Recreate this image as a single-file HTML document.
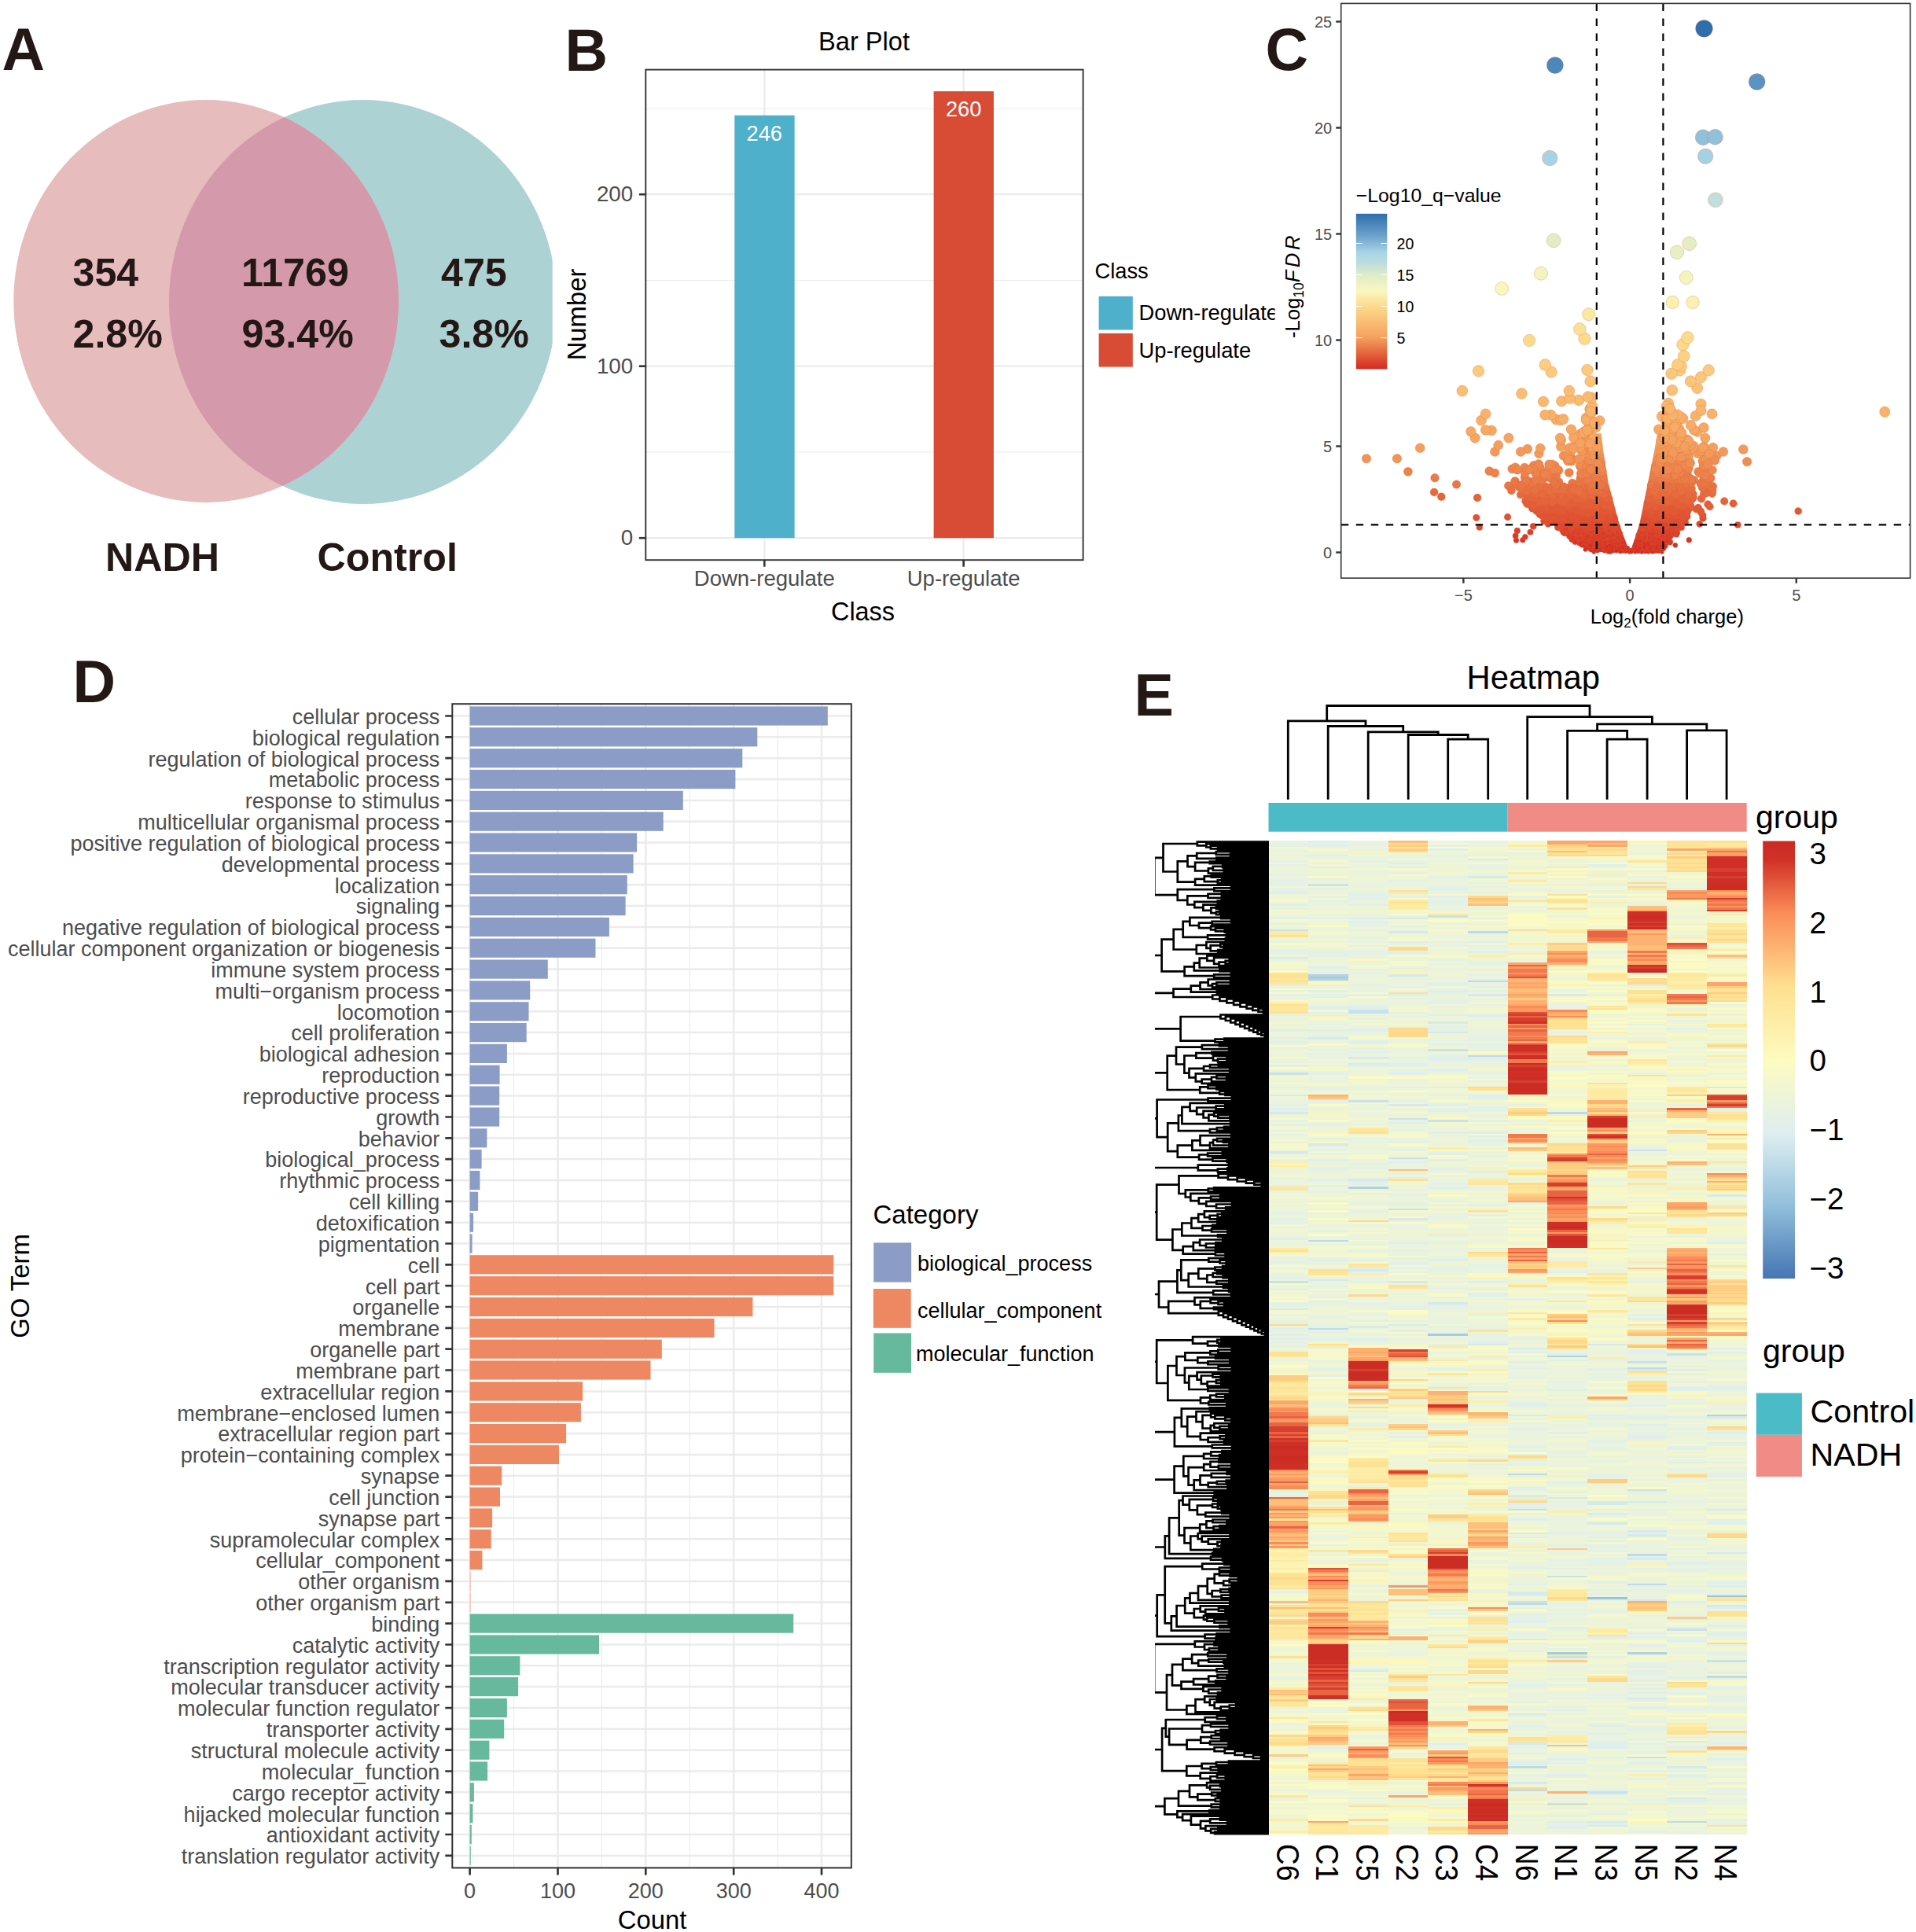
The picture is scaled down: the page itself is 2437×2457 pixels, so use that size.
<!DOCTYPE html>
<html><head><meta charset="utf-8"><title>Figure</title>
<style>html,body{margin:0;padding:0;background:#fff}svg{display:block}text{font-family:"Liberation Sans",sans-serif}</style>
</head><body>
<svg width="2437" height="2457" viewBox="0 0 2437 2457">
<rect width="2437" height="2457" fill="#fff"/>
<defs><clipPath id="vc"><rect x="0" y="100" width="702.7" height="600"/></clipPath><clipPath id="vl"><ellipse cx="262.2" cy="383" rx="244.9" ry="256"/></clipPath></defs>
<g clip-path="url(#vc)">
<ellipse cx="461.6" cy="384" rx="246.6" ry="257" fill="#add2d3"/>
<ellipse cx="262.2" cy="383" rx="244.9" ry="256" fill="#e7bcbd"/>
<g clip-path="url(#vl)"><ellipse cx="461.6" cy="384" rx="246.6" ry="257" fill="#d49aab"/></g>
</g>
<g font-weight="bold" font-size="50.2" fill="#231815">
<text x="92.5" y="363.7">354</text>
<text x="92.5" y="441.9">2.8%</text>
<text x="307" y="363.7">11769</text>
<text x="307.5" y="441.9">93.4%</text>
<text x="561" y="363.7">475</text>
<text x="558.5" y="441.9">3.8%</text>
<text x="134" y="726.1">NADH</text>
<text x="403.5" y="726.1">Control</text>
</g>
<rect x="821.3" y="88.6" width="556.3" height="623.6" fill="#fff"/>
<path d="M821.3 575H1377.6" stroke="#ebebeb" stroke-width="1.1"/>
<path d="M821.3 356.5H1377.6" stroke="#ebebeb" stroke-width="1.1"/>
<path d="M821.3 138H1377.6" stroke="#ebebeb" stroke-width="1.1"/>
<path d="M821.3 684.2H1377.6" stroke="#ebebeb" stroke-width="2.2"/>
<path d="M821.3 465.7H1377.6" stroke="#ebebeb" stroke-width="2.2"/>
<path d="M821.3 247.2H1377.6" stroke="#ebebeb" stroke-width="2.2"/>
<path d="M972.3 88.6V712.2" stroke="#ebebeb" stroke-width="2.2"/>
<path d="M1225.6 88.6V712.2" stroke="#ebebeb" stroke-width="2.2"/>
<rect x="934.3" y="146.7" width="76.3" height="537.5" fill="#4eb0cb"/>
<rect x="1187.6" y="116.1" width="76.3" height="568.1" fill="#d84c36"/>
<rect x="821.3" y="88.6" width="556.3" height="623.6" fill="none" stroke="#333" stroke-width="1.9"/>
<path d="M812.8 684.2H821.3" stroke="#333" stroke-width="2.6"/>
<path d="M812.8 465.7H821.3" stroke="#333" stroke-width="2.6"/>
<path d="M812.8 247.2H821.3" stroke="#333" stroke-width="2.6"/>
<path d="M972.3 712.2V720.7" stroke="#333" stroke-width="2.6"/>
<path d="M1225.6 712.2V720.7" stroke="#333" stroke-width="2.6"/>
<g font-size="27.8" fill="#4d4d4d">
<text x="805.3" y="693.1" text-anchor="end">0</text>
<text x="805.3" y="474.6" text-anchor="end">100</text>
<text x="805.3" y="256.1" text-anchor="end">200</text>
<text x="972.3" y="745.3" text-anchor="middle" font-size="27.5">Down-regulate</text>
<text x="1225.6" y="745.3" text-anchor="middle" font-size="27.5">Up-regulate</text>
</g>
<g font-size="27.2" fill="#fff" text-anchor="middle">
<text x="972.3" y="178.9">246</text><text x="1225.6" y="148.2">260</text></g>
<g fill="#000">
<text x="1099" y="63.8" font-size="32.6" text-anchor="middle">Bar Plot</text>
<text x="1097.5" y="789" font-size="32.4" text-anchor="middle">Class</text>
<text transform="translate(744.5 400) rotate(-90)" font-size="32.8" text-anchor="middle">Number</text>
<text x="1392.5" y="354.2" font-size="27.3">Class</text>
<defs><clipPath id="bl"><rect x="1380" y="300" width="241.6" height="200"/></clipPath></defs>
<g clip-path="url(#bl)" font-size="27.3"><text x="1448.5" y="407.4">Down-regulate</text><text x="1448.5" y="455">Up-regulate</text></g>
</g>
<rect x="1397.6" y="376.8" width="43.2" height="42.7" fill="#4eb0cb"/><rect x="1397.6" y="423.9" width="43.2" height="42.7" fill="#d84c36"/>
<rect x="1705.7" y="4.4" width="723.9" height="730.8" fill="#fff"/>
<defs><linearGradient id="vg" gradientUnits="userSpaceOnUse" x1="0" y1="702.5" x2="0" y2="540.5">
<stop offset="0%" stop-color="#d22a22"/>
<stop offset="21.7%" stop-color="#dd482e"/>
<stop offset="41.7%" stop-color="#e4643c"/>
<stop offset="83.3%" stop-color="#f3a05e"/>
<stop offset="100%" stop-color="#f5ac66"/>
</linearGradient></defs>
<polygon points="2072.7,702 2070.7,696.6 2068.7,691.2 2066.7,685.8 2064.7,680.4 2062.7,675 2060.7,669.6 2059,664.2 2057.6,658.8 2056.1,653.4 2054.7,648 2053.2,642.6 2051.8,637.2 2050.3,631.8 2048.9,626.4 2047.5,621 2046,615.6 1939.8,615.6 1941.9,621 1941.9,626.4 1941.9,631.8 1941.9,637.2 1944.7,642.6 1951.8,648 1958.8,653.4 1965.9,658.8 1972.9,664.2 1980,669.6 1987,675 1994.1,680.4 2001.1,685.8 2008.2,691.2 2015.2,696.6 2022.3,702" fill="url(#vg)"/>
<polygon points="2073.5,702 2075.3,696.6 2077.1,691.2 2079,685.8 2080.8,680.4 2082.6,675 2084.4,669.6 2085.8,664.2 2086.9,658.8 2088,653.4 2089.1,648 2090.2,642.6 2091.3,637.2 2092.4,631.8 2093.5,626.4 2094.5,621 2095.6,615.6 2096.7,610.2 2097.8,604.8 2098.8,599.4 2099.9,594 2101,588.6 2151.4,588.6 2151.4,594 2151.4,599.4 2151.4,604.8 2151.4,610.2 2151.4,615.6 2151.4,621 2151.4,626.4 2151.4,631.8 2151.4,637.2 2151.4,642.6 2151.4,648 2150.4,653.4 2146.4,658.8 2142.4,664.2 2138.3,669.6 2134.3,675 2130.3,680.4 2126.3,685.8 2122.2,691.2 2118.2,696.6 2114.2,702" fill="url(#vg)"/>
<polygon points="2047.5,621.5 2045.9,615.6 2044.9,609.8 2044,604 2043.1,598.1 2042.2,592.2 2041.3,586.4 2040.4,580.5 2039.5,574.7 2038.6,568.9 2038,563 2037.4,557.1 2036.8,551.3 2030.9,551.3 2029.2,557.1 2027.4,563 2025.8,568.9 2024.4,574.7 2023,580.5 2021.6,586.4 2020.2,592.2 2018.8,598.1 2017.4,604 2016,609.8 2014.8,615.6 2014,621.5" fill="url(#vg)"/>
<polygon points="2099.9,594.5 2101.1,588.4 2102.3,582.4 2103.5,576.3 2104.7,570.2 2105.8,564.1 2106.9,558 2107.9,552 2108.9,545.9 2114.8,545.9 2117.3,552 2119.7,558 2122.1,564.1 2124.4,570.2 2126.7,576.3 2128.9,582.4 2131.1,588.4 2133.4,594.5" fill="url(#vg)"/>
<g stroke="#e2622c" stroke-opacity=".3" stroke-width=".9">
<g fill="#d22a22">
<circle cx="2096.7" cy="702.2" r="2.3"/>
<circle cx="2063.4" cy="701.1" r="2.5"/>
<circle cx="2088.5" cy="699.6" r="2.7"/>
<circle cx="2094.4" cy="701.6" r="2.4"/>
<circle cx="2047.9" cy="700.7" r="2.6"/>
<circle cx="2051.6" cy="700.8" r="2.5"/>
<circle cx="2049.4" cy="700.3" r="2.6"/>
<circle cx="2101.8" cy="700.6" r="2.6"/>
<circle cx="2071.3" cy="699.5" r="2.7"/>
<circle cx="2071.9" cy="702" r="2.3"/>
<circle cx="2104.3" cy="701.2" r="2.5"/>
<circle cx="2110.7" cy="699.2" r="2.7"/>
<circle cx="2110.5" cy="701.3" r="2.5"/>
<circle cx="2047.5" cy="699.3" r="2.7"/>
<circle cx="2111.1" cy="700" r="2.6"/>
<circle cx="2053.5" cy="700.2" r="2.6"/>
<circle cx="2099.6" cy="700.8" r="2.5"/>
<circle cx="2056.9" cy="699.1" r="2.7"/>
<circle cx="2088.1" cy="702.4" r="2.2"/>
<circle cx="2040.5" cy="700.5" r="2.6"/>
<circle cx="2065.9" cy="700.6" r="2.6"/>
<circle cx="2074.6" cy="699.7" r="2.7"/>
<circle cx="2056.9" cy="699.8" r="2.7"/>
<circle cx="2025.2" cy="700" r="2.6"/>
<circle cx="2104.6" cy="700.9" r="2.5"/>
<circle cx="2075.6" cy="700.5" r="2.6"/>
<circle cx="2046" cy="700.3" r="2.6"/>
<circle cx="2066.9" cy="700.5" r="2.6"/>
<circle cx="2045.5" cy="702.3" r="2.3"/>
<circle cx="2056.9" cy="700.2" r="2.6"/>
<circle cx="2065.7" cy="700.8" r="2.5"/>
<circle cx="2081.1" cy="699.4" r="2.7"/>
<circle cx="2114" cy="702.4" r="2.2"/>
</g>
<g fill="#d43024">
<circle cx="2036.9" cy="696.5" r="2.9"/>
<circle cx="2067.4" cy="697.6" r="2.9"/>
<circle cx="2062.1" cy="698.6" r="2.8"/>
<circle cx="2015.7" cy="694.2" r="3.1"/>
<circle cx="2054.5" cy="696.5" r="2.9"/>
<circle cx="2056.7" cy="695.6" r="3"/>
<circle cx="2099.6" cy="694.9" r="3"/>
<circle cx="2091.2" cy="694.9" r="3"/>
<circle cx="2016.5" cy="698.7" r="2.8"/>
<circle cx="2070.7" cy="699" r="2.7"/>
<circle cx="2060.3" cy="695.4" r="3"/>
<circle cx="2098.6" cy="694.9" r="3"/>
<circle cx="2098.4" cy="698.3" r="2.8"/>
<circle cx="2034.8" cy="694.4" r="3.1"/>
<circle cx="2038.4" cy="696.3" r="3"/>
<circle cx="2041.1" cy="698.8" r="2.8"/>
<circle cx="2116.2" cy="697.3" r="2.9"/>
<circle cx="2107.5" cy="692.4" r="3.2"/>
<circle cx="2041" cy="695.6" r="3"/>
<circle cx="2029.2" cy="698" r="2.8"/>
<circle cx="2062" cy="695.9" r="3"/>
<circle cx="2059.2" cy="698" r="2.8"/>
<circle cx="2063.6" cy="696.6" r="2.9"/>
<circle cx="2097" cy="695.3" r="3"/>
<circle cx="2102" cy="694.9" r="3"/>
<circle cx="2130.8" cy="693.3" r="3.1"/>
<circle cx="2040" cy="694.9" r="3"/>
<circle cx="2053" cy="695.9" r="3"/>
<circle cx="2098.5" cy="698" r="2.8"/>
<circle cx="2046.2" cy="694.9" r="3"/>
<circle cx="2089.6" cy="699" r="2.7"/>
<circle cx="2071.1" cy="699" r="2.7"/>
<circle cx="2105.6" cy="697.4" r="2.9"/>
<circle cx="2049.9" cy="694.7" r="3.1"/>
<circle cx="2024.2" cy="696.9" r="2.9"/>
<circle cx="2047" cy="694.3" r="3.1"/>
<circle cx="2055.8" cy="696.5" r="2.9"/>
<circle cx="2051" cy="697.3" r="2.9"/>
<circle cx="2099.3" cy="696.5" r="2.9"/>
<circle cx="2089.9" cy="695.9" r="3"/>
<circle cx="2106.9" cy="698" r="2.8"/>
<circle cx="2039.6" cy="694.4" r="3.1"/>
<circle cx="2079" cy="697.6" r="2.9"/>
<circle cx="2040.7" cy="696.7" r="2.9"/>
<circle cx="2070" cy="697" r="2.9"/>
<circle cx="2113.6" cy="693.2" r="3.1"/>
<circle cx="2109.7" cy="695.7" r="3"/>
<circle cx="2085.4" cy="697" r="2.9"/>
<circle cx="2104.5" cy="696.1" r="3"/>
<circle cx="2064" cy="695" r="3"/>
<circle cx="2065.6" cy="698.5" r="2.8"/>
<circle cx="2095.8" cy="696.1" r="3"/>
<circle cx="2023.6" cy="694.8" r="3.1"/>
<circle cx="2085.7" cy="696.6" r="2.9"/>
</g>
<g fill="#d63627">
<circle cx="2098.9" cy="687.1" r="3.4"/>
<circle cx="2061.9" cy="686" r="3.5"/>
<circle cx="2041.8" cy="686.1" r="3.5"/>
<circle cx="2015.8" cy="690.6" r="3.3"/>
<circle cx="2008.4" cy="688.6" r="3.4"/>
<circle cx="2124.5" cy="689.1" r="3.4"/>
<circle cx="2057.2" cy="690.6" r="3.3"/>
<circle cx="2048.3" cy="688.4" r="3.4"/>
<circle cx="2019.7" cy="690" r="3.3"/>
<circle cx="2031.4" cy="691.6" r="3.2"/>
<circle cx="2097.4" cy="692.2" r="3.2"/>
<circle cx="2028" cy="689.9" r="3.3"/>
<circle cx="2053.9" cy="691.6" r="3.2"/>
<circle cx="2119.2" cy="690.5" r="3.3"/>
<circle cx="2021.3" cy="686.6" r="3.5"/>
<circle cx="2105.3" cy="691.7" r="3.2"/>
<circle cx="2002.4" cy="688" r="3.4"/>
<circle cx="2020.9" cy="687" r="3.4"/>
<circle cx="2038" cy="691.3" r="3.2"/>
<circle cx="2008.7" cy="690.8" r="3.3"/>
<circle cx="2099.1" cy="689.9" r="3.3"/>
<circle cx="2017.3" cy="690" r="3.3"/>
<circle cx="2027.4" cy="687.3" r="3.4"/>
<circle cx="2109.7" cy="686.5" r="3.5"/>
<circle cx="2036.4" cy="688.1" r="3.4"/>
<circle cx="2096.9" cy="689.4" r="3.3"/>
<circle cx="2148.3" cy="686.7" r="3.5"/>
<circle cx="2090.1" cy="689" r="3.4"/>
</g>
<g fill="#d83b29">
<circle cx="2059.7" cy="685.4" r="3.5"/>
<circle cx="2042.3" cy="679.8" r="3.7"/>
<circle cx="2020.8" cy="680.3" r="3.7"/>
<circle cx="2097.2" cy="682.9" r="3.6"/>
<circle cx="2094.5" cy="681.8" r="3.7"/>
<circle cx="2014.2" cy="680.4" r="3.7"/>
<circle cx="2020.3" cy="680.4" r="3.7"/>
<circle cx="2023.6" cy="681.2" r="3.7"/>
<circle cx="2047.9" cy="680.5" r="3.7"/>
<circle cx="2045.1" cy="683" r="3.6"/>
<circle cx="2084.2" cy="680.7" r="3.7"/>
<circle cx="2025.8" cy="682" r="3.7"/>
<circle cx="2032.7" cy="681.2" r="3.7"/>
<circle cx="2044.2" cy="679" r="3.8"/>
<circle cx="2005.2" cy="685.3" r="3.5"/>
<circle cx="2030.2" cy="682.8" r="3.6"/>
<circle cx="2051.5" cy="679.6" r="3.7"/>
<circle cx="2008.8" cy="683.3" r="3.6"/>
<circle cx="2032.9" cy="679" r="3.8"/>
<circle cx="2052.8" cy="680.6" r="3.7"/>
<circle cx="2132.3" cy="679.7" r="3.7"/>
<circle cx="2091.9" cy="684.8" r="3.5"/>
<circle cx="2104.4" cy="684.9" r="3.5"/>
<circle cx="2119.4" cy="682.7" r="3.6"/>
<circle cx="2049.5" cy="685.5" r="3.5"/>
<circle cx="2029.7" cy="682.3" r="3.6"/>
</g>
<g fill="#da412b">
<circle cx="2035.6" cy="678.8" r="3.8"/>
<circle cx="2041.7" cy="675.9" r="3.9"/>
<circle cx="2106.9" cy="673.2" r="4"/>
<circle cx="1990.2" cy="674.2" r="3.9"/>
<circle cx="2011" cy="675.1" r="3.9"/>
<circle cx="2055.8" cy="674" r="3.9"/>
<circle cx="2007.4" cy="678.6" r="3.8"/>
<circle cx="1987.5" cy="673.4" r="3.9"/>
<circle cx="2021.6" cy="674.5" r="3.9"/>
<circle cx="2133.2" cy="677.3" r="3.8"/>
<circle cx="2108.6" cy="673.8" r="3.9"/>
<circle cx="2002.4" cy="675.8" r="3.9"/>
<circle cx="2027.7" cy="674.4" r="3.9"/>
<circle cx="2093.9" cy="675" r="3.9"/>
<circle cx="2051.6" cy="678.5" r="3.8"/>
<circle cx="2035.3" cy="672.3" r="4"/>
<circle cx="2040.3" cy="672.6" r="4"/>
<circle cx="2007.8" cy="675.6" r="3.9"/>
<circle cx="2045.9" cy="678.3" r="3.8"/>
<circle cx="2042.9" cy="678.1" r="3.8"/>
<circle cx="2029.8" cy="672.3" r="4"/>
<circle cx="2092.9" cy="677" r="3.8"/>
<circle cx="1993.5" cy="676.7" r="3.8"/>
</g>
<g fill="#dd472e">
<circle cx="2047.8" cy="670.4" r="4"/>
<circle cx="2054.2" cy="670" r="4.1"/>
<circle cx="2210.3" cy="667.5" r="4.1"/>
<circle cx="1997.4" cy="668.2" r="4.1"/>
<circle cx="1950.2" cy="669.3" r="4.1"/>
<circle cx="1969.1" cy="666.3" r="4.2"/>
<circle cx="2039.7" cy="668.7" r="4.1"/>
<circle cx="2011.4" cy="671.1" r="4"/>
<circle cx="2097.2" cy="667.2" r="4.1"/>
<circle cx="2088.8" cy="668.5" r="4.1"/>
<circle cx="2033.6" cy="667.1" r="4.1"/>
<circle cx="2030.9" cy="668.5" r="4.1"/>
<circle cx="1993" cy="667.2" r="4.1"/>
<circle cx="2001.3" cy="666.3" r="4.2"/>
<circle cx="2116.9" cy="670.1" r="4"/>
<circle cx="2031" cy="665.7" r="4.2"/>
<circle cx="1992.8" cy="670.6" r="4"/>
<circle cx="1985.6" cy="668.2" r="4.1"/>
<circle cx="2138.7" cy="670.7" r="4"/>
<circle cx="2114.2" cy="666.7" r="4.1"/>
<circle cx="2030.3" cy="667.5" r="4.1"/>
<circle cx="2022.2" cy="668.5" r="4.1"/>
<circle cx="2030.4" cy="666.2" r="4.2"/>
<circle cx="2012.7" cy="671.7" r="4"/>
<circle cx="1982.8" cy="670.7" r="4"/>
<circle cx="2115.9" cy="667.5" r="4.1"/>
<circle cx="1981.1" cy="665.5" r="4.2"/>
<circle cx="2015.8" cy="671.6" r="4"/>
</g>
<g fill="#de4d30">
<circle cx="2096.5" cy="663.5" r="4.2"/>
<circle cx="1972.8" cy="663.7" r="4.2"/>
<circle cx="2030.2" cy="662.9" r="4.3"/>
<circle cx="1991.6" cy="658.7" r="4.4"/>
<circle cx="2094.2" cy="662.7" r="4.3"/>
<circle cx="2022.1" cy="660.7" r="4.3"/>
<circle cx="2114.7" cy="660" r="4.3"/>
<circle cx="2030.4" cy="658.6" r="4.4"/>
<circle cx="1973.6" cy="662.7" r="4.3"/>
<circle cx="2119.1" cy="661.1" r="4.3"/>
<circle cx="2053.8" cy="664.6" r="4.2"/>
<circle cx="2051.2" cy="660.1" r="4.3"/>
<circle cx="2013.1" cy="662.7" r="4.3"/>
<circle cx="2019.6" cy="658.9" r="4.4"/>
<circle cx="2049.2" cy="663.8" r="4.2"/>
<circle cx="2126.2" cy="660.6" r="4.3"/>
<circle cx="2029.6" cy="659" r="4.4"/>
<circle cx="1973" cy="663.2" r="4.2"/>
<circle cx="2046.2" cy="665.3" r="4.2"/>
<circle cx="1998.8" cy="662.2" r="4.3"/>
<circle cx="2014.9" cy="664.3" r="4.2"/>
<circle cx="1969.5" cy="662.2" r="4.3"/>
<circle cx="2005.9" cy="659.7" r="4.3"/>
<circle cx="2038.1" cy="661.2" r="4.3"/>
</g>
<g fill="#e05233">
<circle cx="2020.1" cy="658.5" r="4.4"/>
<circle cx="2032.9" cy="655.6" r="4.4"/>
<circle cx="2021.9" cy="656" r="4.4"/>
<circle cx="1992.9" cy="653.9" r="4.5"/>
<circle cx="1994.8" cy="655" r="4.5"/>
<circle cx="2029.1" cy="655" r="4.5"/>
<circle cx="2004.3" cy="652.8" r="4.5"/>
<circle cx="2103" cy="653.7" r="4.5"/>
<circle cx="1975.2" cy="656.1" r="4.4"/>
<circle cx="2052.4" cy="657" r="4.4"/>
<circle cx="2047.6" cy="658" r="4.4"/>
<circle cx="1986.5" cy="653.1" r="4.5"/>
<circle cx="2016.8" cy="656.3" r="4.4"/>
<circle cx="2113.3" cy="658.1" r="4.4"/>
<circle cx="1877.8" cy="658.3" r="4.4"/>
<circle cx="1992.8" cy="657.2" r="4.4"/>
<circle cx="2145.9" cy="656.9" r="4.4"/>
<circle cx="2013.9" cy="653.2" r="4.5"/>
<circle cx="2038.4" cy="657" r="4.4"/>
<circle cx="1958.8" cy="654.3" r="4.5"/>
<circle cx="2122.5" cy="653.1" r="4.5"/>
<circle cx="1962.1" cy="652" r="4.5"/>
<circle cx="2142.2" cy="656.1" r="4.4"/>
<circle cx="2099.8" cy="652.9" r="4.5"/>
<circle cx="2132.4" cy="655" r="4.5"/>
<circle cx="2100.8" cy="657.8" r="4.4"/>
<circle cx="2005.1" cy="654.3" r="4.5"/>
</g>
<g fill="#e15836">
<circle cx="1948.8" cy="646.6" r="4.7"/>
<circle cx="1961.4" cy="647" r="4.7"/>
<circle cx="1953.1" cy="646.6" r="4.7"/>
<circle cx="1958.3" cy="647.4" r="4.6"/>
<circle cx="2287.2" cy="650" r="4.6"/>
<circle cx="2107.6" cy="647.5" r="4.6"/>
<circle cx="1985.4" cy="650.4" r="4.6"/>
<circle cx="2148.7" cy="646.7" r="4.7"/>
<circle cx="2102.5" cy="647.3" r="4.6"/>
<circle cx="1993.3" cy="645.4" r="4.7"/>
<circle cx="2029.4" cy="648.5" r="4.6"/>
<circle cx="2117.8" cy="647.6" r="4.6"/>
<circle cx="2163.1" cy="650.1" r="4.6"/>
<circle cx="2042.8" cy="646.8" r="4.7"/>
<circle cx="1984" cy="648.6" r="4.6"/>
<circle cx="1956.2" cy="649.4" r="4.6"/>
<circle cx="1966.8" cy="646.3" r="4.7"/>
<circle cx="2116.7" cy="650.5" r="4.6"/>
<circle cx="1987.6" cy="651.6" r="4.5"/>
<circle cx="2115.8" cy="647.9" r="4.6"/>
<circle cx="1964.3" cy="645.6" r="4.7"/>
<circle cx="2049.6" cy="648.1" r="4.6"/>
<circle cx="1975.9" cy="651" r="4.6"/>
<circle cx="1983.2" cy="649.7" r="4.6"/>
<circle cx="2013.6" cy="648.6" r="4.6"/>
<circle cx="2021.6" cy="651.4" r="4.5"/>
<circle cx="1951.9" cy="645.3" r="4.7"/>
<circle cx="1979.9" cy="649.8" r="4.6"/>
<circle cx="1971.6" cy="648.3" r="4.6"/>
<circle cx="1992.6" cy="648.1" r="4.6"/>
</g>
<g fill="#e35e39">
<circle cx="1996.2" cy="643.2" r="4.7"/>
<circle cx="2018.8" cy="641.4" r="4.8"/>
<circle cx="1953.6" cy="643.4" r="4.7"/>
<circle cx="2010.6" cy="640.5" r="4.8"/>
<circle cx="2002.3" cy="639.3" r="4.8"/>
<circle cx="2038.6" cy="640.1" r="4.8"/>
<circle cx="2037.2" cy="641.8" r="4.8"/>
<circle cx="1976.1" cy="642.2" r="4.8"/>
<circle cx="2033.6" cy="640.4" r="4.8"/>
<circle cx="2046.4" cy="641.7" r="4.8"/>
<circle cx="1975.1" cy="640.6" r="4.8"/>
<circle cx="2019.2" cy="644.6" r="4.7"/>
<circle cx="2150.2" cy="642.8" r="4.7"/>
<circle cx="2001.4" cy="644.9" r="4.7"/>
<circle cx="1989.7" cy="644.5" r="4.7"/>
<circle cx="1964.6" cy="640.6" r="4.8"/>
<circle cx="1949.3" cy="639.2" r="4.8"/>
<circle cx="1997.7" cy="638.7" r="4.8"/>
<circle cx="1966.3" cy="640.9" r="4.8"/>
<circle cx="2134.2" cy="640.2" r="4.8"/>
<circle cx="1942.9" cy="641" r="4.8"/>
<circle cx="2038.5" cy="641.8" r="4.8"/>
<circle cx="1970.2" cy="645" r="4.7"/>
<circle cx="2018.8" cy="644.4" r="4.7"/>
<circle cx="1962.2" cy="643.9" r="4.7"/>
<circle cx="1994.7" cy="642.2" r="4.8"/>
<circle cx="2096.6" cy="639.1" r="4.8"/>
<circle cx="2121.3" cy="643.5" r="4.7"/>
<circle cx="1978" cy="644.3" r="4.7"/>
<circle cx="2100.9" cy="638.4" r="4.8"/>
<circle cx="1954.2" cy="642.9" r="4.7"/>
<circle cx="1981.6" cy="641.6" r="4.8"/>
<circle cx="2095.5" cy="639.4" r="4.8"/>
<circle cx="1966.3" cy="644.5" r="4.7"/>
<circle cx="2029.8" cy="644.4" r="4.7"/>
</g>
<g fill="#e4643c">
<circle cx="1944.5" cy="633" r="5"/>
<circle cx="2029.9" cy="632.9" r="5"/>
<circle cx="1990.3" cy="637.6" r="4.9"/>
<circle cx="2105.1" cy="635.7" r="4.9"/>
<circle cx="2045.8" cy="635.7" r="4.9"/>
<circle cx="2113" cy="631.9" r="5"/>
<circle cx="2111.1" cy="638.2" r="4.8"/>
<circle cx="1879.1" cy="633" r="5"/>
<circle cx="2108" cy="636.7" r="4.9"/>
<circle cx="2026.3" cy="636.5" r="4.9"/>
<circle cx="2002.8" cy="634.5" r="4.9"/>
<circle cx="2120.4" cy="633" r="5"/>
<circle cx="2014.5" cy="634.3" r="4.9"/>
<circle cx="1940.8" cy="637.5" r="4.9"/>
<circle cx="1981" cy="635.4" r="4.9"/>
<circle cx="1989.4" cy="638.2" r="4.8"/>
<circle cx="2028.4" cy="637.1" r="4.9"/>
<circle cx="2004.8" cy="637.4" r="4.9"/>
<circle cx="1989.5" cy="634.8" r="4.9"/>
<circle cx="2021.7" cy="631.9" r="5"/>
<circle cx="2002.5" cy="638" r="4.9"/>
<circle cx="1967.4" cy="636.7" r="4.9"/>
<circle cx="2016.1" cy="637.1" r="4.9"/>
<circle cx="2152.1" cy="635" r="4.9"/>
<circle cx="2164" cy="634.3" r="4.9"/>
<circle cx="1972.8" cy="633.5" r="4.9"/>
<circle cx="2106.7" cy="634.3" r="4.9"/>
<circle cx="1954.7" cy="634.8" r="4.9"/>
<circle cx="2016" cy="631.7" r="5"/>
<circle cx="2140.8" cy="633.1" r="5"/>
<circle cx="2014.5" cy="634.2" r="4.9"/>
<circle cx="2009.8" cy="632.4" r="5"/>
<circle cx="2133.9" cy="635.5" r="4.9"/>
<circle cx="2021.6" cy="636.3" r="4.9"/>
<circle cx="2006.7" cy="631.7" r="5"/>
<circle cx="1949.1" cy="635.9" r="4.9"/>
</g>
<g fill="#e66a3f">
<circle cx="1969" cy="630.2" r="5"/>
<circle cx="2033.3" cy="629.5" r="5"/>
<circle cx="2127.6" cy="629.1" r="5"/>
<circle cx="1943.9" cy="626.1" r="5.1"/>
<circle cx="2035.1" cy="630.5" r="5"/>
<circle cx="2145.9" cy="627.8" r="5.1"/>
<circle cx="1944.9" cy="627.8" r="5.1"/>
<circle cx="2136" cy="626.6" r="5.1"/>
<circle cx="1824.1" cy="626" r="5.1"/>
<circle cx="2038.9" cy="626.6" r="5.1"/>
<circle cx="2043.9" cy="628.3" r="5"/>
<circle cx="2005.8" cy="626.9" r="5.1"/>
<circle cx="1960" cy="628.9" r="5"/>
<circle cx="2041.5" cy="627" r="5.1"/>
<circle cx="1974.1" cy="628.2" r="5.1"/>
<circle cx="2033" cy="630" r="5"/>
<circle cx="2020.9" cy="628.6" r="5"/>
<circle cx="2109.5" cy="630.6" r="5"/>
<circle cx="1957.7" cy="628" r="5.1"/>
<circle cx="1988.1" cy="626.9" r="5.1"/>
<circle cx="1968.1" cy="630.5" r="5"/>
<circle cx="2017.8" cy="630.4" r="5"/>
<circle cx="1965.7" cy="631.1" r="5"/>
<circle cx="2017.2" cy="629" r="5"/>
<circle cx="1948.8" cy="626.4" r="5.1"/>
<circle cx="2113.1" cy="628.3" r="5.1"/>
<circle cx="2153.3" cy="628.2" r="5.1"/>
<circle cx="1974.2" cy="629.3" r="5"/>
<circle cx="2137.7" cy="626.7" r="5.1"/>
<circle cx="2118.1" cy="625.1" r="5.1"/>
<circle cx="2137.3" cy="625.5" r="5.1"/>
<circle cx="2042" cy="625.9" r="5.1"/>
<circle cx="2110.8" cy="630.2" r="5"/>
<circle cx="2123.1" cy="627.9" r="5.1"/>
<circle cx="2123.3" cy="628.8" r="5"/>
<circle cx="1998.7" cy="630.4" r="5"/>
<circle cx="2142.3" cy="631.6" r="5"/>
<circle cx="2177.7" cy="627.4" r="5.1"/>
<circle cx="2036.6" cy="628.1" r="5.1"/>
<circle cx="2121" cy="631.2" r="5"/>
</g>
<g fill="#e77043">
<circle cx="1978.4" cy="619.8" r="5.2"/>
<circle cx="2011.1" cy="624" r="5.1"/>
<circle cx="1966.1" cy="624.2" r="5.1"/>
<circle cx="2143" cy="622.1" r="5.2"/>
<circle cx="2178.6" cy="618.5" r="5.2"/>
<circle cx="2029.4" cy="620.4" r="5.2"/>
<circle cx="1932" cy="619.3" r="5.2"/>
<circle cx="2167.9" cy="620.3" r="5.2"/>
<circle cx="1960" cy="619.8" r="5.2"/>
<circle cx="1969.6" cy="623.6" r="5.1"/>
<circle cx="1978.1" cy="622.6" r="5.2"/>
<circle cx="1941.7" cy="621.2" r="5.2"/>
<circle cx="2178.1" cy="623.8" r="5.1"/>
<circle cx="2165.3" cy="620.1" r="5.2"/>
<circle cx="1996.5" cy="624" r="5.1"/>
<circle cx="2024.9" cy="621.4" r="5.2"/>
<circle cx="1982" cy="624.6" r="5.1"/>
<circle cx="2016.4" cy="624" r="5.1"/>
<circle cx="2029.5" cy="621" r="5.2"/>
<circle cx="1970.8" cy="621.9" r="5.2"/>
<circle cx="2017.1" cy="620.2" r="5.2"/>
<circle cx="2015.8" cy="620.4" r="5.2"/>
<circle cx="1980.6" cy="622.6" r="5.2"/>
<circle cx="2150" cy="624.8" r="5.1"/>
<circle cx="2149.9" cy="623" r="5.2"/>
<circle cx="2018.6" cy="622.7" r="5.2"/>
<circle cx="1961.7" cy="621.6" r="5.2"/>
<circle cx="2001.4" cy="621.3" r="5.2"/>
<circle cx="2007.6" cy="623.9" r="5.1"/>
<circle cx="2108.8" cy="621" r="5.2"/>
<circle cx="2003.2" cy="620.1" r="5.2"/>
<circle cx="2016" cy="623.7" r="5.1"/>
<circle cx="2021.6" cy="624.2" r="5.1"/>
<circle cx="2151.4" cy="621.5" r="5.2"/>
<circle cx="1969.1" cy="621" r="5.2"/>
</g>
<g fill="#e87646">
<circle cx="2132.6" cy="617.2" r="5.3"/>
<circle cx="1982.7" cy="612.7" r="5.3"/>
<circle cx="2148.7" cy="616.7" r="5.3"/>
<circle cx="2016.3" cy="615.3" r="5.3"/>
<circle cx="2017.2" cy="612.5" r="5.4"/>
<circle cx="2020.3" cy="611.5" r="5.4"/>
<circle cx="1960.4" cy="614.4" r="5.3"/>
<circle cx="2144.4" cy="614.2" r="5.3"/>
<circle cx="1943.4" cy="615.5" r="5.3"/>
<circle cx="2124.6" cy="617.9" r="5.3"/>
<circle cx="2030.4" cy="617.5" r="5.3"/>
<circle cx="2028.8" cy="614.1" r="5.3"/>
<circle cx="1944.9" cy="612.9" r="5.3"/>
<circle cx="1925.5" cy="616" r="5.3"/>
<circle cx="2026.6" cy="612.3" r="5.4"/>
<circle cx="2172.1" cy="616.7" r="5.3"/>
<circle cx="1934.4" cy="616.9" r="5.3"/>
<circle cx="2019" cy="614.3" r="5.3"/>
<circle cx="1977.2" cy="611.7" r="5.4"/>
<circle cx="2024.6" cy="616.8" r="5.3"/>
<circle cx="2130.9" cy="616.4" r="5.3"/>
<circle cx="1952.4" cy="616.4" r="5.3"/>
<circle cx="1974.6" cy="618" r="5.2"/>
<circle cx="2016.6" cy="611.8" r="5.4"/>
<circle cx="1958.9" cy="612.1" r="5.4"/>
</g>
<g fill="#ea7c4a">
<circle cx="2111.8" cy="607.4" r="5.4"/>
<circle cx="1939.4" cy="607" r="5.4"/>
<circle cx="2113.8" cy="606.6" r="5.5"/>
<circle cx="2033.1" cy="609.8" r="5.4"/>
<circle cx="2128.4" cy="608" r="5.4"/>
<circle cx="2019.7" cy="610.2" r="5.4"/>
<circle cx="2126.5" cy="608.6" r="5.4"/>
<circle cx="2015.1" cy="610" r="5.4"/>
<circle cx="2175.8" cy="608.1" r="5.4"/>
<circle cx="2029.8" cy="610.7" r="5.4"/>
<circle cx="2114.3" cy="610.4" r="5.4"/>
<circle cx="2118.8" cy="611" r="5.4"/>
<circle cx="2038.8" cy="608.9" r="5.4"/>
<circle cx="2110.8" cy="608.2" r="5.4"/>
<circle cx="2030.4" cy="607.8" r="5.4"/>
<circle cx="2017.8" cy="608" r="5.4"/>
<circle cx="2034.5" cy="607" r="5.4"/>
<circle cx="2147.5" cy="607.3" r="5.4"/>
<circle cx="2111.7" cy="606.8" r="5.5"/>
<circle cx="2010.3" cy="608.1" r="5.4"/>
<circle cx="2131.3" cy="610.3" r="5.4"/>
<circle cx="1979.2" cy="605.1" r="5.5"/>
<circle cx="2167.9" cy="609.4" r="5.4"/>
</g>
<g fill="#ec824d">
<circle cx="2021.6" cy="604.2" r="5.5"/>
<circle cx="2104" cy="604" r="5.5"/>
<circle cx="2014.3" cy="604" r="5.5"/>
<circle cx="2025" cy="601.6" r="5.5"/>
<circle cx="2160.2" cy="599.8" r="5.6"/>
<circle cx="1965" cy="601.1" r="5.5"/>
<circle cx="2144.1" cy="601.1" r="5.6"/>
<circle cx="1982.4" cy="598.2" r="5.6"/>
<circle cx="1894.3" cy="599.1" r="5.6"/>
<circle cx="2122.7" cy="598.4" r="5.6"/>
<circle cx="2132.8" cy="599.4" r="5.6"/>
</g>
<g fill="#ed8850">
<circle cx="2124" cy="593.7" r="5.7"/>
<circle cx="2173.7" cy="596.3" r="5.6"/>
<circle cx="2177.9" cy="597.8" r="5.6"/>
<circle cx="2032.3" cy="596.4" r="5.6"/>
<circle cx="2165.9" cy="597.8" r="5.6"/>
<circle cx="2126.4" cy="593.3" r="5.7"/>
<circle cx="2133.8" cy="596.8" r="5.6"/>
<circle cx="2116.2" cy="593.5" r="5.7"/>
<circle cx="2031.3" cy="592.1" r="5.7"/>
<circle cx="2125.3" cy="593.5" r="5.7"/>
<circle cx="1958.6" cy="594.6" r="5.7"/>
<circle cx="2009.8" cy="592.6" r="5.7"/>
<circle cx="1950.9" cy="592" r="5.7"/>
<circle cx="1972.1" cy="597.7" r="5.6"/>
<circle cx="2019.1" cy="597.5" r="5.6"/>
<circle cx="2034.4" cy="596.2" r="5.6"/>
<circle cx="2166.6" cy="592.5" r="5.7"/>
<circle cx="2019.6" cy="597.1" r="5.6"/>
<circle cx="2121" cy="592.6" r="5.7"/>
<circle cx="1923.3" cy="596.3" r="5.6"/>
<circle cx="2021.2" cy="593.4" r="5.7"/>
</g>
<g fill="#ee8e54">
<circle cx="2148.4" cy="587.6" r="5.8"/>
<circle cx="2177.7" cy="585.2" r="5.8"/>
<circle cx="1999.1" cy="586.3" r="5.8"/>
<circle cx="2017.1" cy="589.6" r="5.7"/>
<circle cx="2129.4" cy="590.2" r="5.7"/>
<circle cx="2134.3" cy="584.9" r="5.8"/>
<circle cx="2109.5" cy="584.7" r="5.8"/>
<circle cx="2142.6" cy="585" r="5.8"/>
<circle cx="2022.8" cy="589.4" r="5.7"/>
<circle cx="2035.6" cy="590.2" r="5.7"/>
<circle cx="1974.5" cy="590.6" r="5.7"/>
<circle cx="2165.6" cy="586.4" r="5.8"/>
<circle cx="1956.9" cy="590.1" r="5.7"/>
<circle cx="2030" cy="587.7" r="5.8"/>
<circle cx="2119.1" cy="587.7" r="5.8"/>
</g>
<g fill="#f09457">
<circle cx="2125.2" cy="584.3" r="5.8"/>
<circle cx="2121.5" cy="583" r="5.8"/>
<circle cx="2114.6" cy="582.8" r="5.8"/>
<circle cx="2136" cy="578" r="5.9"/>
<circle cx="2170.1" cy="578.8" r="5.9"/>
<circle cx="1988.9" cy="579.7" r="5.9"/>
<circle cx="2032" cy="583.6" r="5.8"/>
<circle cx="2020.4" cy="577.8" r="5.9"/>
<circle cx="2169.9" cy="583.7" r="5.8"/>
<circle cx="2031.1" cy="584.3" r="5.8"/>
<circle cx="1993.6" cy="581.1" r="5.9"/>
<circle cx="2026" cy="579.6" r="5.9"/>
<circle cx="2135.9" cy="583.6" r="5.8"/>
<circle cx="2025.2" cy="579.5" r="5.9"/>
<circle cx="1998.8" cy="582.8" r="5.8"/>
<circle cx="2183.4" cy="579.7" r="5.9"/>
<circle cx="2019.9" cy="583.1" r="5.8"/>
<circle cx="2033.3" cy="582.7" r="5.9"/>
</g>
<g fill="#f29a5b">
<circle cx="2161.4" cy="574.9" r="6"/>
<circle cx="2132" cy="572.9" r="6"/>
<circle cx="2159.2" cy="576.6" r="5.9"/>
<circle cx="1942.9" cy="571" r="6"/>
<circle cx="1957.4" cy="576.9" r="5.9"/>
<circle cx="2118.7" cy="574.3" r="6"/>
<circle cx="1901.4" cy="574.5" r="6"/>
<circle cx="2124.5" cy="573.6" r="6"/>
<circle cx="2147.7" cy="576.4" r="5.9"/>
</g>
<g fill="#f3a05e">
<circle cx="2145.9" cy="567.9" r="6.1"/>
<circle cx="2010.6" cy="570.8" r="6"/>
<circle cx="2178.8" cy="569.2" r="6.1"/>
<circle cx="2001.9" cy="568" r="6.1"/>
<circle cx="1806.2" cy="569.7" r="6"/>
<circle cx="2130.3" cy="566.6" r="6.1"/>
<circle cx="2025.1" cy="567.7" r="6.1"/>
<circle cx="2023.2" cy="565.5" r="6.1"/>
<circle cx="2120.8" cy="564.2" r="6.1"/>
<circle cx="2024.5" cy="565.4" r="6.1"/>
<circle cx="2167.4" cy="568" r="6.1"/>
<circle cx="2150.1" cy="566.1" r="6.1"/>
</g>
<g fill="#f4a360">
<circle cx="2139.9" cy="558.8" r="6.2"/>
<circle cx="2023.5" cy="557.9" r="6.2"/>
<circle cx="2118.8" cy="560.2" r="6.2"/>
<circle cx="2024.9" cy="559.8" r="6.2"/>
<circle cx="2123.3" cy="558.1" r="6.2"/>
<circle cx="2131.1" cy="561" r="6.2"/>
<circle cx="2015.8" cy="557.8" r="6.2"/>
<circle cx="2023.6" cy="560" r="6.2"/>
<circle cx="2138" cy="560.5" r="6.2"/>
<circle cx="2145.9" cy="558.9" r="6.2"/>
</g>
<g fill="#f4a662">
<circle cx="2020.1" cy="552.1" r="6.3"/>
<circle cx="2137.2" cy="554.9" r="6.3"/>
<circle cx="1918.9" cy="557" r="6.2"/>
<circle cx="1876.1" cy="557" r="6.2"/>
<circle cx="2009.6" cy="552.3" r="6.3"/>
<circle cx="2006.3" cy="556.9" r="6.2"/>
<circle cx="2168.8" cy="557" r="6.2"/>
<circle cx="2115.1" cy="556.5" r="6.2"/>
</g>
<g fill="#f5a964">
<circle cx="2109.8" cy="546.1" r="6.4"/>
<circle cx="2016.1" cy="548.5" r="6.4"/>
<circle cx="2158.8" cy="549.1" r="6.3"/>
<circle cx="2018" cy="548.9" r="6.3"/>
<circle cx="2021.1" cy="546.9" r="6.4"/>
<circle cx="2167" cy="543.9" r="6.4"/>
<circle cx="2014.1" cy="549.4" r="6.3"/>
<circle cx="2132.8" cy="545" r="6.4"/>
<circle cx="2125.4" cy="545.9" r="6.4"/>
<circle cx="2134.4" cy="548.8" r="6.3"/>
<circle cx="2130.3" cy="546" r="6.4"/>
</g>
<g fill="#f5ac66">
<circle cx="2029.7" cy="543.8" r="6.4"/>
</g>
<g fill="#f6af68">
<circle cx="1979.5" cy="533.5" r="6.6"/>
<circle cx="2138.2" cy="532.1" r="6.6"/>
<circle cx="2017.7" cy="531.4" r="6.6"/>
<circle cx="1884" cy="534.7" r="6.5"/>
<circle cx="2019.4" cy="535.1" r="6.5"/>
<circle cx="2034.7" cy="535.1" r="6.5"/>
</g>
<g fill="#f7b26b">
<circle cx="2113.7" cy="529.5" r="6.6"/>
<circle cx="2119" cy="529.5" r="6.6"/>
<circle cx="1972.6" cy="527.7" r="6.6"/>
</g>
<g fill="#f7b56d">
<circle cx="2022.4" cy="519.9" r="6.7"/>
<circle cx="2123" cy="523.2" r="6.7"/>
<circle cx="2022.8" cy="520.5" r="6.7"/>
</g>
<g fill="#f8b86f">
<circle cx="2025" cy="516.6" r="6.8"/>
<circle cx="1963" cy="510.7" r="6.8"/>
</g>
<g fill="#f8bb71">
<circle cx="2024.4" cy="505.8" r="6.9"/>
<circle cx="2008" cy="508.9" r="6.9"/>
<circle cx="2019.8" cy="504.6" r="6.9"/>
</g>
<g fill="#d22a22">
<circle cx="2029.3" cy="699.5" r="2.7"/>
<circle cx="2092.4" cy="701.8" r="2.4"/>
<circle cx="2040.9" cy="700.8" r="2.5"/>
<circle cx="2070.8" cy="700.9" r="2.5"/>
<circle cx="2073" cy="702.5" r="2.1"/>
<circle cx="2071.7" cy="700" r="2.6"/>
<circle cx="2043.8" cy="699.9" r="2.7"/>
<circle cx="2045.4" cy="702.1" r="2.3"/>
<circle cx="2027.3" cy="702.5" r="2.2"/>
<circle cx="2074.7" cy="700.4" r="2.6"/>
<circle cx="2107.2" cy="700.5" r="2.6"/>
<circle cx="2069.1" cy="700.5" r="2.6"/>
<circle cx="2109.6" cy="700" r="2.6"/>
<circle cx="2048.1" cy="699.2" r="2.7"/>
<circle cx="2055" cy="699.9" r="2.7"/>
<circle cx="2050.8" cy="700" r="2.6"/>
<circle cx="2083.5" cy="699.6" r="2.7"/>
<circle cx="2067.6" cy="701.6" r="2.4"/>
<circle cx="2084.2" cy="701.5" r="2.4"/>
<circle cx="2088.6" cy="702" r="2.3"/>
<circle cx="2066.5" cy="699.3" r="2.7"/>
<circle cx="2108.2" cy="700.9" r="2.5"/>
<circle cx="2083.5" cy="701.4" r="2.5"/>
<circle cx="2046.2" cy="701.2" r="2.5"/>
<circle cx="2099.5" cy="700.9" r="2.5"/>
<circle cx="2060.2" cy="700.1" r="2.6"/>
<circle cx="2060.8" cy="701.8" r="2.4"/>
</g>
<g fill="#d43024">
<circle cx="2115" cy="698.5" r="2.8"/>
<circle cx="2049.2" cy="696.3" r="3"/>
<circle cx="2110" cy="699.1" r="2.7"/>
<circle cx="2055" cy="697.5" r="2.9"/>
<circle cx="2098.9" cy="696.1" r="3"/>
<circle cx="2087.1" cy="697.9" r="2.8"/>
<circle cx="2011.9" cy="693.1" r="3.2"/>
<circle cx="2041.2" cy="694.6" r="3.1"/>
<circle cx="2040.3" cy="697.9" r="2.8"/>
<circle cx="2048" cy="695.5" r="3"/>
<circle cx="2118.2" cy="694.6" r="3.1"/>
<circle cx="2065.2" cy="695.3" r="3"/>
<circle cx="2092.8" cy="694.4" r="3.1"/>
<circle cx="2101.1" cy="695.2" r="3"/>
<circle cx="2104.9" cy="695.5" r="3"/>
<circle cx="2046.1" cy="696.5" r="2.9"/>
<circle cx="2045" cy="697.8" r="2.8"/>
<circle cx="2113.3" cy="697" r="2.9"/>
<circle cx="2023.2" cy="697.9" r="2.8"/>
<circle cx="2053.6" cy="696.7" r="2.9"/>
<circle cx="2042.6" cy="692.5" r="3.2"/>
<circle cx="2033.7" cy="695.9" r="3"/>
<circle cx="2104.7" cy="695" r="3"/>
<circle cx="2080.5" cy="696.8" r="2.9"/>
<circle cx="2045" cy="694.7" r="3.1"/>
<circle cx="2082.4" cy="692.4" r="3.2"/>
<circle cx="2106.5" cy="698.4" r="2.8"/>
<circle cx="2034.1" cy="697.4" r="2.9"/>
<circle cx="2049.5" cy="695.1" r="3"/>
<circle cx="2051" cy="697.3" r="2.9"/>
<circle cx="2044.8" cy="697.8" r="2.8"/>
<circle cx="2036.7" cy="694.9" r="3"/>
<circle cx="2062.8" cy="695.2" r="3"/>
<circle cx="2058.6" cy="698.2" r="2.8"/>
<circle cx="2084.9" cy="695.2" r="3"/>
<circle cx="2040.3" cy="696.6" r="2.9"/>
<circle cx="2041.1" cy="697.9" r="2.8"/>
<circle cx="2090.6" cy="696.1" r="3"/>
<circle cx="2106.7" cy="695.6" r="3"/>
<circle cx="2082.1" cy="695.7" r="3"/>
<circle cx="2033.8" cy="699" r="2.7"/>
<circle cx="2095.9" cy="693.1" r="3.1"/>
<circle cx="2102.2" cy="696.4" r="2.9"/>
<circle cx="2045.8" cy="694.5" r="3.1"/>
</g>
<g fill="#d63627">
<circle cx="2029.9" cy="690.1" r="3.3"/>
<circle cx="2038.7" cy="689.7" r="3.3"/>
<circle cx="1999.3" cy="686.3" r="3.5"/>
<circle cx="2101.8" cy="688.1" r="3.4"/>
<circle cx="2085.6" cy="690.6" r="3.3"/>
<circle cx="2114.6" cy="689" r="3.4"/>
<circle cx="2124.1" cy="690" r="3.3"/>
<circle cx="2048.8" cy="685.7" r="3.5"/>
<circle cx="2026.9" cy="690.3" r="3.3"/>
<circle cx="1936.8" cy="686.7" r="3.5"/>
<circle cx="2041.2" cy="685.9" r="3.5"/>
<circle cx="2100" cy="686.4" r="3.5"/>
<circle cx="2050.5" cy="692" r="3.2"/>
<circle cx="2037.3" cy="691.1" r="3.3"/>
<circle cx="2034" cy="691.7" r="3.2"/>
<circle cx="2012.6" cy="689.2" r="3.3"/>
<circle cx="2030.3" cy="690" r="3.3"/>
<circle cx="2040.5" cy="690.6" r="3.3"/>
<circle cx="2023.8" cy="685.7" r="3.5"/>
<circle cx="2038.2" cy="688" r="3.4"/>
<circle cx="2120.7" cy="688.2" r="3.4"/>
<circle cx="2003.4" cy="689.4" r="3.3"/>
</g>
<g fill="#d83b29">
<circle cx="2047.1" cy="682.8" r="3.6"/>
<circle cx="2016.7" cy="682.1" r="3.6"/>
<circle cx="2086.7" cy="685.3" r="3.5"/>
<circle cx="1996.7" cy="682.7" r="3.6"/>
<circle cx="2029.1" cy="679.4" r="3.7"/>
<circle cx="2098.2" cy="683.1" r="3.6"/>
<circle cx="2028.1" cy="682" r="3.7"/>
<circle cx="2055.9" cy="681.2" r="3.7"/>
<circle cx="2112.4" cy="679.4" r="3.7"/>
<circle cx="2000.2" cy="680.7" r="3.7"/>
<circle cx="2023" cy="682.5" r="3.6"/>
<circle cx="2035.9" cy="682.1" r="3.6"/>
<circle cx="2085.6" cy="680.6" r="3.7"/>
<circle cx="2019.1" cy="684.3" r="3.6"/>
<circle cx="2022.4" cy="682.2" r="3.6"/>
<circle cx="1927.6" cy="681.5" r="3.7"/>
<circle cx="2017.1" cy="684.8" r="3.5"/>
<circle cx="2049.1" cy="681.7" r="3.7"/>
<circle cx="2086.3" cy="683.1" r="3.6"/>
<circle cx="2096.1" cy="679.4" r="3.7"/>
<circle cx="2100.8" cy="682.5" r="3.6"/>
<circle cx="2026.9" cy="684.3" r="3.6"/>
<circle cx="2096.9" cy="684.3" r="3.6"/>
<circle cx="2018.4" cy="681.9" r="3.7"/>
<circle cx="2058.5" cy="679" r="3.8"/>
<circle cx="2109.7" cy="679.2" r="3.8"/>
<circle cx="2092.4" cy="684.3" r="3.6"/>
</g>
<g fill="#da412b">
<circle cx="1999" cy="673.1" r="4"/>
<circle cx="2049.6" cy="672.4" r="4"/>
<circle cx="2051.3" cy="672.1" r="4"/>
<circle cx="2009.2" cy="673.5" r="3.9"/>
<circle cx="2108" cy="675.6" r="3.9"/>
<circle cx="2020.4" cy="673.9" r="3.9"/>
<circle cx="2101.8" cy="674" r="3.9"/>
<circle cx="2043.5" cy="674.6" r="3.9"/>
<circle cx="2128.5" cy="678.5" r="3.8"/>
<circle cx="2002.2" cy="674.2" r="3.9"/>
<circle cx="2048.2" cy="675.8" r="3.9"/>
<circle cx="2110.2" cy="678.4" r="3.8"/>
<circle cx="2107.7" cy="675.8" r="3.9"/>
<circle cx="2092" cy="678.4" r="3.8"/>
<circle cx="2037.4" cy="678.4" r="3.8"/>
<circle cx="2001.7" cy="677.1" r="3.8"/>
<circle cx="1987" cy="673.3" r="4"/>
<circle cx="2054.3" cy="677.7" r="3.8"/>
<circle cx="2048.6" cy="673.2" r="4"/>
<circle cx="1929.8" cy="674.9" r="3.9"/>
<circle cx="2091.2" cy="677.6" r="3.8"/>
<circle cx="2030.1" cy="675.3" r="3.9"/>
<circle cx="1990.1" cy="678.3" r="3.8"/>
<circle cx="2013.5" cy="677.5" r="3.8"/>
<circle cx="2013.5" cy="678.5" r="3.8"/>
<circle cx="2042.6" cy="678.9" r="3.8"/>
<circle cx="2060.1" cy="678.5" r="3.8"/>
<circle cx="2106.3" cy="678.1" r="3.8"/>
<circle cx="1946.4" cy="676.7" r="3.8"/>
</g>
<g fill="#dd472e">
<circle cx="2016.7" cy="666.9" r="4.1"/>
<circle cx="2005.3" cy="667.6" r="4.1"/>
<circle cx="2000.8" cy="666.9" r="4.1"/>
<circle cx="1881.8" cy="670.6" r="4"/>
<circle cx="2031.1" cy="671.7" r="4"/>
<circle cx="2106.4" cy="666.7" r="4.1"/>
<circle cx="1983.3" cy="671.3" r="4"/>
<circle cx="1981.4" cy="667.1" r="4.1"/>
<circle cx="2023.6" cy="671.2" r="4"/>
<circle cx="2032.9" cy="669.2" r="4.1"/>
<circle cx="2112.6" cy="671.1" r="4"/>
<circle cx="2008.3" cy="668.3" r="4.1"/>
<circle cx="1995" cy="665.5" r="4.2"/>
<circle cx="2035.5" cy="667" r="4.1"/>
<circle cx="2019.2" cy="668.5" r="4.1"/>
<circle cx="1981.1" cy="665.8" r="4.2"/>
<circle cx="2021" cy="665.5" r="4.2"/>
<circle cx="2089.1" cy="670.3" r="4"/>
<circle cx="2161.8" cy="666.4" r="4.2"/>
<circle cx="2000.4" cy="665.6" r="4.2"/>
<circle cx="2022.9" cy="671.7" r="4"/>
<circle cx="2008" cy="665.9" r="4.2"/>
<circle cx="2115.7" cy="668.9" r="4.1"/>
<circle cx="2022.4" cy="668.2" r="4.1"/>
<circle cx="1988.7" cy="668.3" r="4.1"/>
<circle cx="2098.1" cy="667.4" r="4.1"/>
<circle cx="2057" cy="670.1" r="4.1"/>
<circle cx="2040.4" cy="671.8" r="4"/>
<circle cx="1981.3" cy="670.7" r="4"/>
<circle cx="2006.3" cy="665.5" r="4.2"/>
<circle cx="2018.8" cy="667.8" r="4.1"/>
<circle cx="2135.6" cy="670.9" r="4"/>
<circle cx="2034.5" cy="669.5" r="4.1"/>
<circle cx="2111.2" cy="665.9" r="4.2"/>
</g>
<g fill="#de4d30">
<circle cx="1992.6" cy="661.2" r="4.3"/>
<circle cx="2048.4" cy="661.4" r="4.3"/>
<circle cx="2030.1" cy="658.9" r="4.4"/>
<circle cx="2140.9" cy="663.3" r="4.2"/>
<circle cx="2021.6" cy="664.1" r="4.2"/>
<circle cx="2043.8" cy="659.1" r="4.4"/>
<circle cx="2166" cy="659.2" r="4.4"/>
<circle cx="2029.8" cy="660.1" r="4.3"/>
<circle cx="2139.8" cy="663" r="4.3"/>
<circle cx="1991.7" cy="660.1" r="4.3"/>
<circle cx="2000.5" cy="662.5" r="4.3"/>
<circle cx="1999" cy="661.9" r="4.3"/>
<circle cx="2137.6" cy="663.2" r="4.2"/>
<circle cx="2005.1" cy="660.1" r="4.3"/>
<circle cx="2035.5" cy="661.1" r="4.3"/>
<circle cx="2025.3" cy="660.6" r="4.3"/>
<circle cx="2123.3" cy="663" r="4.3"/>
<circle cx="1996.2" cy="660.6" r="4.3"/>
<circle cx="2125" cy="659.3" r="4.4"/>
<circle cx="2007.3" cy="664.6" r="4.2"/>
<circle cx="1963.7" cy="662.8" r="4.3"/>
<circle cx="2117.1" cy="665.1" r="4.2"/>
<circle cx="2047.7" cy="659.6" r="4.3"/>
<circle cx="2010.3" cy="661.5" r="4.3"/>
<circle cx="1998.1" cy="659.5" r="4.3"/>
<circle cx="2013.8" cy="661.8" r="4.3"/>
<circle cx="2000" cy="663.5" r="4.2"/>
<circle cx="2100.8" cy="662.3" r="4.3"/>
<circle cx="2142.8" cy="659" r="4.4"/>
<circle cx="2121.8" cy="664.8" r="4.2"/>
<circle cx="2143.6" cy="664.2" r="4.2"/>
<circle cx="1986.6" cy="661.3" r="4.3"/>
<circle cx="2027.2" cy="661.1" r="4.3"/>
</g>
<g fill="#e05233">
<circle cx="1958.1" cy="653.7" r="4.5"/>
<circle cx="2013.7" cy="657.4" r="4.4"/>
<circle cx="1991.7" cy="652.4" r="4.5"/>
<circle cx="2006.6" cy="652.1" r="4.5"/>
<circle cx="2103.8" cy="657.2" r="4.4"/>
<circle cx="1971" cy="656.9" r="4.4"/>
<circle cx="1972.6" cy="658.2" r="4.4"/>
<circle cx="1980.5" cy="654.4" r="4.5"/>
<circle cx="1985.2" cy="658.2" r="4.4"/>
<circle cx="1966.7" cy="656.8" r="4.4"/>
<circle cx="1972.3" cy="653" r="4.5"/>
<circle cx="2107.8" cy="652.5" r="4.5"/>
<circle cx="2135.2" cy="654.1" r="4.5"/>
<circle cx="2132.7" cy="655.2" r="4.5"/>
<circle cx="2052.1" cy="658.5" r="4.4"/>
<circle cx="2033.9" cy="657.2" r="4.4"/>
<circle cx="2030.8" cy="657.1" r="4.4"/>
<circle cx="2126.8" cy="653.6" r="4.5"/>
<circle cx="2049.5" cy="657.7" r="4.4"/>
<circle cx="2005.8" cy="652.2" r="4.5"/>
<circle cx="2122.7" cy="654.7" r="4.5"/>
<circle cx="2165.7" cy="655.3" r="4.5"/>
<circle cx="2033.5" cy="652.3" r="4.5"/>
<circle cx="1963" cy="652.2" r="4.5"/>
<circle cx="1971.3" cy="654.3" r="4.5"/>
<circle cx="1970.8" cy="658" r="4.4"/>
</g>
<g fill="#e15836">
<circle cx="2026.1" cy="646.9" r="4.7"/>
<circle cx="1967.6" cy="646" r="4.7"/>
<circle cx="1969.8" cy="651.1" r="4.6"/>
<circle cx="2038.9" cy="649.4" r="4.6"/>
<circle cx="2117.8" cy="649.8" r="4.6"/>
<circle cx="1999" cy="648.2" r="4.6"/>
<circle cx="1970.8" cy="647.8" r="4.6"/>
<circle cx="2037.2" cy="649.2" r="4.6"/>
<circle cx="1989.3" cy="646.9" r="4.7"/>
<circle cx="2011.8" cy="650.1" r="4.6"/>
<circle cx="1997.2" cy="647.6" r="4.6"/>
<circle cx="2005.2" cy="645.9" r="4.7"/>
<circle cx="2019.2" cy="650.1" r="4.6"/>
<circle cx="2134.3" cy="646.4" r="4.7"/>
<circle cx="1965.7" cy="648" r="4.6"/>
<circle cx="2038.8" cy="647.5" r="4.6"/>
<circle cx="1962.7" cy="645.3" r="4.7"/>
<circle cx="1964.7" cy="647.1" r="4.7"/>
<circle cx="1956" cy="647.8" r="4.6"/>
<circle cx="2010.5" cy="649.6" r="4.6"/>
<circle cx="2157.4" cy="647.4" r="4.6"/>
<circle cx="2160" cy="645.8" r="4.7"/>
<circle cx="2143.8" cy="645.9" r="4.7"/>
<circle cx="2144.9" cy="649.1" r="4.6"/>
<circle cx="2037" cy="651.4" r="4.5"/>
<circle cx="2037" cy="650.8" r="4.6"/>
<circle cx="1988.8" cy="648.5" r="4.6"/>
<circle cx="1980.4" cy="645.3" r="4.7"/>
<circle cx="1980" cy="650" r="4.6"/>
<circle cx="1980" cy="650.7" r="4.6"/>
<circle cx="2020" cy="651.8" r="4.5"/>
<circle cx="2007.2" cy="650.6" r="4.6"/>
<circle cx="1969" cy="647.1" r="4.6"/>
</g>
<g fill="#e35e39">
<circle cx="1946.3" cy="641.4" r="4.8"/>
<circle cx="2003.5" cy="641.7" r="4.8"/>
<circle cx="2013.3" cy="639.8" r="4.8"/>
<circle cx="1962.2" cy="642.5" r="4.8"/>
<circle cx="2046" cy="640.7" r="4.8"/>
<circle cx="2101" cy="639" r="4.8"/>
<circle cx="2037.1" cy="638.5" r="4.8"/>
<circle cx="2020.7" cy="643.8" r="4.7"/>
<circle cx="2020.4" cy="639.4" r="4.8"/>
<circle cx="1958.8" cy="639.1" r="4.8"/>
<circle cx="2041.9" cy="641.9" r="4.8"/>
<circle cx="2039.9" cy="640.3" r="4.8"/>
<circle cx="2097.1" cy="642.7" r="4.7"/>
<circle cx="2172.3" cy="641.3" r="4.8"/>
<circle cx="2003.3" cy="638.8" r="4.8"/>
<circle cx="2097.1" cy="643.9" r="4.7"/>
<circle cx="2103.9" cy="644.7" r="4.7"/>
<circle cx="2128.5" cy="640.7" r="4.8"/>
<circle cx="2204.6" cy="640.4" r="4.8"/>
<circle cx="1964" cy="641.1" r="4.8"/>
<circle cx="2016.6" cy="642.5" r="4.8"/>
<circle cx="2096.4" cy="645.1" r="4.7"/>
<circle cx="2025.3" cy="639.8" r="4.8"/>
<circle cx="2140.7" cy="643.3" r="4.7"/>
<circle cx="1994.7" cy="640.6" r="4.8"/>
<circle cx="2142.1" cy="641.3" r="4.8"/>
<circle cx="1965.2" cy="644.9" r="4.7"/>
<circle cx="1956.6" cy="639.3" r="4.8"/>
<circle cx="1978.4" cy="643" r="4.7"/>
<circle cx="2011.2" cy="638.8" r="4.8"/>
<circle cx="2147.9" cy="641" r="4.8"/>
<circle cx="2122.1" cy="639.4" r="4.8"/>
<circle cx="2174.7" cy="644.2" r="4.7"/>
<circle cx="2029.4" cy="644.6" r="4.7"/>
<circle cx="1953.7" cy="640.5" r="4.8"/>
<circle cx="1956.7" cy="641.5" r="4.8"/>
</g>
<g fill="#e4643c">
<circle cx="2147.2" cy="636.7" r="4.9"/>
<circle cx="1991.3" cy="634" r="4.9"/>
<circle cx="1949.1" cy="638.3" r="4.8"/>
<circle cx="1956.4" cy="638.2" r="4.8"/>
<circle cx="1996.3" cy="636.4" r="4.9"/>
<circle cx="2020.2" cy="637.1" r="4.9"/>
<circle cx="1951.3" cy="635.5" r="4.9"/>
<circle cx="2009.3" cy="635.5" r="4.9"/>
<circle cx="2153.7" cy="632.7" r="5"/>
<circle cx="1976.3" cy="635.5" r="4.9"/>
<circle cx="2136.1" cy="634.4" r="4.9"/>
<circle cx="1958.7" cy="633.1" r="5"/>
<circle cx="1950.2" cy="634.5" r="4.9"/>
<circle cx="1977.1" cy="632.8" r="5"/>
<circle cx="2046.4" cy="634.6" r="4.9"/>
<circle cx="1984.9" cy="635.6" r="4.9"/>
<circle cx="2014.4" cy="633.1" r="5"/>
<circle cx="2145.2" cy="633.2" r="5"/>
<circle cx="2013.2" cy="637.4" r="4.9"/>
<circle cx="1986.4" cy="637.7" r="4.9"/>
<circle cx="2046.1" cy="634.4" r="4.9"/>
<circle cx="1964.9" cy="637.4" r="4.9"/>
<circle cx="2027.6" cy="632.7" r="5"/>
<circle cx="1992.6" cy="631.7" r="5"/>
<circle cx="1965.9" cy="632.2" r="5"/>
<circle cx="1963.6" cy="635.7" r="4.9"/>
<circle cx="2026.9" cy="632.7" r="5"/>
<circle cx="2125.8" cy="635.1" r="4.9"/>
<circle cx="2193.2" cy="637.4" r="4.9"/>
<circle cx="2123.2" cy="636.1" r="4.9"/>
<circle cx="1954.1" cy="636.1" r="4.9"/>
<circle cx="1833.3" cy="631.7" r="5"/>
<circle cx="1990.1" cy="634.4" r="4.9"/>
<circle cx="1984.7" cy="636.6" r="4.9"/>
<circle cx="2042.7" cy="633.6" r="4.9"/>
<circle cx="2100.8" cy="636.8" r="4.9"/>
<circle cx="1940.4" cy="636.9" r="4.9"/>
<circle cx="2000.3" cy="634.8" r="4.9"/>
<circle cx="1976.4" cy="635" r="4.9"/>
<circle cx="1987.3" cy="634" r="4.9"/>
<circle cx="1946.7" cy="632.5" r="5"/>
<circle cx="2127.9" cy="633.9" r="4.9"/>
<circle cx="2101.7" cy="634.1" r="4.9"/>
<circle cx="2029.4" cy="634.5" r="4.9"/>
</g>
<g fill="#e66a3f">
<circle cx="2150.1" cy="630.4" r="5"/>
<circle cx="1972" cy="629.7" r="5"/>
<circle cx="2147.4" cy="631.3" r="5"/>
<circle cx="1968.1" cy="628.3" r="5.1"/>
<circle cx="1979.6" cy="626" r="5.1"/>
<circle cx="1999.1" cy="631.5" r="5"/>
<circle cx="2020.2" cy="629" r="5"/>
<circle cx="2167.3" cy="628.3" r="5.1"/>
<circle cx="2020" cy="628.4" r="5"/>
<circle cx="2102.3" cy="625.4" r="5.1"/>
<circle cx="1986.7" cy="631.2" r="5"/>
<circle cx="1954.6" cy="627.5" r="5.1"/>
<circle cx="2019.6" cy="625.5" r="5.1"/>
<circle cx="2171" cy="626.6" r="5.1"/>
<circle cx="2033.6" cy="628.2" r="5.1"/>
<circle cx="2138.5" cy="625" r="5.1"/>
<circle cx="2032.8" cy="625.5" r="5.1"/>
<circle cx="2107.1" cy="629.8" r="5"/>
<circle cx="2134.9" cy="628.7" r="5"/>
<circle cx="2144.5" cy="629.2" r="5"/>
<circle cx="1934.2" cy="629.1" r="5"/>
<circle cx="1947.5" cy="627.7" r="5.1"/>
<circle cx="1970.5" cy="626.5" r="5.1"/>
<circle cx="2128.4" cy="629" r="5"/>
<circle cx="1941.9" cy="629" r="5"/>
<circle cx="2143.6" cy="625.5" r="5.1"/>
<circle cx="2121.1" cy="627" r="5.1"/>
<circle cx="2026.1" cy="630.3" r="5"/>
<circle cx="1981.2" cy="626.7" r="5.1"/>
</g>
<g fill="#e77043">
<circle cx="2128.1" cy="619.8" r="5.2"/>
<circle cx="2001.2" cy="619.2" r="5.2"/>
<circle cx="1987.7" cy="620.8" r="5.2"/>
<circle cx="1978.9" cy="622.4" r="5.2"/>
<circle cx="2032.8" cy="621.4" r="5.2"/>
<circle cx="1939.6" cy="620.4" r="5.2"/>
<circle cx="2029.4" cy="623.2" r="5.2"/>
<circle cx="1996.8" cy="621.8" r="5.2"/>
<circle cx="1977.1" cy="618.6" r="5.2"/>
<circle cx="1945.2" cy="618.6" r="5.2"/>
<circle cx="2006.4" cy="623.4" r="5.1"/>
<circle cx="2039" cy="623.6" r="5.1"/>
<circle cx="2019.5" cy="621.6" r="5.2"/>
<circle cx="1973.6" cy="621.4" r="5.2"/>
<circle cx="1985.6" cy="621.4" r="5.2"/>
<circle cx="2165.5" cy="618.7" r="5.2"/>
<circle cx="2120.4" cy="621.3" r="5.2"/>
<circle cx="2020.8" cy="618.9" r="5.2"/>
<circle cx="1939.9" cy="620.2" r="5.2"/>
<circle cx="2165.7" cy="619" r="5.2"/>
<circle cx="1999.5" cy="619.2" r="5.2"/>
<circle cx="2122.7" cy="624.5" r="5.1"/>
<circle cx="2148.9" cy="620.3" r="5.2"/>
<circle cx="1953.6" cy="619.6" r="5.2"/>
<circle cx="2101.3" cy="622.2" r="5.2"/>
<circle cx="2040.7" cy="621.6" r="5.2"/>
<circle cx="1971.4" cy="619.9" r="5.2"/>
<circle cx="2138.3" cy="623.7" r="5.1"/>
<circle cx="1997.5" cy="620.4" r="5.2"/>
<circle cx="1999.8" cy="620.4" r="5.2"/>
<circle cx="2035.3" cy="618.6" r="5.2"/>
<circle cx="2139.1" cy="619.5" r="5.2"/>
</g>
<g fill="#e87646">
<circle cx="2020.1" cy="613.4" r="5.3"/>
<circle cx="1999.9" cy="614.2" r="5.3"/>
<circle cx="1944.4" cy="617.8" r="5.3"/>
<circle cx="2125.3" cy="614.8" r="5.3"/>
<circle cx="1945.7" cy="612.3" r="5.4"/>
<circle cx="2117.1" cy="613.6" r="5.3"/>
<circle cx="2036.5" cy="613.2" r="5.3"/>
<circle cx="1852.5" cy="616" r="5.3"/>
<circle cx="2115" cy="617.1" r="5.3"/>
<circle cx="2143.7" cy="614.2" r="5.3"/>
<circle cx="2108.4" cy="616.3" r="5.3"/>
<circle cx="2032.5" cy="617" r="5.3"/>
<circle cx="2172.8" cy="614.2" r="5.3"/>
<circle cx="2022.3" cy="616.8" r="5.3"/>
<circle cx="1927" cy="611.8" r="5.4"/>
<circle cx="2151.2" cy="613.9" r="5.3"/>
<circle cx="2024.2" cy="616.5" r="5.3"/>
<circle cx="2119.7" cy="616.6" r="5.3"/>
<circle cx="2100.3" cy="617.2" r="5.3"/>
<circle cx="1949.9" cy="615.4" r="5.3"/>
<circle cx="1918.6" cy="617.7" r="5.3"/>
<circle cx="2165" cy="613" r="5.3"/>
<circle cx="2119.2" cy="612" r="5.4"/>
<circle cx="2119.2" cy="611.5" r="5.4"/>
<circle cx="1939.4" cy="613.7" r="5.3"/>
</g>
<g fill="#ea7c4a">
<circle cx="1941.1" cy="611.3" r="5.4"/>
<circle cx="2016.2" cy="610.5" r="5.4"/>
<circle cx="2114.8" cy="607.2" r="5.4"/>
<circle cx="2124.7" cy="605.3" r="5.5"/>
<circle cx="1974.1" cy="609" r="5.4"/>
<circle cx="2142.1" cy="610.2" r="5.4"/>
<circle cx="1962.3" cy="610.2" r="5.4"/>
<circle cx="2126.1" cy="608.5" r="5.4"/>
<circle cx="2027.8" cy="606.6" r="5.5"/>
<circle cx="2145.1" cy="610" r="5.4"/>
<circle cx="2014.3" cy="610.6" r="5.4"/>
<circle cx="2035.7" cy="609" r="5.4"/>
<circle cx="2127.6" cy="606" r="5.5"/>
<circle cx="2154.5" cy="610.4" r="5.4"/>
<circle cx="2023.4" cy="606.5" r="5.5"/>
<circle cx="2018.6" cy="606" r="5.5"/>
<circle cx="2038.1" cy="610.6" r="5.4"/>
<circle cx="1825" cy="607.7" r="5.4"/>
<circle cx="1970.7" cy="607.4" r="5.4"/>
<circle cx="2037.5" cy="606.3" r="5.5"/>
</g>
<g fill="#ec824d">
<circle cx="2011.2" cy="601.9" r="5.5"/>
<circle cx="2106" cy="602.2" r="5.5"/>
<circle cx="1939.7" cy="601.6" r="5.5"/>
<circle cx="2119.3" cy="598.6" r="5.6"/>
<circle cx="2134.3" cy="604.3" r="5.5"/>
<circle cx="1995.7" cy="601" r="5.6"/>
<circle cx="2010.9" cy="602.6" r="5.5"/>
<circle cx="2145.3" cy="600.2" r="5.6"/>
<circle cx="2020.2" cy="599.2" r="5.6"/>
<circle cx="2028.8" cy="603.8" r="5.5"/>
<circle cx="1959.8" cy="604" r="5.5"/>
<circle cx="1901.4" cy="601.5" r="5.5"/>
<circle cx="1962.9" cy="603.4" r="5.5"/>
<circle cx="1975.5" cy="598" r="5.6"/>
</g>
<g fill="#ed8850">
<circle cx="2034.6" cy="592.9" r="5.7"/>
<circle cx="1946.3" cy="596.8" r="5.6"/>
<circle cx="2105.9" cy="594.1" r="5.7"/>
<circle cx="2124.4" cy="596.3" r="5.6"/>
<circle cx="2122.7" cy="596.8" r="5.6"/>
<circle cx="1970.3" cy="595.1" r="5.6"/>
<circle cx="1977.4" cy="592.2" r="5.7"/>
<circle cx="2168.3" cy="592.4" r="5.7"/>
<circle cx="2107" cy="592.9" r="5.7"/>
<circle cx="2147.8" cy="595.6" r="5.6"/>
<circle cx="2132.3" cy="595.2" r="5.6"/>
<circle cx="2107.2" cy="596.3" r="5.6"/>
<circle cx="2027.6" cy="597.2" r="5.6"/>
<circle cx="2114.3" cy="597.9" r="5.6"/>
<circle cx="1979.9" cy="596.2" r="5.6"/>
<circle cx="2134.1" cy="593" r="5.7"/>
<circle cx="2027.3" cy="593.9" r="5.7"/>
<circle cx="1927.3" cy="594.4" r="5.7"/>
<circle cx="2012.2" cy="596.5" r="5.6"/>
<circle cx="2145.7" cy="594.1" r="5.7"/>
<circle cx="2121.4" cy="594" r="5.7"/>
<circle cx="2015" cy="596.6" r="5.6"/>
<circle cx="1975.9" cy="596.8" r="5.6"/>
<circle cx="2140.4" cy="593.5" r="5.7"/>
<circle cx="2019.9" cy="593" r="5.7"/>
</g>
<g fill="#ee8e54">
<circle cx="2140.4" cy="585.4" r="5.8"/>
<circle cx="2149.6" cy="588.6" r="5.8"/>
<circle cx="2018.8" cy="591.1" r="5.7"/>
<circle cx="2143.8" cy="589.6" r="5.7"/>
<circle cx="2111.2" cy="589.4" r="5.7"/>
<circle cx="2181" cy="585.4" r="5.8"/>
<circle cx="1994.2" cy="586.2" r="5.8"/>
<circle cx="2030.8" cy="585.2" r="5.8"/>
<circle cx="2026.4" cy="586.9" r="5.8"/>
<circle cx="2036" cy="588.6" r="5.8"/>
<circle cx="2171.9" cy="590.4" r="5.7"/>
<circle cx="2010.6" cy="590.5" r="5.7"/>
<circle cx="2137.7" cy="585.2" r="5.8"/>
</g>
<g fill="#f09457">
<circle cx="2147.4" cy="581.3" r="5.9"/>
<circle cx="2022.4" cy="580.7" r="5.9"/>
<circle cx="2028.3" cy="577.9" r="5.9"/>
<circle cx="2140.9" cy="579.6" r="5.9"/>
<circle cx="1996.6" cy="579.2" r="5.9"/>
<circle cx="2132.5" cy="580.2" r="5.9"/>
<circle cx="2027.2" cy="582.4" r="5.9"/>
<circle cx="2141.5" cy="580" r="5.9"/>
<circle cx="1996.3" cy="581.6" r="5.9"/>
<circle cx="2112.7" cy="579.5" r="5.9"/>
<circle cx="2008.1" cy="583.5" r="5.8"/>
<circle cx="1992.1" cy="579.8" r="5.9"/>
<circle cx="2138.3" cy="581.3" r="5.9"/>
</g>
<g fill="#f29a5b">
<circle cx="2217.3" cy="571.4" r="6"/>
<circle cx="2163.8" cy="573.7" r="6"/>
<circle cx="2014.3" cy="572" r="6"/>
<circle cx="2017.9" cy="571.3" r="6"/>
<circle cx="2028.9" cy="575.6" r="6"/>
<circle cx="2017.3" cy="576.3" r="5.9"/>
<circle cx="2113.8" cy="571.3" r="6"/>
<circle cx="2125.2" cy="574.8" r="6"/>
<circle cx="2122.3" cy="573.1" r="6"/>
<circle cx="1996.8" cy="577" r="5.9"/>
<circle cx="2113.3" cy="575.8" r="6"/>
<circle cx="1934.2" cy="574.5" r="6"/>
<circle cx="2024.8" cy="572" r="6"/>
<circle cx="2191.9" cy="574.5" r="6"/>
<circle cx="2144.4" cy="572.2" r="6"/>
<circle cx="2030.1" cy="575.7" r="6"/>
</g>
<g fill="#f3a05e">
<circle cx="2014.5" cy="566.9" r="6.1"/>
<circle cx="2154.3" cy="567.3" r="6.1"/>
<circle cx="2032.1" cy="566.5" r="6.1"/>
<circle cx="2017.7" cy="568.2" r="6.1"/>
<circle cx="1959.1" cy="570.1" r="6"/>
<circle cx="1995.9" cy="570.7" r="6"/>
<circle cx="1985.3" cy="567.9" r="6.1"/>
<circle cx="2150.4" cy="566.2" r="6.1"/>
<circle cx="2165.6" cy="569.3" r="6.1"/>
<circle cx="2013.4" cy="565.2" r="6.1"/>
<circle cx="2135.3" cy="569.6" r="6"/>
<circle cx="2131.9" cy="566.5" r="6.1"/>
</g>
<g fill="#f4a360">
<circle cx="2142.2" cy="559.5" r="6.2"/>
<circle cx="2113" cy="560" r="6.2"/>
<circle cx="1985.5" cy="559.5" r="6.2"/>
<circle cx="2022.7" cy="560.4" r="6.2"/>
<circle cx="2012.4" cy="564" r="6.1"/>
<circle cx="2026.1" cy="560" r="6.2"/>
<circle cx="2029.3" cy="559.2" r="6.2"/>
<circle cx="2148.1" cy="561.1" r="6.2"/>
</g>
<g fill="#f4a662">
<circle cx="2137.7" cy="555.6" r="6.3"/>
<circle cx="2138.7" cy="551" r="6.3"/>
<circle cx="2125.5" cy="557.3" r="6.2"/>
<circle cx="2137.1" cy="555.5" r="6.3"/>
<circle cx="2026.9" cy="556.5" r="6.2"/>
<circle cx="2001.4" cy="556.7" r="6.2"/>
</g>
<g fill="#f5a964">
<circle cx="1897.1" cy="547.4" r="6.4"/>
<circle cx="2126.1" cy="545" r="6.4"/>
<circle cx="1889.6" cy="546.9" r="6.4"/>
<circle cx="2154.8" cy="546.9" r="6.4"/>
<circle cx="2134.4" cy="545" r="6.4"/>
<circle cx="1998.4" cy="546.1" r="6.4"/>
<circle cx="2135.5" cy="544.8" r="6.4"/>
<circle cx="2014.7" cy="550.3" r="6.3"/>
</g>
<g fill="#f5ac66">
<circle cx="2122.8" cy="540.3" r="6.5"/>
<circle cx="2021.7" cy="542.1" r="6.4"/>
<circle cx="2021.2" cy="538.3" r="6.5"/>
<circle cx="2131.4" cy="540.2" r="6.5"/>
<circle cx="2130.1" cy="543.4" r="6.4"/>
<circle cx="2022.9" cy="543" r="6.4"/>
</g>
<g fill="#f6af68">
<circle cx="2140.4" cy="532.2" r="6.6"/>
<circle cx="1985.3" cy="534.3" r="6.5"/>
<circle cx="2119.2" cy="536.4" r="6.5"/>
<circle cx="2021.7" cy="535.6" r="6.5"/>
<circle cx="2024.2" cy="535.4" r="6.5"/>
<circle cx="2017.5" cy="534.2" r="6.5"/>
</g>
<g fill="#f7b26b">
<circle cx="2397.3" cy="523.8" r="6.7"/>
<circle cx="2023.6" cy="525.6" r="6.7"/>
<circle cx="2125.7" cy="523.9" r="6.7"/>
<circle cx="1889.6" cy="526.4" r="6.6"/>
<circle cx="2156.7" cy="528.9" r="6.6"/>
</g>
<g fill="#f7b56d">
<circle cx="2122.9" cy="517.7" r="6.8"/>
<circle cx="2023.5" cy="523.1" r="6.7"/>
</g>
<g fill="#f8b86f">
<circle cx="2163.5" cy="513.7" r="6.8"/>
<circle cx="2122.1" cy="512.8" r="6.8"/>
<circle cx="1986.2" cy="510.2" r="6.8"/>
<circle cx="2119.6" cy="516.7" r="6.8"/>
</g>
<g fill="#f9be73">
<circle cx="1935.5" cy="500.6" r="7"/>
</g>
<g fill="#d22a22">
<circle cx="2075.3" cy="702" r="2.3"/>
<circle cx="2099.4" cy="699.5" r="2.7"/>
<circle cx="2101.7" cy="702.1" r="2.3"/>
<circle cx="2048.5" cy="702.5" r="2.2"/>
<circle cx="2031.7" cy="700.8" r="2.5"/>
<circle cx="2082.3" cy="699.6" r="2.7"/>
<circle cx="2033.2" cy="699.5" r="2.7"/>
<circle cx="2050.3" cy="700.3" r="2.6"/>
<circle cx="2079.9" cy="702.5" r="2.1"/>
<circle cx="2075" cy="701.7" r="2.4"/>
<circle cx="2067.1" cy="700.2" r="2.6"/>
<circle cx="2044.7" cy="699.2" r="2.7"/>
<circle cx="2093.7" cy="699.4" r="2.7"/>
<circle cx="2055.9" cy="700.3" r="2.6"/>
</g>
<g fill="#d43024">
<circle cx="2049.9" cy="693.8" r="3.1"/>
<circle cx="2023" cy="693.6" r="3.1"/>
<circle cx="2066.4" cy="698.9" r="2.8"/>
<circle cx="2084.9" cy="697.2" r="2.9"/>
<circle cx="2046.9" cy="694.4" r="3.1"/>
<circle cx="2034.9" cy="698.7" r="2.8"/>
<circle cx="2042.7" cy="698.1" r="2.8"/>
<circle cx="2092.8" cy="698.3" r="2.8"/>
<circle cx="2100.9" cy="695.7" r="3"/>
<circle cx="2063.2" cy="695.2" r="3"/>
<circle cx="2115.2" cy="698.4" r="2.8"/>
<circle cx="2091.8" cy="696.8" r="2.9"/>
<circle cx="2064" cy="697" r="2.9"/>
<circle cx="2091.7" cy="692.7" r="3.2"/>
<circle cx="2113" cy="692.9" r="3.2"/>
<circle cx="2043.6" cy="695.3" r="3"/>
<circle cx="2049.5" cy="697.5" r="2.9"/>
<circle cx="2059.5" cy="697.4" r="2.9"/>
<circle cx="2098.7" cy="698" r="2.8"/>
<circle cx="2091.4" cy="695.8" r="3"/>
</g>
<g fill="#d63627">
<circle cx="2010" cy="690.7" r="3.3"/>
<circle cx="1928.5" cy="687.2" r="3.4"/>
<circle cx="2089.6" cy="686.7" r="3.5"/>
<circle cx="2041.3" cy="688.6" r="3.4"/>
<circle cx="2085.5" cy="688.3" r="3.4"/>
<circle cx="2113.3" cy="689.6" r="3.3"/>
</g>
<g fill="#d83b29">
<circle cx="2042.6" cy="681.9" r="3.7"/>
<circle cx="2091.7" cy="683.7" r="3.6"/>
<circle cx="2051.9" cy="679.9" r="3.7"/>
<circle cx="2085" cy="681.6" r="3.7"/>
<circle cx="1939.9" cy="682.8" r="3.6"/>
<circle cx="1995.8" cy="681.1" r="3.7"/>
<circle cx="2000.2" cy="683.8" r="3.6"/>
<circle cx="2029.7" cy="684.3" r="3.6"/>
<circle cx="2101.5" cy="679.2" r="3.8"/>
<circle cx="2033.3" cy="682.5" r="3.6"/>
<circle cx="2114.7" cy="682.5" r="3.6"/>
<circle cx="2040.2" cy="684.5" r="3.6"/>
<circle cx="2038.7" cy="683.4" r="3.6"/>
<circle cx="2057.7" cy="682.2" r="3.6"/>
<circle cx="2038.7" cy="678.9" r="3.8"/>
</g>
<g fill="#da412b">
<circle cx="2057.1" cy="675.3" r="3.9"/>
<circle cx="2056.4" cy="672.5" r="4"/>
<circle cx="2023.1" cy="675.8" r="3.9"/>
<circle cx="2057.3" cy="677.2" r="3.8"/>
<circle cx="2007.6" cy="678.1" r="3.8"/>
<circle cx="1988.4" cy="676.7" r="3.8"/>
<circle cx="2035.9" cy="672.8" r="4"/>
<circle cx="2047.8" cy="674.3" r="3.9"/>
<circle cx="1991.8" cy="673.3" r="4"/>
<circle cx="2024.4" cy="676.4" r="3.8"/>
<circle cx="2087.6" cy="678" r="3.8"/>
</g>
<g fill="#dd472e">
<circle cx="1998.2" cy="670.6" r="4"/>
<circle cx="2022.4" cy="671.3" r="4"/>
<circle cx="1997.9" cy="667.9" r="4.1"/>
<circle cx="1981.6" cy="667.8" r="4.1"/>
<circle cx="2023.4" cy="665.9" r="4.2"/>
<circle cx="2118.4" cy="667.8" r="4.1"/>
<circle cx="2039.8" cy="667.3" r="4.1"/>
<circle cx="2024.1" cy="669.7" r="4.1"/>
<circle cx="2054.1" cy="669.1" r="4.1"/>
<circle cx="2052.5" cy="671.8" r="4"/>
<circle cx="2046.6" cy="668.9" r="4.1"/>
</g>
<g fill="#de4d30">
<circle cx="2051" cy="662.7" r="4.3"/>
<circle cx="2031.4" cy="662.3" r="4.3"/>
<circle cx="2051.9" cy="662.6" r="4.3"/>
<circle cx="1997.2" cy="661.2" r="4.3"/>
<circle cx="2004.3" cy="660.3" r="4.3"/>
<circle cx="2018.8" cy="662.8" r="4.3"/>
<circle cx="2053.4" cy="658.9" r="4.4"/>
<circle cx="2036.5" cy="660.1" r="4.3"/>
<circle cx="2005.5" cy="660.3" r="4.3"/>
<circle cx="2040.9" cy="665.3" r="4.2"/>
<circle cx="2008.9" cy="660.1" r="4.3"/>
<circle cx="1993.2" cy="660" r="4.3"/>
<circle cx="1982.4" cy="660.4" r="4.3"/>
<circle cx="2031.3" cy="663.9" r="4.2"/>
<circle cx="2002.6" cy="662" r="4.3"/>
</g>
<g fill="#e05233">
<circle cx="1970.6" cy="656.2" r="4.4"/>
<circle cx="1961" cy="655.8" r="4.4"/>
<circle cx="1976.3" cy="652.9" r="4.5"/>
<circle cx="2034.5" cy="652.4" r="4.5"/>
<circle cx="2034.5" cy="656.7" r="4.4"/>
<circle cx="2141.9" cy="657.3" r="4.4"/>
<circle cx="2035.8" cy="653.8" r="4.5"/>
<circle cx="2049.1" cy="652.6" r="4.5"/>
<circle cx="2140.6" cy="652.9" r="4.5"/>
<circle cx="2138.2" cy="655.1" r="4.5"/>
<circle cx="1966" cy="655.9" r="4.4"/>
<circle cx="1974.6" cy="652.5" r="4.5"/>
<circle cx="2133.2" cy="654.5" r="4.5"/>
<circle cx="1963.1" cy="653.7" r="4.5"/>
<circle cx="1991.1" cy="652.6" r="4.5"/>
<circle cx="2128.3" cy="652.5" r="4.5"/>
<circle cx="2112.7" cy="657.9" r="4.4"/>
<circle cx="1974.3" cy="654.1" r="4.5"/>
<circle cx="1986.1" cy="657.1" r="4.4"/>
<circle cx="1973.5" cy="652.5" r="4.5"/>
<circle cx="1983.1" cy="658.3" r="4.4"/>
<circle cx="2007" cy="658.2" r="4.4"/>
<circle cx="2037.9" cy="658.1" r="4.4"/>
<circle cx="2035" cy="656.2" r="4.4"/>
<circle cx="1998.7" cy="656" r="4.4"/>
<circle cx="1988" cy="656.9" r="4.4"/>
<circle cx="1962.5" cy="654.5" r="4.5"/>
<circle cx="1917.6" cy="657.5" r="4.4"/>
</g>
<g fill="#e15836">
<circle cx="2012.7" cy="650.4" r="4.6"/>
<circle cx="2099.8" cy="650.6" r="4.6"/>
<circle cx="2163.3" cy="651" r="4.6"/>
<circle cx="2126" cy="646.4" r="4.7"/>
<circle cx="1961.4" cy="649" r="4.6"/>
<circle cx="2112.5" cy="651.3" r="4.6"/>
<circle cx="2005.5" cy="648" r="4.6"/>
<circle cx="2012.4" cy="647.9" r="4.6"/>
<circle cx="2033.4" cy="650" r="4.6"/>
<circle cx="2128.8" cy="650.5" r="4.6"/>
<circle cx="2018.7" cy="651.4" r="4.5"/>
<circle cx="1957.8" cy="648.8" r="4.6"/>
<circle cx="1987.3" cy="649.4" r="4.6"/>
<circle cx="1983.5" cy="650.3" r="4.6"/>
<circle cx="2024.6" cy="651.5" r="4.5"/>
<circle cx="2047.8" cy="650" r="4.6"/>
<circle cx="2009.3" cy="647.6" r="4.6"/>
<circle cx="1954.2" cy="649.9" r="4.6"/>
<circle cx="1974.7" cy="647.5" r="4.6"/>
<circle cx="1979.3" cy="645.7" r="4.7"/>
<circle cx="1973.8" cy="647.4" r="4.6"/>
</g>
<g fill="#e35e39">
<circle cx="2000.2" cy="639.1" r="4.8"/>
<circle cx="2011.6" cy="641.9" r="4.8"/>
<circle cx="2039.9" cy="642.3" r="4.8"/>
<circle cx="2097.6" cy="641.1" r="4.8"/>
<circle cx="2134.2" cy="641.5" r="4.8"/>
<circle cx="1995.4" cy="642.2" r="4.8"/>
<circle cx="1950.2" cy="642" r="4.8"/>
<circle cx="2015.8" cy="642.3" r="4.8"/>
<circle cx="2048" cy="644.4" r="4.7"/>
<circle cx="2022.6" cy="640.1" r="4.8"/>
<circle cx="1996.8" cy="640" r="4.8"/>
<circle cx="1942" cy="640" r="4.8"/>
</g>
<g fill="#e4643c">
<circle cx="2145.9" cy="636.4" r="4.9"/>
<circle cx="2121.1" cy="637.3" r="4.9"/>
<circle cx="1974.7" cy="638.4" r="4.8"/>
<circle cx="1989.3" cy="638.3" r="4.8"/>
<circle cx="1992.6" cy="634.7" r="4.9"/>
<circle cx="2139.6" cy="635.3" r="4.9"/>
<circle cx="2097" cy="634" r="4.9"/>
<circle cx="2127.7" cy="632.1" r="5"/>
<circle cx="1943.4" cy="632.3" r="5"/>
<circle cx="1979.9" cy="633.4" r="4.9"/>
<circle cx="2004.9" cy="633.7" r="4.9"/>
<circle cx="2031.4" cy="634.7" r="4.9"/>
<circle cx="1974.6" cy="633.5" r="4.9"/>
</g>
<g fill="#e66a3f">
<circle cx="2020.5" cy="625.3" r="5.1"/>
<circle cx="1961.7" cy="627.8" r="5.1"/>
<circle cx="2010.8" cy="628.7" r="5"/>
<circle cx="2117.1" cy="629.9" r="5"/>
<circle cx="2009.2" cy="627.1" r="5.1"/>
<circle cx="1971.8" cy="628.2" r="5.1"/>
<circle cx="2147.6" cy="629.1" r="5"/>
<circle cx="2130.5" cy="628" r="5.1"/>
<circle cx="2036.3" cy="625.8" r="5.1"/>
<circle cx="2098.8" cy="626.5" r="5.1"/>
<circle cx="1997" cy="627.3" r="5.1"/>
<circle cx="1971" cy="625.3" r="5.1"/>
<circle cx="2040.2" cy="627.8" r="5.1"/>
<circle cx="1975.2" cy="629.3" r="5"/>
<circle cx="2001" cy="625.2" r="5.1"/>
<circle cx="2014.9" cy="629.5" r="5"/>
<circle cx="2131.5" cy="629.4" r="5"/>
</g>
<g fill="#e77043">
<circle cx="1972.2" cy="624.5" r="5.1"/>
<circle cx="2025.1" cy="622.5" r="5.2"/>
<circle cx="2104.4" cy="624.8" r="5.1"/>
<circle cx="1942.9" cy="624.7" r="5.1"/>
<circle cx="2000" cy="619.9" r="5.2"/>
<circle cx="1981.5" cy="622.6" r="5.2"/>
<circle cx="1922.4" cy="623.8" r="5.1"/>
<circle cx="1988.5" cy="622.2" r="5.2"/>
<circle cx="2033" cy="624.6" r="5.1"/>
<circle cx="1952.1" cy="623.2" r="5.2"/>
<circle cx="2106.9" cy="620.5" r="5.2"/>
<circle cx="2008.9" cy="624.6" r="5.1"/>
<circle cx="2001.1" cy="621.2" r="5.2"/>
<circle cx="2022.1" cy="618.8" r="5.2"/>
<circle cx="2001.9" cy="622.8" r="5.2"/>
<circle cx="1989.2" cy="618.9" r="5.2"/>
<circle cx="2033.3" cy="618.8" r="5.2"/>
<circle cx="2029.5" cy="621.4" r="5.2"/>
<circle cx="2136.3" cy="618.3" r="5.2"/>
<circle cx="1966.8" cy="619.3" r="5.2"/>
<circle cx="1972.3" cy="624.3" r="5.1"/>
<circle cx="1975.7" cy="621.8" r="5.2"/>
<circle cx="1977.7" cy="622.1" r="5.2"/>
<circle cx="2122.4" cy="618.5" r="5.2"/>
</g>
<g fill="#e87646">
<circle cx="2036.6" cy="617" r="5.3"/>
<circle cx="2025.4" cy="615" r="5.3"/>
<circle cx="1935.5" cy="618" r="5.2"/>
<circle cx="2163.2" cy="615.2" r="5.3"/>
<circle cx="2022.1" cy="611.7" r="5.4"/>
<circle cx="2008.9" cy="613" r="5.3"/>
<circle cx="2023.2" cy="614.3" r="5.3"/>
<circle cx="2170.4" cy="615.6" r="5.3"/>
<circle cx="1979.2" cy="615.8" r="5.3"/>
<circle cx="2168.2" cy="614.4" r="5.3"/>
<circle cx="2025.7" cy="616.8" r="5.3"/>
<circle cx="1976.4" cy="613.4" r="5.3"/>
<circle cx="2014.4" cy="611.6" r="5.4"/>
</g>
<g fill="#ea7c4a">
<circle cx="2144" cy="605.7" r="5.5"/>
<circle cx="2173" cy="607.7" r="5.4"/>
<circle cx="2033.8" cy="604.8" r="5.5"/>
<circle cx="1953.1" cy="610.3" r="5.4"/>
<circle cx="2030" cy="609.5" r="5.4"/>
<circle cx="2151.2" cy="611" r="5.4"/>
<circle cx="1964.8" cy="606" r="5.5"/>
<circle cx="2150.9" cy="609.1" r="5.4"/>
<circle cx="2120.2" cy="608.1" r="5.4"/>
<circle cx="2019.8" cy="609.7" r="5.4"/>
<circle cx="2112.3" cy="609.1" r="5.4"/>
<circle cx="2138.2" cy="609.9" r="5.4"/>
<circle cx="2142.7" cy="609.5" r="5.4"/>
</g>
<g fill="#ec824d">
<circle cx="2162.2" cy="602.2" r="5.5"/>
<circle cx="2137.2" cy="601.2" r="5.5"/>
<circle cx="2168.7" cy="604.4" r="5.5"/>
<circle cx="2011.8" cy="603.1" r="5.5"/>
<circle cx="1953.1" cy="602" r="5.5"/>
<circle cx="2131.9" cy="598.1" r="5.6"/>
<circle cx="1968.2" cy="604.1" r="5.5"/>
<circle cx="2108" cy="602.1" r="5.5"/>
<circle cx="2032.2" cy="601.4" r="5.5"/>
<circle cx="1964.8" cy="603.2" r="5.5"/>
<circle cx="2037.8" cy="599.9" r="5.6"/>
<circle cx="2130.7" cy="604" r="5.5"/>
<circle cx="1790.9" cy="599.8" r="5.6"/>
<circle cx="2118.6" cy="603.6" r="5.5"/>
<circle cx="2018" cy="602.4" r="5.5"/>
</g>
<g fill="#ed8850">
<circle cx="2018.2" cy="592.8" r="5.7"/>
<circle cx="2035.6" cy="595.8" r="5.6"/>
<circle cx="1957.5" cy="591.8" r="5.7"/>
<circle cx="1939.1" cy="594.7" r="5.7"/>
<circle cx="2034.6" cy="595.8" r="5.6"/>
<circle cx="1942.2" cy="597.3" r="5.6"/>
<circle cx="2036.4" cy="596.3" r="5.6"/>
<circle cx="2026.2" cy="595.7" r="5.6"/>
<circle cx="1950.1" cy="596" r="5.6"/>
<circle cx="2022.2" cy="597" r="5.6"/>
<circle cx="2126.3" cy="596.3" r="5.6"/>
<circle cx="2127.5" cy="595.7" r="5.6"/>
<circle cx="2024.5" cy="597.8" r="5.6"/>
<circle cx="2139.7" cy="591.9" r="5.7"/>
<circle cx="2105.9" cy="596.8" r="5.6"/>
<circle cx="2120.6" cy="597.3" r="5.6"/>
<circle cx="2026.3" cy="596" r="5.6"/>
<circle cx="1945.7" cy="597" r="5.6"/>
<circle cx="2133.6" cy="596.6" r="5.6"/>
<circle cx="2143.7" cy="591.9" r="5.7"/>
<circle cx="2023.3" cy="597.1" r="5.6"/>
<circle cx="2035" cy="591.3" r="5.7"/>
<circle cx="1929.8" cy="597.6" r="5.6"/>
</g>
<g fill="#ee8e54">
<circle cx="1970.4" cy="590.4" r="5.7"/>
<circle cx="2032.3" cy="589.7" r="5.7"/>
<circle cx="2020.7" cy="585.4" r="5.8"/>
<circle cx="1997.5" cy="584.4" r="5.8"/>
<circle cx="2023.5" cy="585.2" r="5.8"/>
<circle cx="2149.7" cy="589.2" r="5.7"/>
<circle cx="2222.1" cy="587.1" r="5.8"/>
</g>
<g fill="#f09457">
<circle cx="2112.3" cy="583.2" r="5.8"/>
<circle cx="1776.9" cy="583.2" r="5.8"/>
<circle cx="1995.1" cy="584.3" r="5.8"/>
<circle cx="1738" cy="583.2" r="5.8"/>
<circle cx="2023" cy="578.8" r="5.9"/>
<circle cx="2115.1" cy="582.8" r="5.8"/>
<circle cx="2027.2" cy="579.1" r="5.9"/>
</g>
<g fill="#f29a5b">
<circle cx="2128.2" cy="575.4" r="6"/>
<circle cx="2173.8" cy="577.1" r="5.9"/>
<circle cx="2116" cy="575.7" r="6"/>
<circle cx="2027.5" cy="572.1" r="6"/>
<circle cx="2012.8" cy="572.9" r="6"/>
<circle cx="2012.1" cy="573.5" r="6"/>
<circle cx="2025.4" cy="571.9" r="6"/>
</g>
<g fill="#f3a05e">
<circle cx="2025.5" cy="568.7" r="6.1"/>
<circle cx="2011.2" cy="568.7" r="6.1"/>
<circle cx="2014.7" cy="564.5" r="6.1"/>
<circle cx="2142.8" cy="568" r="6.1"/>
<circle cx="2009.7" cy="569.9" r="6"/>
<circle cx="2031.2" cy="568.5" r="6.1"/>
<circle cx="1997.4" cy="569.1" r="6.1"/>
<circle cx="1905.8" cy="566.2" r="6.1"/>
<circle cx="2001.2" cy="570.5" r="6"/>
</g>
<g fill="#f4a360">
<circle cx="2132.4" cy="563.2" r="6.1"/>
<circle cx="2022" cy="563.9" r="6.1"/>
<circle cx="2010.1" cy="563.6" r="6.1"/>
<circle cx="2127" cy="559.9" r="6.2"/>
</g>
<g fill="#f4a662">
<circle cx="2116.8" cy="557" r="6.2"/>
<circle cx="1984.4" cy="557" r="6.2"/>
<circle cx="2117" cy="556.9" r="6.2"/>
<circle cx="2138.7" cy="550.7" r="6.3"/>
</g>
<g fill="#f5a964">
<circle cx="2117.7" cy="547.8" r="6.4"/>
<circle cx="2018.8" cy="547.3" r="6.4"/>
<circle cx="1870.8" cy="548.7" r="6.3"/>
</g>
<g fill="#f5ac66">
<circle cx="2027.8" cy="538" r="6.5"/>
<circle cx="2150.5" cy="540.8" r="6.5"/>
</g>
<g fill="#f6af68">
<circle cx="2120.9" cy="532.9" r="6.6"/>
<circle cx="1988.4" cy="533" r="6.6"/>
</g>
<g fill="#f7b26b">
<circle cx="2137.6" cy="530.1" r="6.6"/>
<circle cx="1965.2" cy="527.7" r="6.6"/>
<circle cx="2133.8" cy="527.3" r="6.6"/>
<circle cx="2177.5" cy="526.4" r="6.6"/>
<circle cx="2127.6" cy="528" r="6.6"/>
</g>
<g fill="#f7b56d">
<circle cx="2124.2" cy="520.1" r="6.7"/>
<circle cx="2163.5" cy="522" r="6.7"/>
</g>
<g fill="#f8bb71">
<circle cx="1996.7" cy="506.7" r="6.9"/>
</g>
<g fill="#f9be73">
<circle cx="1859.9" cy="497.1" r="7"/>
<circle cx="1995.8" cy="497.1" r="7"/>
</g>
<g fill="#f9c176">
<circle cx="2158.7" cy="493.6" r="7.1"/>
<circle cx="2126.8" cy="496.3" r="7"/>
</g>
<g fill="#fac479">
<circle cx="2022.9" cy="484.9" r="7.2"/>
<circle cx="2150.4" cy="484.9" r="7.2"/>
</g>
<g fill="#fac67b">
<circle cx="2163.5" cy="479.7" r="7.2"/>
</g>
<g fill="#fac97d">
<circle cx="1973.1" cy="473.1" r="7.3"/>
</g>
<g fill="#faca7e">
<circle cx="2018.9" cy="470.5" r="7.3"/>
<circle cx="2173.2" cy="470.9" r="7.3"/>
</g>
<g fill="#faca7d">
<circle cx="1880.5" cy="471.8" r="7.3"/>
</g>
<g fill="#faca7e">
<circle cx="2136.5" cy="470.9" r="7.3"/>
</g>
<g fill="#fac87c">
<circle cx="2126" cy="475.3" r="7.3"/>
</g>
<g fill="#fbcd80">
<circle cx="1965.2" cy="463.9" r="7.4"/>
</g>
<g fill="#fbcc80">
<circle cx="2138.2" cy="465.7" r="7.4"/>
</g>
<g fill="#fbcd80">
<circle cx="2133.8" cy="463.9" r="7.4"/>
</g>
<g fill="#fbd184">
<circle cx="2141.7" cy="453" r="7.5"/>
</g>
<g fill="#fcd88a">
<circle cx="2140.4" cy="438.2" r="7.7"/>
</g>
<g fill="#fcdb8e">
<circle cx="2146.5" cy="429.4" r="7.8"/>
</g>
<g fill="#fcdb8d">
<circle cx="2015.4" cy="430.7" r="7.7"/>
</g>
<g fill="#fcda8c">
<circle cx="1945.1" cy="432.9" r="7.7"/>
</g>
<g fill="#fbe097">
<circle cx="2009.3" cy="418.5" r="7.9"/>
</g>
<g fill="#fae9a5">
<circle cx="2020.7" cy="399.7" r="8.1"/>
</g>
<g fill="#faf0b1">
<circle cx="2153.1" cy="384.4" r="8.2"/>
<circle cx="2127.3" cy="384.4" r="8.2"/>
</g>
<g fill="#f9f7be">
<circle cx="1910.2" cy="367" r="8.4"/>
</g>
<g fill="#f3f5c0">
<circle cx="2144.8" cy="353" r="8.5"/>
</g>
<g fill="#f1f4c1">
<circle cx="1960" cy="347.7" r="8.6"/>
</g>
<g fill="#e7f0c5">
<circle cx="2133" cy="320.7" r="8.8"/>
</g>
<g fill="#e3eec6">
<circle cx="2148.7" cy="309.7" r="8.9"/>
</g>
<g fill="#e1edc7">
<circle cx="1976.1" cy="305.8" r="8.9"/>
</g>
<g fill="#c0dfdc">
<circle cx="2181.9" cy="254.2" r="9.4"/>
</g>
<g fill="#a7d3e4">
<circle cx="1971.3" cy="201" r="9.8"/>
</g>
<g fill="#a5d1e3">
<circle cx="2169.2" cy="198.8" r="9.8"/>
</g>
<g fill="#91c0db">
<circle cx="2166.2" cy="174.7" r="10"/>
<circle cx="2181.5" cy="174.3" r="10"/>
</g>
<g fill="#5b94c3">
<circle cx="2234.7" cy="104" r="10.5"/>
</g>
<g fill="#4d88bc">
<circle cx="1977.9" cy="83" r="10.6"/>
</g>
<g fill="#2d6eac">
<circle cx="2167.5" cy="36.3" r="10.9"/>
</g>
</g>
<g stroke="#000" stroke-width="2.2" stroke-dasharray="9.5 9.5" fill="none">
<path d="M2030.8 4.4V735.2"/><path d="M2115.4 4.4V735.2"/><path d="M1705.7 667.4H2429.6"/></g>
<rect x="1705.7" y="4.4" width="723.9" height="730.8" fill="none" stroke="#333" stroke-width="1.6"/>
<path d="M1699.2 702.5H1705.7" stroke="#333" stroke-width="2.4"/>
<path d="M1699.2 567.5H1705.7" stroke="#333" stroke-width="2.4"/>
<path d="M1699.2 432.5H1705.7" stroke="#333" stroke-width="2.4"/>
<path d="M1699.2 297.5H1705.7" stroke="#333" stroke-width="2.4"/>
<path d="M1699.2 162.5H1705.7" stroke="#333" stroke-width="2.4"/>
<path d="M1699.2 27.5H1705.7" stroke="#333" stroke-width="2.4"/>
<path d="M1861.4 735.2V741.7" stroke="#333" stroke-width="2.4"/>
<path d="M2073.1 735.2V741.7" stroke="#333" stroke-width="2.4"/>
<path d="M2284.8 735.2V741.7" stroke="#333" stroke-width="2.4"/>
<g font-size="20" fill="#4d4d4d">
<text x="1694.2" y="709.7" text-anchor="end">0</text>
<text x="1694.2" y="574.7" text-anchor="end">5</text>
<text x="1694.2" y="439.7" text-anchor="end">10</text>
<text x="1694.2" y="304.7" text-anchor="end">15</text>
<text x="1694.2" y="169.7" text-anchor="end">20</text>
<text x="1694.2" y="34.7" text-anchor="end">25</text>
<text x="1861.4" y="763.5" text-anchor="middle">−5</text>
<text x="2073.1" y="763.5" text-anchor="middle">0</text>
<text x="2284.8" y="763.5" text-anchor="middle">5</text>
</g>
<g fill="#000" font-size="25">
<text x="2120.3" y="792.5" text-anchor="middle" font-size="25.5">Log<tspan font-size="17" dy="5">2</tspan><tspan dy="-5">(fold charge)</tspan></text>
<text transform="translate(1652.5 363) rotate(-90)" text-anchor="middle" font-size="25.6">-Log<tspan font-size="17.5" dy="5">10</tspan><tspan dy="-5" font-style="italic" letter-spacing="3.6">FDR</tspan></text>
<text x="1724.8" y="256.6" font-size="24.8">−Log10_q−value</text>
</g>
<defs><linearGradient id="cb" x1="0" y1="1" x2="0" y2="0">
<stop offset="0%" stop-color="#d22a22"/>
<stop offset="5.3%" stop-color="#dd482e"/>
<stop offset="10.1%" stop-color="#e4643c"/>
<stop offset="20.2%" stop-color="#f3a05e"/>
<stop offset="30.4%" stop-color="#f9be73"/>
<stop offset="40.5%" stop-color="#fcda8c"/>
<stop offset="50.2%" stop-color="#f9f7be"/>
<stop offset="60.7%" stop-color="#deecc8"/>
<stop offset="68.8%" stop-color="#b9dce1"/>
<stop offset="74.9%" stop-color="#a9d4e5"/>
<stop offset="85%" stop-color="#70a5cd"/>
<stop offset="100%" stop-color="#2d6eac"/>
</linearGradient></defs>
<rect x="1724.8" y="271.8" width="39.5" height="197.6" fill="url(#cb)"/>
<path d="M1724.8 309.5h8M1764.3 309.5h-8" stroke="#fff" stroke-width="1"/>
<text x="1776.5" y="316.5" font-size="19.6" fill="#000">20</text>
<path d="M1724.8 349.6h8M1764.3 349.6h-8" stroke="#fff" stroke-width="1"/>
<text x="1776.5" y="356.6" font-size="19.6" fill="#000">15</text>
<path d="M1724.8 389.6h8M1764.3 389.6h-8" stroke="#fff" stroke-width="1"/>
<text x="1776.5" y="396.6" font-size="19.6" fill="#000">10</text>
<path d="M1724.8 429.6h8M1764.3 429.6h-8" stroke="#fff" stroke-width="1"/>
<text x="1776.5" y="436.6" font-size="19.6" fill="#000">5</text>
<rect x="575.3" y="895.2" width="507.5" height="1480.2" fill="#fff"/>
<path d="M653.5 895.2V2375.4M765.4 895.2V2375.4M877.2 895.2V2375.4M989.1 895.2V2375.4" stroke="#ebebeb" stroke-width="1.1" fill="none"/>
<path d="M597.6 895.2V2375.4M709.5 895.2V2375.4M821.3 895.2V2375.4M933.2 895.2V2375.4M1045 895.2V2375.4M575.3 910.5H1082.8M575.3 937.3H1082.8M575.3 964.2H1082.8M575.3 991H1082.8M575.3 1017.9H1082.8M575.3 1044.7H1082.8M575.3 1071.5H1082.8M575.3 1098.4H1082.8M575.3 1125.2H1082.8M575.3 1152.1H1082.8M575.3 1178.9H1082.8M575.3 1205.7H1082.8M575.3 1232.6H1082.8M575.3 1259.4H1082.8M575.3 1286.3H1082.8M575.3 1313.1H1082.8M575.3 1339.9H1082.8M575.3 1366.8H1082.8M575.3 1393.6H1082.8M575.3 1420.5H1082.8M575.3 1447.3H1082.8M575.3 1474.1H1082.8M575.3 1501H1082.8M575.3 1527.8H1082.8M575.3 1554.7H1082.8M575.3 1581.5H1082.8M575.3 1608.3H1082.8M575.3 1635.2H1082.8M575.3 1662H1082.8M575.3 1688.9H1082.8M575.3 1715.7H1082.8M575.3 1742.5H1082.8M575.3 1769.4H1082.8M575.3 1796.2H1082.8M575.3 1823.1H1082.8M575.3 1849.9H1082.8M575.3 1876.7H1082.8M575.3 1903.6H1082.8M575.3 1930.4H1082.8M575.3 1957.3H1082.8M575.3 1984.1H1082.8M575.3 2010.9H1082.8M575.3 2037.8H1082.8M575.3 2064.6H1082.8M575.3 2091.5H1082.8M575.3 2118.3H1082.8M575.3 2145.1H1082.8M575.3 2172H1082.8M575.3 2198.8H1082.8M575.3 2225.7H1082.8M575.3 2252.5H1082.8M575.3 2279.3H1082.8M575.3 2306.2H1082.8M575.3 2333H1082.8M575.3 2359.9H1082.8" stroke="#ebebeb" stroke-width="2.5" fill="none"/>
<rect x="597.6" y="898.4" width="455.2" height="24.2" fill="#8b9dc7"/>
<rect x="597.6" y="925.2" width="365.7" height="24.2" fill="#8b9dc7"/>
<rect x="597.6" y="952.1" width="346.7" height="24.2" fill="#8b9dc7"/>
<rect x="597.6" y="978.9" width="337.8" height="24.2" fill="#8b9dc7"/>
<rect x="597.6" y="1005.8" width="271.2" height="24.2" fill="#8b9dc7"/>
<rect x="597.6" y="1032.6" width="246.1" height="24.2" fill="#8b9dc7"/>
<rect x="597.6" y="1059.4" width="212.5" height="24.2" fill="#8b9dc7"/>
<rect x="597.6" y="1086.3" width="208" height="24.2" fill="#8b9dc7"/>
<rect x="597.6" y="1113.1" width="200.2" height="24.2" fill="#8b9dc7"/>
<rect x="597.6" y="1140" width="198" height="24.2" fill="#8b9dc7"/>
<rect x="597.6" y="1166.8" width="177.3" height="24.2" fill="#8b9dc7"/>
<rect x="597.6" y="1193.6" width="159.9" height="24.2" fill="#8b9dc7"/>
<rect x="597.6" y="1220.5" width="99.2" height="24.2" fill="#8b9dc7"/>
<rect x="597.6" y="1247.3" width="76.6" height="24.2" fill="#8b9dc7"/>
<rect x="597.6" y="1274.2" width="74.9" height="24.2" fill="#8b9dc7"/>
<rect x="597.6" y="1301" width="72.1" height="24.2" fill="#8b9dc7"/>
<rect x="597.6" y="1327.8" width="47.3" height="24.2" fill="#8b9dc7"/>
<rect x="597.6" y="1354.7" width="38" height="24.2" fill="#8b9dc7"/>
<rect x="597.6" y="1381.5" width="37.6" height="24.2" fill="#8b9dc7"/>
<rect x="597.6" y="1408.4" width="37.6" height="24.2" fill="#8b9dc7"/>
<rect x="597.6" y="1435.2" width="21.8" height="24.2" fill="#8b9dc7"/>
<rect x="597.6" y="1462" width="15" height="24.2" fill="#8b9dc7"/>
<rect x="597.6" y="1488.9" width="12.8" height="24.2" fill="#8b9dc7"/>
<rect x="597.6" y="1515.7" width="10.5" height="24.2" fill="#8b9dc7"/>
<rect x="597.6" y="1542.6" width="4.5" height="24.2" fill="#8b9dc7"/>
<rect x="597.6" y="1569.4" width="3" height="24.2" fill="#8b9dc7"/>
<rect x="597.6" y="1596.2" width="462.7" height="24.2" fill="#ee8862"/>
<rect x="597.6" y="1623.1" width="462.7" height="24.2" fill="#ee8862"/>
<rect x="597.6" y="1649.9" width="359.8" height="24.2" fill="#ee8862"/>
<rect x="597.6" y="1676.8" width="310.9" height="24.2" fill="#ee8862"/>
<rect x="597.6" y="1703.6" width="244.2" height="24.2" fill="#ee8862"/>
<rect x="597.6" y="1730.4" width="229.9" height="24.2" fill="#ee8862"/>
<rect x="597.6" y="1757.3" width="143.5" height="24.2" fill="#ee8862"/>
<rect x="597.6" y="1784.1" width="141.3" height="24.2" fill="#ee8862"/>
<rect x="597.6" y="1811" width="122.5" height="24.2" fill="#ee8862"/>
<rect x="597.6" y="1837.8" width="113.4" height="24.2" fill="#ee8862"/>
<rect x="597.6" y="1864.6" width="40.6" height="24.2" fill="#ee8862"/>
<rect x="597.6" y="1891.5" width="38.4" height="24.2" fill="#ee8862"/>
<rect x="597.6" y="1918.3" width="28.5" height="24.2" fill="#ee8862"/>
<rect x="597.6" y="1945.2" width="27.1" height="24.2" fill="#ee8862"/>
<rect x="597.6" y="1972" width="15.8" height="24.2" fill="#ee8862"/>
<rect x="597.6" y="1998.8" width="1.2" height="24.2" fill="#f7c4b0"/>
<rect x="597.6" y="2025.7" width="1.2" height="24.2" fill="#f7c4b0"/>
<rect x="597.6" y="2052.5" width="411.6" height="24.2" fill="#67b99e"/>
<rect x="597.6" y="2079.4" width="164.4" height="24.2" fill="#67b99e"/>
<rect x="597.6" y="2106.2" width="63.8" height="24.2" fill="#67b99e"/>
<rect x="597.6" y="2133" width="61.5" height="24.2" fill="#67b99e"/>
<rect x="597.6" y="2159.9" width="47.3" height="24.2" fill="#67b99e"/>
<rect x="597.6" y="2186.7" width="43.6" height="24.2" fill="#67b99e"/>
<rect x="597.6" y="2213.6" width="24.8" height="24.2" fill="#67b99e"/>
<rect x="597.6" y="2240.4" width="22.5" height="24.2" fill="#67b99e"/>
<rect x="597.6" y="2267.2" width="5.3" height="24.2" fill="#67b99e"/>
<rect x="597.6" y="2294.1" width="3.8" height="24.2" fill="#67b99e"/>
<rect x="597.6" y="2320.9" width="2.2" height="24.2" fill="#67b99e"/>
<rect x="597.6" y="2347.8" width="1.1" height="24.2" fill="#67b99e"/>
<rect x="575.3" y="895.2" width="507.5" height="1480.2" fill="none" stroke="#333" stroke-width="2"/>
<path d="M566.3 910.5H575.3M566.3 937.3H575.3M566.3 964.2H575.3M566.3 991H575.3M566.3 1017.9H575.3M566.3 1044.7H575.3M566.3 1071.5H575.3M566.3 1098.4H575.3M566.3 1125.2H575.3M566.3 1152.1H575.3M566.3 1178.9H575.3M566.3 1205.7H575.3M566.3 1232.6H575.3M566.3 1259.4H575.3M566.3 1286.3H575.3M566.3 1313.1H575.3M566.3 1339.9H575.3M566.3 1366.8H575.3M566.3 1393.6H575.3M566.3 1420.5H575.3M566.3 1447.3H575.3M566.3 1474.1H575.3M566.3 1501H575.3M566.3 1527.8H575.3M566.3 1554.7H575.3M566.3 1581.5H575.3M566.3 1608.3H575.3M566.3 1635.2H575.3M566.3 1662H575.3M566.3 1688.9H575.3M566.3 1715.7H575.3M566.3 1742.5H575.3M566.3 1769.4H575.3M566.3 1796.2H575.3M566.3 1823.1H575.3M566.3 1849.9H575.3M566.3 1876.7H575.3M566.3 1903.6H575.3M566.3 1930.4H575.3M566.3 1957.3H575.3M566.3 1984.1H575.3M566.3 2010.9H575.3M566.3 2037.8H575.3M566.3 2064.6H575.3M566.3 2091.5H575.3M566.3 2118.3H575.3M566.3 2145.1H575.3M566.3 2172H575.3M566.3 2198.8H575.3M566.3 2225.7H575.3M566.3 2252.5H575.3M566.3 2279.3H575.3M566.3 2306.2H575.3M566.3 2333H575.3M566.3 2359.9H575.3M597.6 2375.4V2384.4M709.5 2375.4V2384.4M821.3 2375.4V2384.4M933.2 2375.4V2384.4M1045 2375.4V2384.4" stroke="#333" stroke-width="2.7" fill="none"/>
<g font-size="27" fill="#4d4d4d" text-anchor="end">
<text x="559.3" y="920.8">cellular process</text>
<text x="559.3" y="947.6">biological regulation</text>
<text x="559.3" y="974.5">regulation of biological process</text>
<text x="559.3" y="1001.3">metabolic process</text>
<text x="559.3" y="1028.2">response to stimulus</text>
<text x="559.3" y="1055">multicellular organismal process</text>
<text x="559.3" y="1081.8">positive regulation of biological process</text>
<text x="559.3" y="1108.7">developmental process</text>
<text x="559.3" y="1135.5">localization</text>
<text x="559.3" y="1162.4">signaling</text>
<text x="559.3" y="1189.2">negative regulation of biological process</text>
<text x="559.3" y="1216">cellular component organization or biogenesis</text>
<text x="559.3" y="1242.9">immune system process</text>
<text x="559.3" y="1269.7">multi−organism process</text>
<text x="559.3" y="1296.6">locomotion</text>
<text x="559.3" y="1323.4">cell proliferation</text>
<text x="559.3" y="1350.2">biological adhesion</text>
<text x="559.3" y="1377.1">reproduction</text>
<text x="559.3" y="1403.9">reproductive process</text>
<text x="559.3" y="1430.8">growth</text>
<text x="559.3" y="1457.6">behavior</text>
<text x="559.3" y="1484.4">biological_process</text>
<text x="559.3" y="1511.3">rhythmic process</text>
<text x="559.3" y="1538.1">cell killing</text>
<text x="559.3" y="1565">detoxification</text>
<text x="559.3" y="1591.8">pigmentation</text>
<text x="559.3" y="1618.6">cell</text>
<text x="559.3" y="1645.5">cell part</text>
<text x="559.3" y="1672.3">organelle</text>
<text x="559.3" y="1699.2">membrane</text>
<text x="559.3" y="1726">organelle part</text>
<text x="559.3" y="1752.8">membrane part</text>
<text x="559.3" y="1779.7">extracellular region</text>
<text x="559.3" y="1806.5">membrane−enclosed lumen</text>
<text x="559.3" y="1833.4">extracellular region part</text>
<text x="559.3" y="1860.2">protein−containing complex</text>
<text x="559.3" y="1887">synapse</text>
<text x="559.3" y="1913.9">cell junction</text>
<text x="559.3" y="1940.7">synapse part</text>
<text x="559.3" y="1967.6">supramolecular complex</text>
<text x="559.3" y="1994.4">cellular_component</text>
<text x="559.3" y="2021.2">other organism</text>
<text x="559.3" y="2048.1">other organism part</text>
<text x="559.3" y="2074.9">binding</text>
<text x="559.3" y="2101.8">catalytic activity</text>
<text x="559.3" y="2128.6">transcription regulator activity</text>
<text x="559.3" y="2155.4">molecular transducer activity</text>
<text x="559.3" y="2182.3">molecular function regulator</text>
<text x="559.3" y="2209.1">transporter activity</text>
<text x="559.3" y="2236">structural molecule activity</text>
<text x="559.3" y="2262.8">molecular_function</text>
<text x="559.3" y="2289.6">cargo receptor activity</text>
<text x="559.3" y="2316.5">hijacked molecular function</text>
<text x="559.3" y="2343.3">antioxidant activity</text>
<text x="559.3" y="2370.2">translation regulator activity</text>
</g><g font-size="27" fill="#4d4d4d" text-anchor="middle">
<text x="597.6" y="2413.8">0</text>
<text x="709.5" y="2413.8">100</text>
<text x="821.3" y="2413.8">200</text>
<text x="933.2" y="2413.8">300</text>
<text x="1045" y="2413.8">400</text>
</g><g fill="#000">
<text x="829.5" y="2452.5" font-size="32.8" text-anchor="middle">Count</text>
<text transform="translate(37 1635.5) rotate(-90)" font-size="32.8" text-anchor="middle">GO Term</text>
<text x="1110.5" y="1556" font-size="33">Category</text>
<g font-size="27"><text x="1167" y="1616.1">biological_process</text><text x="1167" y="1676.2">cellular_component</text><text x="1165" y="1730.7">molecular_function</text></g>
</g>
<rect x="1111.2" y="1580.4" width="47.9" height="50.2" fill="#8b9dc7"/>
<rect x="1110.8" y="1639" width="47.9" height="49.8" fill="#ee8862"/>
<rect x="1111.2" y="1695.4" width="47.9" height="50.4" fill="#67b99e"/>
<path d="M1841.7 1016.7V940.2H1892.7V1016.7M1791.2 1016.7V934.5H1867.2V940.2M1740.2 1016.7V930.8H1829.2V934.5M1689.2 1016.7V923.5H1784.7V930.8M1638.3 1016.7V916.8H1737V923.5M2044.1 1016.7V940.2H2095.1V1016.7M1993.6 1016.7V929.3H2069.6V940.2M2145.6 1016.7V928.8H2196.1V1016.7M2031.6 929.3V920.9H2170.8V928.8M1942.7 1016.7V911.6H2101.4V920.9M1687.7 916.8V897.5H2022V911.6" fill="none" stroke="#000" stroke-width="2.8" stroke-linejoin="miter"/>
<rect x="1613.5" y="1021" width="304.1" height="36.7" fill="#4abbc7"/>
<rect x="1917.6" y="1021" width="304.1" height="36.7" fill="#f08b86"/>
<g shape-rendering="crispEdges">
<rect x="1613.5" y="1069.4" width="608.2" height="1264" fill="#eef5d7"/>
<path fill="#e9f3df" d="M1613.5 1069.4h50.7v2.5h-50.7zM1613.5 1079.4h50.7v2.5h-50.7zM1613.5 1086.9h50.7v2.5h-50.7zM1613.5 1106.9h50.7v5h-50.7zM1613.5 1164.3h50.7v2.5h-50.7zM1613.5 1231.8h50.7v2.5h-50.7zM1613.5 1254.3h50.7v2.5h-50.7zM1613.5 1259.2h50.7v2.5h-50.7zM1613.5 1266.7h50.7v5h-50.7zM1613.5 1294.2h50.7v5h-50.7zM1613.5 1314.2h50.7v2.5h-50.7zM1613.5 1326.7h50.7v2.5h-50.7zM1613.5 1339.2h50.7v2.5h-50.7zM1613.5 1346.7h50.7v5h-50.7zM1613.5 1399.1h50.7v5h-50.7zM1613.5 1406.6h50.7v2.5h-50.7zM1613.5 1416.6h50.7v2.5h-50.7zM1613.5 1451.6h50.7v2.5h-50.7zM1613.5 1461.6h50.7v2.5h-50.7zM1613.5 1466.6h50.7v2.5h-50.7zM1613.5 1496.6h50.7v7.5h-50.7zM1613.5 1514h50.7v2.5h-50.7zM1613.5 1526.5h50.7v2.5h-50.7zM1613.5 1531.5h50.7v2.5h-50.7zM1613.5 1539h50.7v2.5h-50.7zM1613.5 1544h50.7v2.5h-50.7zM1613.5 1551.5h50.7v2.5h-50.7zM1613.5 1559h50.7v2.5h-50.7zM1613.5 1571.5h50.7v2.5h-50.7zM1613.5 1599h50.7v5h-50.7zM1613.5 1606.5h50.7v2.5h-50.7zM1613.5 1619h50.7v2.5h-50.7zM1613.5 1626.5h50.7v2.5h-50.7zM1613.5 1634h50.7v5h-50.7zM1613.5 1643.9h50.7v2.5h-50.7zM1613.5 1661.4h50.7v2.5h-50.7zM1613.5 1671.4h50.7v2.5h-50.7zM1613.5 1686.4h50.7v2.5h-50.7zM1613.5 1698.9h50.7v2.5h-50.7zM1613.5 1703.9h50.7v2.5h-50.7zM1613.5 1708.9h50.7v2.5h-50.7zM1613.5 1716.4h50.7v2.5h-50.7zM1613.5 1728.9h50.7v2.5h-50.7zM1613.5 2021.1h50.7v2.5h-50.7zM1613.5 2121.1h50.7v2.5h-50.7zM1613.5 2131.1h50.7v2.5h-50.7zM1613.5 2171h50.7v2.5h-50.7zM1613.5 2176h50.7v2.5h-50.7zM1613.5 2191h50.7v2.5h-50.7zM1613.5 2198.5h50.7v2.5h-50.7zM1613.5 2233.5h50.7v2.5h-50.7zM1613.5 2275.9h50.7v2.5h-50.7zM1613.5 2285.9h50.7v2.5h-50.7zM1613.5 2298.4h50.7v2.5h-50.7zM1664.2 1071.9h50.7v2.5h-50.7zM1664.2 1076.9h50.7v2.5h-50.7zM1664.2 1084.4h50.7v2.5h-50.7zM1664.2 1089.4h50.7v2.5h-50.7zM1664.2 1096.9h50.7v2.5h-50.7zM1664.2 1111.9h50.7v2.5h-50.7zM1664.2 1119.4h50.7v2.5h-50.7zM1664.2 1131.9h50.7v5h-50.7zM1664.2 1149.3h50.7v2.5h-50.7zM1664.2 1161.8h50.7v5h-50.7zM1664.2 1179.3h50.7v2.5h-50.7zM1664.2 1189.3h50.7v2.5h-50.7zM1664.2 1196.8h50.7v2.5h-50.7zM1664.2 1206.8h50.7v2.5h-50.7zM1664.2 1221.8h50.7v2.5h-50.7zM1664.2 1226.8h50.7v2.5h-50.7zM1664.2 1231.8h50.7v5h-50.7zM1664.2 1246.8h50.7v2.5h-50.7zM1664.2 1299.2h50.7v2.5h-50.7zM1664.2 1311.7h50.7v5h-50.7zM1664.2 1321.7h50.7v5h-50.7zM1664.2 1331.7h50.7v2.5h-50.7zM1664.2 1341.7h50.7v5h-50.7zM1664.2 1349.2h50.7v2.5h-50.7zM1664.2 1354.2h50.7v2.5h-50.7zM1664.2 1369.2h50.7v7.5h-50.7zM1664.2 1401.6h50.7v2.5h-50.7zM1664.2 1406.6h50.7v5h-50.7zM1664.2 1426.6h50.7v2.5h-50.7zM1664.2 1449.1h50.7v2.5h-50.7zM1664.2 1476.6h50.7v5h-50.7zM1664.2 1489.1h50.7v2.5h-50.7zM1664.2 1496.6h50.7v2.5h-50.7zM1664.2 1501.6h50.7v2.5h-50.7zM1664.2 1509.1h50.7v2.5h-50.7zM1664.2 1531.5h50.7v2.5h-50.7zM1664.2 1536.5h50.7v2.5h-50.7zM1664.2 1541.5h50.7v5h-50.7zM1664.2 1551.5h50.7v2.5h-50.7zM1664.2 1571.5h50.7v5h-50.7zM1664.2 1591.5h50.7v2.5h-50.7zM1664.2 1604h50.7v5h-50.7zM1664.2 1624h50.7v2.5h-50.7zM1664.2 1629h50.7v2.5h-50.7zM1664.2 1636.5h50.7v2.5h-50.7zM1664.2 1646.4h50.7v2.5h-50.7zM1664.2 1658.9h50.7v2.5h-50.7zM1664.2 1671.4h50.7v2.5h-50.7zM1664.2 1676.4h50.7v2.5h-50.7zM1664.2 1683.9h50.7v2.5h-50.7zM1664.2 1698.9h50.7v2.5h-50.7zM1664.2 1713.9h50.7v2.5h-50.7zM1664.2 1728.9h50.7v5h-50.7zM1664.2 1786.3h50.7v2.5h-50.7zM1664.2 1813.8h50.7v2.5h-50.7zM1664.2 1818.8h50.7v5h-50.7zM1664.2 1846.3h50.7v2.5h-50.7zM1664.2 1876.3h50.7v2.5h-50.7zM1664.2 1928.7h50.7v2.5h-50.7zM1664.2 1953.7h50.7v5h-50.7zM1664.2 1976.2h50.7v2.5h-50.7zM1664.2 1986.2h50.7v2.5h-50.7zM1664.2 2176h50.7v2.5h-50.7zM1664.2 2263.5h50.7v2.5h-50.7zM1664.2 2275.9h50.7v7.5h-50.7zM1664.2 2293.4h50.7v2.5h-50.7zM1714.9 1069.4h50.7v2.5h-50.7zM1714.9 1074.4h50.7v2.5h-50.7zM1714.9 1079.4h50.7v2.5h-50.7zM1714.9 1089.4h50.7v5h-50.7zM1714.9 1099.4h50.7v2.5h-50.7zM1714.9 1109.4h50.7v2.5h-50.7zM1714.9 1121.9h50.7v7.5h-50.7zM1714.9 1144.3h50.7v2.5h-50.7zM1714.9 1164.3h50.7v2.5h-50.7zM1714.9 1169.3h50.7v2.5h-50.7zM1714.9 1176.8h50.7v2.5h-50.7zM1714.9 1206.8h50.7v2.5h-50.7zM1714.9 1214.3h50.7v5h-50.7zM1714.9 1221.8h50.7v5h-50.7zM1714.9 1234.3h50.7v10h-50.7zM1714.9 1246.8h50.7v5h-50.7zM1714.9 1254.3h50.7v7.5h-50.7zM1714.9 1271.7h50.7v2.5h-50.7zM1714.9 1276.7h50.7v2.5h-50.7zM1714.9 1289.2h50.7v2.5h-50.7zM1714.9 1304.2h50.7v2.5h-50.7zM1714.9 1311.7h50.7v5h-50.7zM1714.9 1334.2h50.7v2.5h-50.7zM1714.9 1339.2h50.7v5h-50.7zM1714.9 1361.7h50.7v2.5h-50.7zM1714.9 1384.2h50.7v2.5h-50.7zM1714.9 1396.6h50.7v2.5h-50.7zM1714.9 1404.1h50.7v2.5h-50.7zM1714.9 1409.1h50.7v2.5h-50.7zM1714.9 1414.1h50.7v5h-50.7zM1714.9 1426.6h50.7v5h-50.7zM1714.9 1449.1h50.7v5h-50.7zM1714.9 1459.1h50.7v2.5h-50.7zM1714.9 1466.6h50.7v2.5h-50.7zM1714.9 1474.1h50.7v2.5h-50.7zM1714.9 1481.6h50.7v2.5h-50.7zM1714.9 1496.6h50.7v2.5h-50.7zM1714.9 1511.6h50.7v2.5h-50.7zM1714.9 1531.5h50.7v2.5h-50.7zM1714.9 1541.5h50.7v2.5h-50.7zM1714.9 1556.5h50.7v5h-50.7zM1714.9 1569h50.7v7.5h-50.7zM1714.9 1579h50.7v2.5h-50.7zM1714.9 1591.5h50.7v2.5h-50.7zM1714.9 1599h50.7v2.5h-50.7zM1714.9 1624h50.7v5h-50.7zM1714.9 1638.9h50.7v2.5h-50.7zM1714.9 1648.9h50.7v5h-50.7zM1714.9 1658.9h50.7v7.5h-50.7zM1714.9 1671.4h50.7v2.5h-50.7zM1714.9 1676.4h50.7v2.5h-50.7zM1714.9 1688.9h50.7v2.5h-50.7zM1714.9 1706.4h50.7v2.5h-50.7zM1714.9 1888.8h50.7v2.5h-50.7zM1714.9 1948.7h50.7v2.5h-50.7zM1714.9 1993.7h50.7v2.5h-50.7zM1714.9 2016.2h50.7v2.5h-50.7zM1714.9 2021.1h50.7v2.5h-50.7zM1714.9 2033.6h50.7v2.5h-50.7zM1714.9 2133.6h50.7v2.5h-50.7zM1714.9 2141.1h50.7v2.5h-50.7zM1714.9 2161h50.7v2.5h-50.7zM1714.9 2206h50.7v5h-50.7zM1714.9 2216h50.7v2.5h-50.7zM1714.9 2278.4h50.7v2.5h-50.7zM1765.5 1089.4h50.7v2.5h-50.7zM1765.5 1094.4h50.7v2.5h-50.7zM1765.5 1099.4h50.7v2.5h-50.7zM1765.5 1116.9h50.7v2.5h-50.7zM1765.5 1121.9h50.7v5h-50.7zM1765.5 1129.4h50.7v2.5h-50.7zM1765.5 1136.8h50.7v2.5h-50.7zM1765.5 1181.8h50.7v2.5h-50.7zM1765.5 1231.8h50.7v2.5h-50.7zM1765.5 1241.8h50.7v5h-50.7zM1765.5 1249.3h50.7v2.5h-50.7zM1765.5 1259.2h50.7v2.5h-50.7zM1765.5 1269.2h50.7v2.5h-50.7zM1765.5 1274.2h50.7v5h-50.7zM1765.5 1289.2h50.7v2.5h-50.7zM1765.5 1304.2h50.7v2.5h-50.7zM1765.5 1321.7h50.7v5h-50.7zM1765.5 1331.7h50.7v7.5h-50.7zM1765.5 1346.7h50.7v5h-50.7zM1765.5 1371.7h50.7v7.5h-50.7zM1765.5 1396.6h50.7v2.5h-50.7zM1765.5 1409.1h50.7v2.5h-50.7zM1765.5 1416.6h50.7v2.5h-50.7zM1765.5 1424.1h50.7v2.5h-50.7zM1765.5 1429.1h50.7v5h-50.7zM1765.5 1446.6h50.7v2.5h-50.7zM1765.5 1459.1h50.7v2.5h-50.7zM1765.5 1474.1h50.7v2.5h-50.7zM1765.5 1479.1h50.7v7.5h-50.7zM1765.5 1506.6h50.7v2.5h-50.7zM1765.5 1511.6h50.7v2.5h-50.7zM1765.5 1551.5h50.7v2.5h-50.7zM1765.5 1556.5h50.7v7.5h-50.7zM1765.5 1571.5h50.7v2.5h-50.7zM1765.5 1581.5h50.7v5h-50.7zM1765.5 1591.5h50.7v2.5h-50.7zM1765.5 1621.5h50.7v2.5h-50.7zM1765.5 1648.9h50.7v2.5h-50.7zM1765.5 1656.4h50.7v5h-50.7zM1765.5 1696.4h50.7v2.5h-50.7zM1765.5 1701.4h50.7v5h-50.7zM1765.5 1738.9h50.7v2.5h-50.7zM1765.5 1778.8h50.7v5h-50.7zM1765.5 1803.8h50.7v5h-50.7zM1765.5 1851.3h50.7v2.5h-50.7zM1765.5 1858.8h50.7v2.5h-50.7zM1765.5 1961.2h50.7v2.5h-50.7zM1765.5 1981.2h50.7v2.5h-50.7zM1765.5 1998.7h50.7v2.5h-50.7zM1765.5 2041.1h50.7v2.5h-50.7zM1765.5 2048.6h50.7v2.5h-50.7zM1765.5 2076.1h50.7v2.5h-50.7zM1765.5 2101.1h50.7v5h-50.7zM1765.5 2138.6h50.7v2.5h-50.7zM1765.5 2228.5h50.7v5h-50.7zM1765.5 2266h50.7v2.5h-50.7zM1765.5 2278.4h50.7v5h-50.7zM1765.5 2288.4h50.7v2.5h-50.7zM1765.5 2323.4h50.7v2.5h-50.7zM1816.2 1069.4h50.7v2.5h-50.7zM1816.2 1089.4h50.7v2.5h-50.7zM1816.2 1094.4h50.7v2.5h-50.7zM1816.2 1116.9h50.7v5h-50.7zM1816.2 1124.4h50.7v2.5h-50.7zM1816.2 1134.3h50.7v2.5h-50.7zM1816.2 1141.8h50.7v2.5h-50.7zM1816.2 1154.3h50.7v5h-50.7zM1816.2 1174.3h50.7v2.5h-50.7zM1816.2 1179.3h50.7v2.5h-50.7zM1816.2 1189.3h50.7v5h-50.7zM1816.2 1199.3h50.7v2.5h-50.7zM1816.2 1206.8h50.7v2.5h-50.7zM1816.2 1221.8h50.7v2.5h-50.7zM1816.2 1229.3h50.7v5h-50.7zM1816.2 1241.8h50.7v5h-50.7zM1816.2 1264.2h50.7v2.5h-50.7zM1816.2 1269.2h50.7v2.5h-50.7zM1816.2 1279.2h50.7v2.5h-50.7zM1816.2 1301.7h50.7v2.5h-50.7zM1816.2 1306.7h50.7v2.5h-50.7zM1816.2 1324.2h50.7v2.5h-50.7zM1816.2 1339.2h50.7v2.5h-50.7zM1816.2 1349.2h50.7v2.5h-50.7zM1816.2 1354.2h50.7v2.5h-50.7zM1816.2 1434.1h50.7v2.5h-50.7zM1816.2 1444.1h50.7v2.5h-50.7zM1816.2 1451.6h50.7v2.5h-50.7zM1816.2 1489.1h50.7v2.5h-50.7zM1816.2 1494.1h50.7v2.5h-50.7zM1816.2 1499.1h50.7v2.5h-50.7zM1816.2 1506.6h50.7v2.5h-50.7zM1816.2 1511.6h50.7v2.5h-50.7zM1816.2 1524h50.7v5h-50.7zM1816.2 1544h50.7v2.5h-50.7zM1816.2 1549h50.7v2.5h-50.7zM1816.2 1564h50.7v2.5h-50.7zM1816.2 1571.5h50.7v2.5h-50.7zM1816.2 1576.5h50.7v2.5h-50.7zM1816.2 1586.5h50.7v7.5h-50.7zM1816.2 1616.5h50.7v2.5h-50.7zM1816.2 1624h50.7v2.5h-50.7zM1816.2 1629h50.7v2.5h-50.7zM1816.2 1634h50.7v2.5h-50.7zM1816.2 1638.9h50.7v2.5h-50.7zM1816.2 1648.9h50.7v2.5h-50.7zM1816.2 1663.9h50.7v5h-50.7zM1816.2 1676.4h50.7v7.5h-50.7zM1816.2 1691.4h50.7v2.5h-50.7zM1816.2 1701.4h50.7v5h-50.7zM1816.2 1718.9h50.7v2.5h-50.7zM1816.2 1726.4h50.7v2.5h-50.7zM1816.2 1758.9h50.7v5h-50.7zM1816.2 1766.3h50.7v2.5h-50.7zM1816.2 1803.8h50.7v2.5h-50.7zM1816.2 1863.8h50.7v2.5h-50.7zM1816.2 1901.2h50.7v2.5h-50.7zM1816.2 1911.2h50.7v2.5h-50.7zM1816.2 1936.2h50.7v2.5h-50.7zM1816.2 2038.6h50.7v2.5h-50.7zM1816.2 2056.1h50.7v2.5h-50.7zM1816.2 2068.6h50.7v5h-50.7zM1816.2 2133.6h50.7v2.5h-50.7zM1816.2 2146h50.7v2.5h-50.7zM1816.2 2163.5h50.7v2.5h-50.7zM1816.2 2171h50.7v2.5h-50.7zM1816.2 2208.5h50.7v2.5h-50.7zM1816.2 2218.5h50.7v5h-50.7zM1816.2 2288.4h50.7v2.5h-50.7zM1866.9 1069.4h50.7v2.5h-50.7zM1866.9 1074.4h50.7v2.5h-50.7zM1866.9 1084.4h50.7v2.5h-50.7zM1866.9 1094.4h50.7v2.5h-50.7zM1866.9 1099.4h50.7v2.5h-50.7zM1866.9 1104.4h50.7v2.5h-50.7zM1866.9 1151.8h50.7v5h-50.7zM1866.9 1174.3h50.7v2.5h-50.7zM1866.9 1186.8h50.7v5h-50.7zM1866.9 1204.3h50.7v2.5h-50.7zM1866.9 1211.8h50.7v2.5h-50.7zM1866.9 1226.8h50.7v2.5h-50.7zM1866.9 1236.8h50.7v2.5h-50.7zM1866.9 1249.3h50.7v5h-50.7zM1866.9 1269.2h50.7v5h-50.7zM1866.9 1276.7h50.7v5h-50.7zM1866.9 1296.7h50.7v2.5h-50.7zM1866.9 1309.2h50.7v7.5h-50.7zM1866.9 1331.7h50.7v2.5h-50.7zM1866.9 1349.2h50.7v2.5h-50.7zM1866.9 1361.7h50.7v2.5h-50.7zM1866.9 1369.2h50.7v2.5h-50.7zM1866.9 1374.2h50.7v2.5h-50.7zM1866.9 1419.1h50.7v2.5h-50.7zM1866.9 1429.1h50.7v2.5h-50.7zM1866.9 1436.6h50.7v2.5h-50.7zM1866.9 1454.1h50.7v2.5h-50.7zM1866.9 1459.1h50.7v2.5h-50.7zM1866.9 1464.1h50.7v2.5h-50.7zM1866.9 1476.6h50.7v2.5h-50.7zM1866.9 1484.1h50.7v2.5h-50.7zM1866.9 1494.1h50.7v5h-50.7zM1866.9 1509.1h50.7v5h-50.7zM1866.9 1529h50.7v2.5h-50.7zM1866.9 1551.5h50.7v5h-50.7zM1866.9 1559h50.7v5h-50.7zM1866.9 1566.5h50.7v2.5h-50.7zM1866.9 1576.5h50.7v2.5h-50.7zM1866.9 1586.5h50.7v2.5h-50.7zM1866.9 1611.5h50.7v7.5h-50.7zM1866.9 1626.5h50.7v2.5h-50.7zM1866.9 1636.5h50.7v2.5h-50.7zM1866.9 1658.9h50.7v7.5h-50.7zM1866.9 1678.9h50.7v2.5h-50.7zM1866.9 1683.9h50.7v5h-50.7zM1866.9 1698.9h50.7v5h-50.7zM1866.9 1766.3h50.7v2.5h-50.7zM1866.9 1776.3h50.7v2.5h-50.7zM1866.9 1786.3h50.7v2.5h-50.7zM1866.9 1803.8h50.7v2.5h-50.7zM1866.9 1808.8h50.7v5h-50.7zM1866.9 1823.8h50.7v5h-50.7zM1866.9 1853.8h50.7v2.5h-50.7zM1866.9 1866.3h50.7v2.5h-50.7zM1866.9 1873.8h50.7v2.5h-50.7zM1866.9 1916.2h50.7v5h-50.7zM1866.9 1973.7h50.7v5h-50.7zM1866.9 1986.2h50.7v2.5h-50.7zM1866.9 2021.1h50.7v2.5h-50.7zM1866.9 2053.6h50.7v2.5h-50.7zM1866.9 2066.1h50.7v5h-50.7zM1866.9 2076.1h50.7v2.5h-50.7zM1866.9 2131.1h50.7v2.5h-50.7zM1866.9 2148.5h50.7v2.5h-50.7zM1866.9 2158.5h50.7v2.5h-50.7zM1917.6 1084.4h50.7v2.5h-50.7zM1917.6 1101.9h50.7v2.5h-50.7zM1917.6 1116.9h50.7v2.5h-50.7zM1917.6 1129.4h50.7v5h-50.7zM1917.6 1156.8h50.7v2.5h-50.7zM1917.6 1209.3h50.7v2.5h-50.7zM1917.6 1219.3h50.7v5h-50.7zM1917.6 1424.1h50.7v2.5h-50.7zM1917.6 1434.1h50.7v2.5h-50.7zM1917.6 1481.6h50.7v2.5h-50.7zM1917.6 1499.1h50.7v2.5h-50.7zM1917.6 1541.5h50.7v2.5h-50.7zM1917.6 1554h50.7v2.5h-50.7zM1917.6 1569h50.7v2.5h-50.7zM1917.6 1579h50.7v2.5h-50.7zM1917.6 1626.5h50.7v2.5h-50.7zM1917.6 1698.9h50.7v2.5h-50.7zM1917.6 1706.4h50.7v2.5h-50.7zM1917.6 1716.4h50.7v2.5h-50.7zM1917.6 1736.4h50.7v2.5h-50.7zM1917.6 1743.9h50.7v7.5h-50.7zM1917.6 1766.3h50.7v2.5h-50.7zM1917.6 1776.3h50.7v2.5h-50.7zM1917.6 1781.3h50.7v2.5h-50.7zM1917.6 1788.8h50.7v2.5h-50.7zM1917.6 1811.3h50.7v5h-50.7zM1917.6 1818.8h50.7v12.5h-50.7zM1917.6 1836.3h50.7v2.5h-50.7zM1917.6 1858.8h50.7v2.5h-50.7zM1917.6 1903.7h50.7v2.5h-50.7zM1917.6 1913.7h50.7v2.5h-50.7zM1917.6 1928.7h50.7v2.5h-50.7zM1917.6 1951.2h50.7v2.5h-50.7zM1917.6 1961.2h50.7v5h-50.7zM1917.6 1971.2h50.7v2.5h-50.7zM1917.6 1986.2h50.7v2.5h-50.7zM1917.6 2006.2h50.7v2.5h-50.7zM1917.6 2011.2h50.7v2.5h-50.7zM1917.6 2028.6h50.7v2.5h-50.7zM1917.6 2063.6h50.7v7.5h-50.7zM1917.6 2073.6h50.7v2.5h-50.7zM1917.6 2078.6h50.7v5h-50.7zM1917.6 2093.6h50.7v5h-50.7zM1917.6 2136.1h50.7v5h-50.7zM1917.6 2146h50.7v2.5h-50.7zM1917.6 2151h50.7v7.5h-50.7zM1917.6 2161h50.7v2.5h-50.7zM1917.6 2171h50.7v5h-50.7zM1917.6 2188.5h50.7v5h-50.7zM1917.6 2198.5h50.7v2.5h-50.7zM1917.6 2218.5h50.7v2.5h-50.7zM1917.6 2226h50.7v2.5h-50.7zM1917.6 2258.5h50.7v5h-50.7zM1917.6 2268.5h50.7v2.5h-50.7zM1917.6 2280.9h50.7v5h-50.7zM1917.6 2293.4h50.7v2.5h-50.7zM1917.6 2298.4h50.7v2.5h-50.7zM1917.6 2318.4h50.7v2.5h-50.7zM1917.6 2325.9h50.7v2.5h-50.7zM1917.6 2330.9h50.7v2.5h-50.7zM1968.3 1094.4h50.7v2.5h-50.7zM1968.3 1099.4h50.7v2.5h-50.7zM1968.3 1106.9h50.7v2.5h-50.7zM1968.3 1116.9h50.7v2.5h-50.7zM1968.3 1124.4h50.7v2.5h-50.7zM1968.3 1131.9h50.7v5h-50.7zM1968.3 1164.3h50.7v2.5h-50.7zM1968.3 1259.2h50.7v2.5h-50.7zM1968.3 1276.7h50.7v7.5h-50.7zM1968.3 1311.7h50.7v5h-50.7zM1968.3 1354.2h50.7v2.5h-50.7zM1968.3 1359.2h50.7v2.5h-50.7zM1968.3 1416.6h50.7v2.5h-50.7zM1968.3 1451.6h50.7v2.5h-50.7zM1968.3 1589h50.7v5h-50.7zM1968.3 1599h50.7v5h-50.7zM1968.3 1614h50.7v2.5h-50.7zM1968.3 1636.5h50.7v2.5h-50.7zM1968.3 1646.4h50.7v2.5h-50.7zM1968.3 1661.4h50.7v2.5h-50.7zM1968.3 1716.4h50.7v5h-50.7zM1968.3 1736.4h50.7v7.5h-50.7zM1968.3 1746.4h50.7v2.5h-50.7zM1968.3 1753.9h50.7v2.5h-50.7zM1968.3 1758.9h50.7v5h-50.7zM1968.3 1796.3h50.7v2.5h-50.7zM1968.3 1811.3h50.7v7.5h-50.7zM1968.3 1826.3h50.7v2.5h-50.7zM1968.3 1836.3h50.7v2.5h-50.7zM1968.3 1843.8h50.7v2.5h-50.7zM1968.3 1856.3h50.7v2.5h-50.7zM1968.3 1861.3h50.7v5h-50.7zM1968.3 1868.8h50.7v5h-50.7zM1968.3 1911.2h50.7v2.5h-50.7zM1968.3 1916.2h50.7v5h-50.7zM1968.3 1923.7h50.7v2.5h-50.7zM1968.3 1931.2h50.7v12.5h-50.7zM1968.3 1946.2h50.7v2.5h-50.7zM1968.3 1951.2h50.7v2.5h-50.7zM1968.3 1956.2h50.7v2.5h-50.7zM1968.3 1966.2h50.7v2.5h-50.7zM1968.3 1971.2h50.7v5h-50.7zM1968.3 1981.2h50.7v2.5h-50.7zM1968.3 1986.2h50.7v2.5h-50.7zM1968.3 1998.7h50.7v2.5h-50.7zM1968.3 2008.7h50.7v2.5h-50.7zM1968.3 2036.1h50.7v2.5h-50.7zM1968.3 2041.1h50.7v2.5h-50.7zM1968.3 2048.6h50.7v2.5h-50.7zM1968.3 2053.6h50.7v2.5h-50.7zM1968.3 2061.1h50.7v5h-50.7zM1968.3 2091.1h50.7v2.5h-50.7zM1968.3 2113.6h50.7v2.5h-50.7zM1968.3 2118.6h50.7v5h-50.7zM1968.3 2136.1h50.7v2.5h-50.7zM1968.3 2143.6h50.7v2.5h-50.7zM1968.3 2151h50.7v7.5h-50.7zM1968.3 2163.5h50.7v2.5h-50.7zM1968.3 2171h50.7v2.5h-50.7zM1968.3 2178.5h50.7v2.5h-50.7zM1968.3 2183.5h50.7v5h-50.7zM1968.3 2196h50.7v2.5h-50.7zM1968.3 2203.5h50.7v2.5h-50.7zM1968.3 2228.5h50.7v7.5h-50.7zM1968.3 2238.5h50.7v2.5h-50.7zM1968.3 2253.5h50.7v2.5h-50.7zM1968.3 2266h50.7v2.5h-50.7zM1968.3 2275.9h50.7v2.5h-50.7zM1968.3 2280.9h50.7v2.5h-50.7zM1968.3 2285.9h50.7v2.5h-50.7zM1968.3 2290.9h50.7v2.5h-50.7zM1968.3 2305.9h50.7v2.5h-50.7zM1968.3 2328.4h50.7v2.5h-50.7zM2019 1101.9h50.7v2.5h-50.7zM2019 1109.4h50.7v2.5h-50.7zM2019 1131.9h50.7v2.5h-50.7zM2019 1216.8h50.7v2.5h-50.7zM2019 1251.8h50.7v2.5h-50.7zM2019 1319.2h50.7v2.5h-50.7zM2019 1331.7h50.7v5h-50.7zM2019 1354.2h50.7v2.5h-50.7zM2019 1499.1h50.7v2.5h-50.7zM2019 1526.5h50.7v2.5h-50.7zM2019 1614h50.7v5h-50.7zM2019 1638.9h50.7v2.5h-50.7zM2019 1713.9h50.7v2.5h-50.7zM2019 1718.9h50.7v2.5h-50.7zM2019 1723.9h50.7v2.5h-50.7zM2019 1731.4h50.7v2.5h-50.7zM2019 1748.9h50.7v2.5h-50.7zM2019 1753.9h50.7v2.5h-50.7zM2019 1761.4h50.7v2.5h-50.7zM2019 1766.3h50.7v5h-50.7zM2019 1796.3h50.7v2.5h-50.7zM2019 1818.8h50.7v2.5h-50.7zM2019 1828.8h50.7v2.5h-50.7zM2019 1836.3h50.7v5h-50.7zM2019 1843.8h50.7v2.5h-50.7zM2019 1851.3h50.7v2.5h-50.7zM2019 1858.8h50.7v2.5h-50.7zM2019 1863.8h50.7v2.5h-50.7zM2019 1878.8h50.7v2.5h-50.7zM2019 1898.7h50.7v2.5h-50.7zM2019 1946.2h50.7v2.5h-50.7zM2019 1951.2h50.7v2.5h-50.7zM2019 1968.7h50.7v2.5h-50.7zM2019 1976.2h50.7v2.5h-50.7zM2019 1993.7h50.7v2.5h-50.7zM2019 1998.7h50.7v5h-50.7zM2019 2018.6h50.7v2.5h-50.7zM2019 2028.6h50.7v2.5h-50.7zM2019 2038.6h50.7v2.5h-50.7zM2019 2046.1h50.7v2.5h-50.7zM2019 2058.6h50.7v2.5h-50.7zM2019 2083.6h50.7v2.5h-50.7zM2019 2093.6h50.7v2.5h-50.7zM2019 2116.1h50.7v2.5h-50.7zM2019 2123.6h50.7v5h-50.7zM2019 2146h50.7v2.5h-50.7zM2019 2151h50.7v2.5h-50.7zM2019 2156h50.7v2.5h-50.7zM2019 2163.5h50.7v2.5h-50.7zM2019 2168.5h50.7v2.5h-50.7zM2019 2173.5h50.7v2.5h-50.7zM2019 2178.5h50.7v2.5h-50.7zM2019 2196h50.7v7.5h-50.7zM2019 2206h50.7v7.5h-50.7zM2019 2228.5h50.7v2.5h-50.7zM2019 2236h50.7v2.5h-50.7zM2019 2246h50.7v2.5h-50.7zM2019 2251h50.7v2.5h-50.7zM2019 2258.5h50.7v2.5h-50.7zM2019 2268.5h50.7v2.5h-50.7zM2019 2273.4h50.7v2.5h-50.7zM2019 2285.9h50.7v2.5h-50.7zM2019 2303.4h50.7v2.5h-50.7zM2069.6 1074.4h50.7v2.5h-50.7zM2069.6 1084.4h50.7v2.5h-50.7zM2069.6 1114.4h50.7v2.5h-50.7zM2069.6 1131.9h50.7v2.5h-50.7zM2069.6 1146.8h50.7v5h-50.7zM2069.6 1314.2h50.7v2.5h-50.7zM2069.6 1319.2h50.7v2.5h-50.7zM2069.6 1334.2h50.7v2.5h-50.7zM2069.6 1364.2h50.7v2.5h-50.7zM2069.6 1401.6h50.7v2.5h-50.7zM2069.6 1409.1h50.7v2.5h-50.7zM2069.6 1424.1h50.7v2.5h-50.7zM2069.6 1444.1h50.7v2.5h-50.7zM2069.6 1456.6h50.7v5h-50.7zM2069.6 1499.1h50.7v2.5h-50.7zM2069.6 1521.5h50.7v2.5h-50.7zM2069.6 1531.5h50.7v2.5h-50.7zM2069.6 1551.5h50.7v2.5h-50.7zM2069.6 1571.5h50.7v2.5h-50.7zM2069.6 1589h50.7v2.5h-50.7zM2069.6 1606.5h50.7v2.5h-50.7zM2069.6 1614h50.7v2.5h-50.7zM2069.6 1626.5h50.7v5h-50.7zM2069.6 1686.4h50.7v2.5h-50.7zM2069.6 1706.4h50.7v2.5h-50.7zM2069.6 1723.9h50.7v5h-50.7zM2069.6 1753.9h50.7v2.5h-50.7zM2069.6 1776.3h50.7v7.5h-50.7zM2069.6 1791.3h50.7v2.5h-50.7zM2069.6 1808.8h50.7v2.5h-50.7zM2069.6 1813.8h50.7v7.5h-50.7zM2069.6 1831.3h50.7v2.5h-50.7zM2069.6 1843.8h50.7v2.5h-50.7zM2069.6 1851.3h50.7v5h-50.7zM2069.6 1863.8h50.7v5h-50.7zM2069.6 1876.3h50.7v2.5h-50.7zM2069.6 1881.3h50.7v2.5h-50.7zM2069.6 1898.7h50.7v2.5h-50.7zM2069.6 1906.2h50.7v2.5h-50.7zM2069.6 1911.2h50.7v2.5h-50.7zM2069.6 1921.2h50.7v2.5h-50.7zM2069.6 1931.2h50.7v2.5h-50.7zM2069.6 1948.7h50.7v2.5h-50.7zM2069.6 1953.7h50.7v2.5h-50.7zM2069.6 1958.7h50.7v17.5h-50.7zM2069.6 1983.7h50.7v5h-50.7zM2069.6 1996.2h50.7v2.5h-50.7zM2069.6 2006.2h50.7v2.5h-50.7zM2069.6 2011.2h50.7v2.5h-50.7zM2069.6 2023.6h50.7v2.5h-50.7zM2069.6 2031.1h50.7v2.5h-50.7zM2069.6 2053.6h50.7v2.5h-50.7zM2069.6 2063.6h50.7v2.5h-50.7zM2069.6 2083.6h50.7v2.5h-50.7zM2069.6 2093.6h50.7v2.5h-50.7zM2069.6 2103.6h50.7v2.5h-50.7zM2069.6 2131.1h50.7v5h-50.7zM2069.6 2153.5h50.7v5h-50.7zM2069.6 2186h50.7v2.5h-50.7zM2069.6 2193.5h50.7v2.5h-50.7zM2069.6 2201h50.7v2.5h-50.7zM2069.6 2208.5h50.7v2.5h-50.7zM2069.6 2218.5h50.7v5h-50.7zM2069.6 2236h50.7v2.5h-50.7zM2069.6 2243.5h50.7v2.5h-50.7zM2069.6 2275.9h50.7v2.5h-50.7zM2069.6 2285.9h50.7v2.5h-50.7zM2069.6 2300.9h50.7v2.5h-50.7zM2069.6 2325.9h50.7v2.5h-50.7zM2120.3 1164.3h50.7v2.5h-50.7zM2120.3 1174.3h50.7v2.5h-50.7zM2120.3 1189.3h50.7v2.5h-50.7zM2120.3 1231.8h50.7v2.5h-50.7zM2120.3 1309.2h50.7v2.5h-50.7zM2120.3 1331.7h50.7v2.5h-50.7zM2120.3 1366.7h50.7v2.5h-50.7zM2120.3 1396.6h50.7v2.5h-50.7zM2120.3 1444.1h50.7v2.5h-50.7zM2120.3 1449.1h50.7v2.5h-50.7zM2120.3 1466.6h50.7v2.5h-50.7zM2120.3 1486.6h50.7v2.5h-50.7zM2120.3 1491.6h50.7v2.5h-50.7zM2120.3 1516.5h50.7v2.5h-50.7zM2120.3 1526.5h50.7v2.5h-50.7zM2120.3 1718.9h50.7v2.5h-50.7zM2120.3 1723.9h50.7v10h-50.7zM2120.3 1761.4h50.7v2.5h-50.7zM2120.3 1773.8h50.7v2.5h-50.7zM2120.3 1778.8h50.7v5h-50.7zM2120.3 1791.3h50.7v5h-50.7zM2120.3 1803.8h50.7v5h-50.7zM2120.3 1811.3h50.7v2.5h-50.7zM2120.3 1821.3h50.7v7.5h-50.7zM2120.3 1833.8h50.7v2.5h-50.7zM2120.3 1856.3h50.7v2.5h-50.7zM2120.3 1866.3h50.7v2.5h-50.7zM2120.3 1883.8h50.7v2.5h-50.7zM2120.3 1901.2h50.7v2.5h-50.7zM2120.3 1906.2h50.7v2.5h-50.7zM2120.3 1911.2h50.7v2.5h-50.7zM2120.3 1923.7h50.7v2.5h-50.7zM2120.3 1931.2h50.7v2.5h-50.7zM2120.3 1946.2h50.7v5h-50.7zM2120.3 1963.7h50.7v2.5h-50.7zM2120.3 1973.7h50.7v2.5h-50.7zM2120.3 1978.7h50.7v5h-50.7zM2120.3 2003.7h50.7v2.5h-50.7zM2120.3 2011.2h50.7v2.5h-50.7zM2120.3 2038.6h50.7v2.5h-50.7zM2120.3 2051.1h50.7v5h-50.7zM2120.3 2096.1h50.7v2.5h-50.7zM2120.3 2101.1h50.7v2.5h-50.7zM2120.3 2113.6h50.7v7.5h-50.7zM2120.3 2126.1h50.7v2.5h-50.7zM2120.3 2146h50.7v2.5h-50.7zM2120.3 2161h50.7v2.5h-50.7zM2120.3 2168.5h50.7v2.5h-50.7zM2120.3 2218.5h50.7v2.5h-50.7zM2120.3 2268.5h50.7v2.5h-50.7zM2120.3 2280.9h50.7v2.5h-50.7zM2120.3 2293.4h50.7v2.5h-50.7zM2120.3 2298.4h50.7v2.5h-50.7zM2120.3 2303.4h50.7v5h-50.7zM2120.3 2323.4h50.7v2.5h-50.7zM2120.3 2328.4h50.7v5h-50.7zM2171 1289.2h50.7v2.5h-50.7zM2171 1409.1h50.7v2.5h-50.7zM2171 1479.1h50.7v2.5h-50.7zM2171 1484.1h50.7v5h-50.7zM2171 1554h50.7v2.5h-50.7zM2171 1574h50.7v5h-50.7zM2171 1708.9h50.7v2.5h-50.7zM2171 1721.4h50.7v2.5h-50.7zM2171 1731.4h50.7v2.5h-50.7zM2171 1741.4h50.7v2.5h-50.7zM2171 1748.9h50.7v2.5h-50.7zM2171 1756.4h50.7v5h-50.7zM2171 1773.8h50.7v2.5h-50.7zM2171 1786.3h50.7v2.5h-50.7zM2171 1791.3h50.7v5h-50.7zM2171 1803.8h50.7v2.5h-50.7zM2171 1818.8h50.7v2.5h-50.7zM2171 1823.8h50.7v7.5h-50.7zM2171 1848.8h50.7v2.5h-50.7zM2171 1853.8h50.7v2.5h-50.7zM2171 1871.3h50.7v2.5h-50.7zM2171 1891.2h50.7v2.5h-50.7zM2171 1901.2h50.7v2.5h-50.7zM2171 1913.7h50.7v5h-50.7zM2171 1946.2h50.7v2.5h-50.7zM2171 1966.2h50.7v5h-50.7zM2171 1976.2h50.7v2.5h-50.7zM2171 1983.7h50.7v2.5h-50.7zM2171 1991.2h50.7v2.5h-50.7zM2171 1996.2h50.7v2.5h-50.7zM2171 2008.7h50.7v2.5h-50.7zM2171 2021.1h50.7v5h-50.7zM2171 2046.1h50.7v2.5h-50.7zM2171 2068.6h50.7v2.5h-50.7zM2171 2073.6h50.7v2.5h-50.7zM2171 2081.1h50.7v2.5h-50.7zM2171 2098.6h50.7v2.5h-50.7zM2171 2108.6h50.7v2.5h-50.7zM2171 2123.6h50.7v2.5h-50.7zM2171 2153.5h50.7v2.5h-50.7zM2171 2163.5h50.7v2.5h-50.7zM2171 2168.5h50.7v2.5h-50.7zM2171 2173.5h50.7v5h-50.7zM2171 2193.5h50.7v2.5h-50.7zM2171 2203.5h50.7v12.5h-50.7zM2171 2228.5h50.7v5h-50.7zM2171 2238.5h50.7v7.5h-50.7zM2171 2251h50.7v2.5h-50.7zM2171 2273.4h50.7v2.5h-50.7zM2171 2278.4h50.7v2.5h-50.7zM2171 2285.9h50.7v2.5h-50.7zM2171 2290.9h50.7v5h-50.7zM2171 2305.9h50.7v2.5h-50.7zM2171 2315.9h50.7v2.5h-50.7zM2171 2325.9h50.7v2.5h-50.7zM2171 2330.9h50.7v2.5h-50.7z"/>
<path fill="#e4f1e6" d="M1613.5 1071.9h50.7v5h-50.7zM1613.5 1081.9h50.7v2.5h-50.7zM1613.5 1094.4h50.7v2.5h-50.7zM1613.5 1099.4h50.7v2.5h-50.7zM1613.5 1111.9h50.7v2.5h-50.7zM1613.5 1116.9h50.7v10h-50.7zM1613.5 1129.4h50.7v5h-50.7zM1613.5 1154.3h50.7v2.5h-50.7zM1613.5 1174.3h50.7v2.5h-50.7zM1613.5 1196.8h50.7v2.5h-50.7zM1613.5 1206.8h50.7v7.5h-50.7zM1613.5 1219.3h50.7v2.5h-50.7zM1613.5 1264.2h50.7v2.5h-50.7zM1613.5 1289.2h50.7v2.5h-50.7zM1613.5 1331.7h50.7v2.5h-50.7zM1613.5 1361.7h50.7v2.5h-50.7zM1613.5 1404.1h50.7v2.5h-50.7zM1613.5 1411.6h50.7v2.5h-50.7zM1613.5 1424.1h50.7v2.5h-50.7zM1613.5 1429.1h50.7v2.5h-50.7zM1613.5 1436.6h50.7v2.5h-50.7zM1613.5 1441.6h50.7v2.5h-50.7zM1613.5 1474.1h50.7v2.5h-50.7zM1613.5 1506.6h50.7v2.5h-50.7zM1613.5 1541.5h50.7v2.5h-50.7zM1613.5 1549h50.7v2.5h-50.7zM1613.5 1554h50.7v2.5h-50.7zM1613.5 1581.5h50.7v2.5h-50.7zM1613.5 1604h50.7v2.5h-50.7zM1613.5 1611.5h50.7v2.5h-50.7zM1613.5 1621.5h50.7v5h-50.7zM1613.5 1656.4h50.7v5h-50.7zM1613.5 1678.9h50.7v5h-50.7zM1613.5 1691.4h50.7v2.5h-50.7zM1613.5 1706.4h50.7v2.5h-50.7zM1613.5 1711.4h50.7v2.5h-50.7zM1613.5 1901.2h50.7v2.5h-50.7zM1613.5 2023.6h50.7v2.5h-50.7zM1613.5 2133.6h50.7v2.5h-50.7zM1664.2 1116.9h50.7v2.5h-50.7zM1664.2 1129.4h50.7v2.5h-50.7zM1664.2 1139.3h50.7v2.5h-50.7zM1664.2 1144.3h50.7v5h-50.7zM1664.2 1166.8h50.7v2.5h-50.7zM1664.2 1209.3h50.7v7.5h-50.7zM1664.2 1236.8h50.7v2.5h-50.7zM1664.2 1251.8h50.7v2.5h-50.7zM1664.2 1264.2h50.7v5h-50.7zM1664.2 1286.7h50.7v5h-50.7zM1664.2 1301.7h50.7v2.5h-50.7zM1664.2 1316.7h50.7v2.5h-50.7zM1664.2 1334.2h50.7v2.5h-50.7zM1664.2 1339.2h50.7v2.5h-50.7zM1664.2 1361.7h50.7v5h-50.7zM1664.2 1381.7h50.7v5h-50.7zM1664.2 1399.1h50.7v2.5h-50.7zM1664.2 1429.1h50.7v2.5h-50.7zM1664.2 1446.6h50.7v2.5h-50.7zM1664.2 1456.6h50.7v2.5h-50.7zM1664.2 1461.6h50.7v2.5h-50.7zM1664.2 1466.6h50.7v2.5h-50.7zM1664.2 1484.1h50.7v5h-50.7zM1664.2 1514h50.7v2.5h-50.7zM1664.2 1526.5h50.7v2.5h-50.7zM1664.2 1556.5h50.7v2.5h-50.7zM1664.2 1564h50.7v2.5h-50.7zM1664.2 1581.5h50.7v2.5h-50.7zM1664.2 1599h50.7v2.5h-50.7zM1664.2 1634h50.7v2.5h-50.7zM1664.2 1648.9h50.7v2.5h-50.7zM1664.2 1656.4h50.7v2.5h-50.7zM1664.2 1673.9h50.7v2.5h-50.7zM1664.2 1686.4h50.7v2.5h-50.7zM1664.2 1691.4h50.7v5h-50.7zM1664.2 1701.4h50.7v5h-50.7zM1664.2 1738.9h50.7v5h-50.7zM1664.2 1911.2h50.7v2.5h-50.7zM1664.2 1963.7h50.7v2.5h-50.7zM1664.2 2173.5h50.7v2.5h-50.7zM1714.9 1071.9h50.7v2.5h-50.7zM1714.9 1094.4h50.7v2.5h-50.7zM1714.9 1106.9h50.7v2.5h-50.7zM1714.9 1134.3h50.7v7.5h-50.7zM1714.9 1174.3h50.7v2.5h-50.7zM1714.9 1181.8h50.7v2.5h-50.7zM1714.9 1191.8h50.7v2.5h-50.7zM1714.9 1196.8h50.7v2.5h-50.7zM1714.9 1201.8h50.7v2.5h-50.7zM1714.9 1209.3h50.7v5h-50.7zM1714.9 1231.8h50.7v2.5h-50.7zM1714.9 1251.8h50.7v2.5h-50.7zM1714.9 1294.2h50.7v2.5h-50.7zM1714.9 1306.7h50.7v2.5h-50.7zM1714.9 1321.7h50.7v2.5h-50.7zM1714.9 1331.7h50.7v2.5h-50.7zM1714.9 1336.7h50.7v2.5h-50.7zM1714.9 1381.7h50.7v2.5h-50.7zM1714.9 1446.6h50.7v2.5h-50.7zM1714.9 1479.1h50.7v2.5h-50.7zM1714.9 1484.1h50.7v2.5h-50.7zM1714.9 1504.1h50.7v2.5h-50.7zM1714.9 1516.5h50.7v2.5h-50.7zM1714.9 1529h50.7v2.5h-50.7zM1714.9 1539h50.7v2.5h-50.7zM1714.9 1581.5h50.7v2.5h-50.7zM1714.9 1589h50.7v2.5h-50.7zM1714.9 1601.5h50.7v2.5h-50.7zM1714.9 1616.5h50.7v2.5h-50.7zM1714.9 1629h50.7v2.5h-50.7zM1714.9 1656.4h50.7v2.5h-50.7zM1714.9 1668.9h50.7v2.5h-50.7zM1714.9 1696.4h50.7v2.5h-50.7zM1714.9 1766.3h50.7v2.5h-50.7zM1714.9 1801.3h50.7v2.5h-50.7zM1714.9 1808.8h50.7v5h-50.7zM1714.9 1983.7h50.7v2.5h-50.7zM1714.9 2121.1h50.7v2.5h-50.7zM1714.9 2285.9h50.7v2.5h-50.7zM1714.9 2293.4h50.7v2.5h-50.7zM1765.5 1086.9h50.7v2.5h-50.7zM1765.5 1109.4h50.7v2.5h-50.7zM1765.5 1119.4h50.7v2.5h-50.7zM1765.5 1139.3h50.7v2.5h-50.7zM1765.5 1164.3h50.7v2.5h-50.7zM1765.5 1199.3h50.7v2.5h-50.7zM1765.5 1229.3h50.7v2.5h-50.7zM1765.5 1254.3h50.7v2.5h-50.7zM1765.5 1286.7h50.7v2.5h-50.7zM1765.5 1291.7h50.7v2.5h-50.7zM1765.5 1344.2h50.7v2.5h-50.7zM1765.5 1359.2h50.7v5h-50.7zM1765.5 1399.1h50.7v2.5h-50.7zM1765.5 1436.6h50.7v2.5h-50.7zM1765.5 1449.1h50.7v5h-50.7zM1765.5 1461.6h50.7v2.5h-50.7zM1765.5 1491.6h50.7v2.5h-50.7zM1765.5 1516.5h50.7v5h-50.7zM1765.5 1529h50.7v5h-50.7zM1765.5 1589h50.7v2.5h-50.7zM1765.5 1594h50.7v2.5h-50.7zM1765.5 1599h50.7v2.5h-50.7zM1765.5 1604h50.7v2.5h-50.7zM1765.5 1616.5h50.7v2.5h-50.7zM1765.5 1661.4h50.7v5h-50.7zM1765.5 1678.9h50.7v2.5h-50.7zM1765.5 1821.3h50.7v2.5h-50.7zM1765.5 1923.7h50.7v2.5h-50.7zM1765.5 2013.7h50.7v2.5h-50.7zM1765.5 2071.1h50.7v2.5h-50.7zM1765.5 2223.5h50.7v2.5h-50.7zM1816.2 1074.4h50.7v2.5h-50.7zM1816.2 1086.9h50.7v2.5h-50.7zM1816.2 1114.4h50.7v2.5h-50.7zM1816.2 1126.9h50.7v2.5h-50.7zM1816.2 1131.9h50.7v2.5h-50.7zM1816.2 1144.3h50.7v7.5h-50.7zM1816.2 1196.8h50.7v2.5h-50.7zM1816.2 1201.8h50.7v2.5h-50.7zM1816.2 1219.3h50.7v2.5h-50.7zM1816.2 1256.8h50.7v2.5h-50.7zM1816.2 1261.7h50.7v2.5h-50.7zM1816.2 1271.7h50.7v5h-50.7zM1816.2 1304.2h50.7v2.5h-50.7zM1816.2 1309.2h50.7v2.5h-50.7zM1816.2 1321.7h50.7v2.5h-50.7zM1816.2 1326.7h50.7v2.5h-50.7zM1816.2 1341.7h50.7v2.5h-50.7zM1816.2 1361.7h50.7v2.5h-50.7zM1816.2 1391.6h50.7v2.5h-50.7zM1816.2 1401.6h50.7v2.5h-50.7zM1816.2 1409.1h50.7v2.5h-50.7zM1816.2 1464.1h50.7v2.5h-50.7zM1816.2 1484.1h50.7v5h-50.7zM1816.2 1504.1h50.7v2.5h-50.7zM1816.2 1531.5h50.7v2.5h-50.7zM1816.2 1536.5h50.7v2.5h-50.7zM1816.2 1546.5h50.7v2.5h-50.7zM1816.2 1579h50.7v2.5h-50.7zM1816.2 1599h50.7v2.5h-50.7zM1816.2 1611.5h50.7v5h-50.7zM1816.2 1636.5h50.7v2.5h-50.7zM1816.2 1658.9h50.7v5h-50.7zM1816.2 1686.4h50.7v2.5h-50.7zM1816.2 1693.9h50.7v2.5h-50.7zM1816.2 1708.9h50.7v2.5h-50.7zM1816.2 1738.9h50.7v5h-50.7zM1816.2 1811.3h50.7v2.5h-50.7zM1816.2 1963.7h50.7v2.5h-50.7zM1816.2 2046.1h50.7v2.5h-50.7zM1816.2 2051.1h50.7v2.5h-50.7zM1816.2 2293.4h50.7v2.5h-50.7zM1866.9 1086.9h50.7v2.5h-50.7zM1866.9 1101.9h50.7v2.5h-50.7zM1866.9 1121.9h50.7v2.5h-50.7zM1866.9 1126.9h50.7v2.5h-50.7zM1866.9 1134.3h50.7v2.5h-50.7zM1866.9 1166.8h50.7v2.5h-50.7zM1866.9 1201.8h50.7v2.5h-50.7zM1866.9 1221.8h50.7v5h-50.7zM1866.9 1231.8h50.7v2.5h-50.7zM1866.9 1239.3h50.7v2.5h-50.7zM1866.9 1244.3h50.7v2.5h-50.7zM1866.9 1254.3h50.7v2.5h-50.7zM1866.9 1259.2h50.7v2.5h-50.7zM1866.9 1316.7h50.7v7.5h-50.7zM1866.9 1326.7h50.7v5h-50.7zM1866.9 1334.2h50.7v2.5h-50.7zM1866.9 1351.7h50.7v2.5h-50.7zM1866.9 1364.2h50.7v2.5h-50.7zM1866.9 1396.6h50.7v2.5h-50.7zM1866.9 1409.1h50.7v5h-50.7zM1866.9 1416.6h50.7v2.5h-50.7zM1866.9 1451.6h50.7v2.5h-50.7zM1866.9 1469.1h50.7v2.5h-50.7zM1866.9 1506.6h50.7v2.5h-50.7zM1866.9 1536.5h50.7v2.5h-50.7zM1866.9 1606.5h50.7v5h-50.7zM1866.9 1671.4h50.7v2.5h-50.7zM1866.9 1688.9h50.7v2.5h-50.7zM1866.9 1696.4h50.7v2.5h-50.7zM1866.9 1703.9h50.7v2.5h-50.7zM1866.9 1726.4h50.7v2.5h-50.7zM1866.9 1758.9h50.7v2.5h-50.7zM1866.9 1763.9h50.7v2.5h-50.7zM1866.9 1861.3h50.7v2.5h-50.7zM1866.9 1983.7h50.7v2.5h-50.7zM1866.9 2023.6h50.7v2.5h-50.7zM1917.6 1139.3h50.7v2.5h-50.7zM1917.6 1404.1h50.7v2.5h-50.7zM1917.6 1529h50.7v2.5h-50.7zM1917.6 1651.4h50.7v2.5h-50.7zM1917.6 1701.4h50.7v2.5h-50.7zM1917.6 1723.9h50.7v2.5h-50.7zM1917.6 1751.4h50.7v2.5h-50.7zM1917.6 1803.8h50.7v2.5h-50.7zM1917.6 1808.8h50.7v2.5h-50.7zM1917.6 1816.3h50.7v2.5h-50.7zM1917.6 1843.8h50.7v2.5h-50.7zM1917.6 1848.8h50.7v2.5h-50.7zM1917.6 1856.3h50.7v2.5h-50.7zM1917.6 1861.3h50.7v2.5h-50.7zM1917.6 1876.3h50.7v2.5h-50.7zM1917.6 1893.7h50.7v2.5h-50.7zM1917.6 1923.7h50.7v2.5h-50.7zM1917.6 1991.2h50.7v2.5h-50.7zM1917.6 2043.6h50.7v2.5h-50.7zM1917.6 2051.1h50.7v10h-50.7zM1917.6 2076.1h50.7v2.5h-50.7zM1917.6 2088.6h50.7v2.5h-50.7zM1917.6 2098.6h50.7v2.5h-50.7zM1917.6 2141.1h50.7v5h-50.7zM1917.6 2163.5h50.7v2.5h-50.7zM1917.6 2181h50.7v2.5h-50.7zM1917.6 2193.5h50.7v5h-50.7zM1917.6 2221h50.7v2.5h-50.7zM1917.6 2238.5h50.7v2.5h-50.7zM1917.6 2243.5h50.7v2.5h-50.7zM1917.6 2256h50.7v2.5h-50.7zM1917.6 2288.4h50.7v2.5h-50.7zM1917.6 2308.4h50.7v2.5h-50.7zM1968.3 1436.6h50.7v2.5h-50.7zM1968.3 1756.4h50.7v2.5h-50.7zM1968.3 1773.8h50.7v2.5h-50.7zM1968.3 1778.8h50.7v2.5h-50.7zM1968.3 1786.3h50.7v2.5h-50.7zM1968.3 1798.8h50.7v2.5h-50.7zM1968.3 1846.3h50.7v2.5h-50.7zM1968.3 1851.3h50.7v2.5h-50.7zM1968.3 1876.3h50.7v2.5h-50.7zM1968.3 1886.3h50.7v2.5h-50.7zM1968.3 1896.2h50.7v2.5h-50.7zM1968.3 1908.7h50.7v2.5h-50.7zM1968.3 1913.7h50.7v2.5h-50.7zM1968.3 1983.7h50.7v2.5h-50.7zM1968.3 1988.7h50.7v2.5h-50.7zM1968.3 2038.6h50.7v2.5h-50.7zM1968.3 2046.1h50.7v2.5h-50.7zM1968.3 2051.1h50.7v2.5h-50.7zM1968.3 2058.6h50.7v2.5h-50.7zM1968.3 2071.1h50.7v2.5h-50.7zM1968.3 2083.6h50.7v2.5h-50.7zM1968.3 2096.1h50.7v2.5h-50.7zM1968.3 2133.6h50.7v2.5h-50.7zM1968.3 2141.1h50.7v2.5h-50.7zM1968.3 2158.5h50.7v2.5h-50.7zM1968.3 2168.5h50.7v2.5h-50.7zM1968.3 2201h50.7v2.5h-50.7zM1968.3 2241h50.7v2.5h-50.7zM1968.3 2258.5h50.7v2.5h-50.7zM1968.3 2298.4h50.7v2.5h-50.7zM1968.3 2308.4h50.7v2.5h-50.7zM1968.3 2318.4h50.7v5h-50.7zM2019 1124.4h50.7v2.5h-50.7zM2019 1139.3h50.7v2.5h-50.7zM2019 1209.3h50.7v2.5h-50.7zM2019 1264.2h50.7v2.5h-50.7zM2019 1506.6h50.7v2.5h-50.7zM2019 1728.9h50.7v2.5h-50.7zM2019 1738.9h50.7v2.5h-50.7zM2019 1746.4h50.7v2.5h-50.7zM2019 1751.4h50.7v2.5h-50.7zM2019 1786.3h50.7v2.5h-50.7zM2019 1801.3h50.7v5h-50.7zM2019 1808.8h50.7v5h-50.7zM2019 1831.3h50.7v5h-50.7zM2019 1841.3h50.7v2.5h-50.7zM2019 1856.3h50.7v2.5h-50.7zM2019 1873.8h50.7v5h-50.7zM2019 1926.2h50.7v2.5h-50.7zM2019 1933.7h50.7v2.5h-50.7zM2019 1963.7h50.7v5h-50.7zM2019 1971.2h50.7v2.5h-50.7zM2019 1981.2h50.7v10h-50.7zM2019 2021.1h50.7v2.5h-50.7zM2019 2026.1h50.7v2.5h-50.7zM2019 2033.6h50.7v2.5h-50.7zM2019 2048.6h50.7v2.5h-50.7zM2019 2106.1h50.7v2.5h-50.7zM2019 2138.6h50.7v2.5h-50.7zM2019 2153.5h50.7v2.5h-50.7zM2019 2158.5h50.7v2.5h-50.7zM2019 2183.5h50.7v2.5h-50.7zM2019 2191h50.7v2.5h-50.7zM2019 2213.5h50.7v2.5h-50.7zM2019 2233.5h50.7v2.5h-50.7zM2019 2243.5h50.7v2.5h-50.7zM2019 2275.9h50.7v2.5h-50.7zM2019 2293.4h50.7v2.5h-50.7zM2019 2305.9h50.7v2.5h-50.7zM2069.6 1106.9h50.7v2.5h-50.7zM2069.6 1124.4h50.7v2.5h-50.7zM2069.6 1301.7h50.7v2.5h-50.7zM2069.6 1416.6h50.7v2.5h-50.7zM2069.6 1466.6h50.7v2.5h-50.7zM2069.6 1506.6h50.7v2.5h-50.7zM2069.6 1526.5h50.7v2.5h-50.7zM2069.6 1546.5h50.7v2.5h-50.7zM2069.6 1671.4h50.7v2.5h-50.7zM2069.6 1716.4h50.7v2.5h-50.7zM2069.6 1721.4h50.7v2.5h-50.7zM2069.6 1728.9h50.7v2.5h-50.7zM2069.6 1751.4h50.7v2.5h-50.7zM2069.6 1773.8h50.7v2.5h-50.7zM2069.6 1798.8h50.7v2.5h-50.7zM2069.6 1803.8h50.7v2.5h-50.7zM2069.6 1821.3h50.7v5h-50.7zM2069.6 1828.8h50.7v2.5h-50.7zM2069.6 1896.2h50.7v2.5h-50.7zM2069.6 1918.7h50.7v2.5h-50.7zM2069.6 1923.7h50.7v2.5h-50.7zM2069.6 1978.7h50.7v2.5h-50.7zM2069.6 1993.7h50.7v2.5h-50.7zM2069.6 2016.2h50.7v2.5h-50.7zM2069.6 2021.1h50.7v2.5h-50.7zM2069.6 2028.6h50.7v2.5h-50.7zM2069.6 2068.6h50.7v2.5h-50.7zM2069.6 2081.1h50.7v2.5h-50.7zM2069.6 2113.6h50.7v5h-50.7zM2069.6 2123.6h50.7v7.5h-50.7zM2069.6 2141.1h50.7v2.5h-50.7zM2069.6 2168.5h50.7v2.5h-50.7zM2069.6 2188.5h50.7v2.5h-50.7zM2069.6 2196h50.7v5h-50.7zM2069.6 2211h50.7v2.5h-50.7zM2069.6 2216h50.7v2.5h-50.7zM2069.6 2226h50.7v5h-50.7zM2069.6 2251h50.7v2.5h-50.7zM2069.6 2261h50.7v2.5h-50.7zM2069.6 2288.4h50.7v2.5h-50.7zM2069.6 2293.4h50.7v2.5h-50.7zM2069.6 2328.4h50.7v2.5h-50.7zM2120.3 1129.4h50.7v2.5h-50.7zM2120.3 1281.7h50.7v2.5h-50.7zM2120.3 1296.7h50.7v2.5h-50.7zM2120.3 1306.7h50.7v2.5h-50.7zM2120.3 1404.1h50.7v2.5h-50.7zM2120.3 1511.6h50.7v2.5h-50.7zM2120.3 1571.5h50.7v2.5h-50.7zM2120.3 1736.4h50.7v2.5h-50.7zM2120.3 1746.4h50.7v2.5h-50.7zM2120.3 1756.4h50.7v2.5h-50.7zM2120.3 1783.8h50.7v2.5h-50.7zM2120.3 1816.3h50.7v2.5h-50.7zM2120.3 1838.8h50.7v2.5h-50.7zM2120.3 1851.3h50.7v2.5h-50.7zM2120.3 1868.8h50.7v2.5h-50.7zM2120.3 1878.8h50.7v2.5h-50.7zM2120.3 1908.7h50.7v2.5h-50.7zM2120.3 1918.7h50.7v2.5h-50.7zM2120.3 1953.7h50.7v5h-50.7zM2120.3 1968.7h50.7v2.5h-50.7zM2120.3 1993.7h50.7v5h-50.7zM2120.3 2016.2h50.7v2.5h-50.7zM2120.3 2021.1h50.7v5h-50.7zM2120.3 2081.1h50.7v5h-50.7zM2120.3 2121.1h50.7v2.5h-50.7zM2120.3 2131.1h50.7v2.5h-50.7zM2120.3 2151h50.7v5h-50.7zM2120.3 2171h50.7v5h-50.7zM2120.3 2251h50.7v2.5h-50.7zM2120.3 2278.4h50.7v2.5h-50.7zM2120.3 2290.9h50.7v2.5h-50.7zM2171 1276.7h50.7v2.5h-50.7zM2171 1331.7h50.7v2.5h-50.7zM2171 1411.6h50.7v2.5h-50.7zM2171 1594h50.7v2.5h-50.7zM2171 1728.9h50.7v2.5h-50.7zM2171 1738.9h50.7v2.5h-50.7zM2171 1761.4h50.7v2.5h-50.7zM2171 1766.3h50.7v2.5h-50.7zM2171 1783.8h50.7v2.5h-50.7zM2171 1836.3h50.7v2.5h-50.7zM2171 1858.8h50.7v2.5h-50.7zM2171 1866.3h50.7v2.5h-50.7zM2171 1876.3h50.7v2.5h-50.7zM2171 1881.3h50.7v2.5h-50.7zM2171 1908.7h50.7v2.5h-50.7zM2171 1923.7h50.7v2.5h-50.7zM2171 1931.2h50.7v5h-50.7zM2171 1986.2h50.7v5h-50.7zM2171 1993.7h50.7v2.5h-50.7zM2171 2013.7h50.7v2.5h-50.7zM2171 2026.1h50.7v2.5h-50.7zM2171 2091.1h50.7v2.5h-50.7zM2171 2101.1h50.7v5h-50.7zM2171 2133.6h50.7v2.5h-50.7zM2171 2143.6h50.7v5h-50.7zM2171 2156h50.7v7.5h-50.7zM2171 2171h50.7v2.5h-50.7zM2171 2196h50.7v2.5h-50.7zM2171 2216h50.7v2.5h-50.7zM2171 2248.5h50.7v2.5h-50.7zM2171 2258.5h50.7v2.5h-50.7zM2171 2275.9h50.7v2.5h-50.7zM2171 2288.4h50.7v2.5h-50.7zM2171 2313.4h50.7v2.5h-50.7zM2171 2318.4h50.7v2.5h-50.7z"/>
<path fill="#f8f9c8" d="M1613.5 1076.9h50.7v2.5h-50.7zM1613.5 1144.3h50.7v2.5h-50.7zM1613.5 1169.3h50.7v2.5h-50.7zM1613.5 1199.3h50.7v2.5h-50.7zM1613.5 1224.3h50.7v2.5h-50.7zM1613.5 1261.7h50.7v2.5h-50.7zM1613.5 1271.7h50.7v2.5h-50.7zM1613.5 1329.2h50.7v2.5h-50.7zM1613.5 1421.6h50.7v2.5h-50.7zM1613.5 1454.1h50.7v2.5h-50.7zM1613.5 1459.1h50.7v2.5h-50.7zM1613.5 1471.6h50.7v2.5h-50.7zM1613.5 1556.5h50.7v2.5h-50.7zM1613.5 1609h50.7v2.5h-50.7zM1613.5 1631.5h50.7v2.5h-50.7zM1613.5 1648.9h50.7v2.5h-50.7zM1613.5 1893.7h50.7v2.5h-50.7zM1613.5 2028.6h50.7v5h-50.7zM1613.5 2128.6h50.7v2.5h-50.7zM1613.5 2138.6h50.7v2.5h-50.7zM1613.5 2178.5h50.7v2.5h-50.7zM1613.5 2188.5h50.7v2.5h-50.7zM1613.5 2201h50.7v5h-50.7zM1613.5 2221h50.7v2.5h-50.7zM1613.5 2251h50.7v2.5h-50.7zM1613.5 2263.5h50.7v2.5h-50.7zM1613.5 2280.9h50.7v2.5h-50.7zM1613.5 2295.9h50.7v2.5h-50.7zM1613.5 2300.9h50.7v5h-50.7zM1664.2 1079.4h50.7v2.5h-50.7zM1664.2 1114.4h50.7v2.5h-50.7zM1664.2 1256.8h50.7v2.5h-50.7zM1664.2 1284.2h50.7v2.5h-50.7zM1664.2 1521.5h50.7v2.5h-50.7zM1664.2 1586.5h50.7v2.5h-50.7zM1664.2 1596.5h50.7v2.5h-50.7zM1664.2 1716.4h50.7v2.5h-50.7zM1664.2 1721.4h50.7v2.5h-50.7zM1664.2 1726.4h50.7v2.5h-50.7zM1664.2 1756.4h50.7v2.5h-50.7zM1664.2 1776.3h50.7v2.5h-50.7zM1664.2 1791.3h50.7v2.5h-50.7zM1664.2 1823.8h50.7v7.5h-50.7zM1664.2 1836.3h50.7v2.5h-50.7zM1664.2 1851.3h50.7v2.5h-50.7zM1664.2 1866.3h50.7v2.5h-50.7zM1664.2 1878.8h50.7v2.5h-50.7zM1664.2 1886.3h50.7v2.5h-50.7zM1664.2 1913.7h50.7v2.5h-50.7zM1664.2 1948.7h50.7v2.5h-50.7zM1664.2 1978.7h50.7v2.5h-50.7zM1664.2 1988.7h50.7v2.5h-50.7zM1664.2 2163.5h50.7v5h-50.7zM1664.2 2191h50.7v2.5h-50.7zM1664.2 2233.5h50.7v2.5h-50.7zM1664.2 2266h50.7v5h-50.7zM1664.2 2273.4h50.7v2.5h-50.7zM1664.2 2283.4h50.7v2.5h-50.7zM1664.2 2290.9h50.7v2.5h-50.7zM1664.2 2295.9h50.7v2.5h-50.7zM1664.2 2303.4h50.7v2.5h-50.7zM1664.2 2310.9h50.7v5h-50.7zM1714.9 1226.8h50.7v2.5h-50.7zM1714.9 1261.7h50.7v2.5h-50.7zM1714.9 1319.2h50.7v2.5h-50.7zM1714.9 1469.1h50.7v5h-50.7zM1714.9 1566.5h50.7v2.5h-50.7zM1714.9 1576.5h50.7v2.5h-50.7zM1714.9 1584h50.7v2.5h-50.7zM1714.9 1594h50.7v5h-50.7zM1714.9 1634h50.7v2.5h-50.7zM1714.9 1653.9h50.7v2.5h-50.7zM1714.9 1666.4h50.7v2.5h-50.7zM1714.9 1711.4h50.7v2.5h-50.7zM1714.9 1806.3h50.7v2.5h-50.7zM1714.9 1836.3h50.7v2.5h-50.7zM1714.9 1848.8h50.7v2.5h-50.7zM1714.9 1958.7h50.7v2.5h-50.7zM1714.9 1968.7h50.7v2.5h-50.7zM1714.9 2018.6h50.7v2.5h-50.7zM1714.9 2026.1h50.7v2.5h-50.7zM1714.9 2086.1h50.7v5h-50.7zM1714.9 2108.6h50.7v2.5h-50.7zM1714.9 2131.1h50.7v2.5h-50.7zM1714.9 2136.1h50.7v2.5h-50.7zM1714.9 2148.5h50.7v2.5h-50.7zM1714.9 2156h50.7v2.5h-50.7zM1714.9 2203.5h50.7v2.5h-50.7zM1714.9 2213.5h50.7v2.5h-50.7zM1714.9 2218.5h50.7v2.5h-50.7zM1714.9 2270.9h50.7v2.5h-50.7zM1714.9 2275.9h50.7v2.5h-50.7zM1714.9 2298.4h50.7v2.5h-50.7zM1714.9 2310.9h50.7v2.5h-50.7zM1765.5 1091.9h50.7v2.5h-50.7zM1765.5 1104.4h50.7v2.5h-50.7zM1765.5 1111.9h50.7v2.5h-50.7zM1765.5 1156.8h50.7v2.5h-50.7zM1765.5 1191.8h50.7v2.5h-50.7zM1765.5 1214.3h50.7v2.5h-50.7zM1765.5 1221.8h50.7v2.5h-50.7zM1765.5 1226.8h50.7v2.5h-50.7zM1765.5 1256.8h50.7v2.5h-50.7zM1765.5 1326.7h50.7v5h-50.7zM1765.5 1406.6h50.7v2.5h-50.7zM1765.5 1441.6h50.7v5h-50.7zM1765.5 1554h50.7v2.5h-50.7zM1765.5 1596.5h50.7v2.5h-50.7zM1765.5 1619h50.7v2.5h-50.7zM1765.5 1693.9h50.7v2.5h-50.7zM1765.5 1713.9h50.7v2.5h-50.7zM1765.5 1736.4h50.7v2.5h-50.7zM1765.5 1751.4h50.7v2.5h-50.7zM1765.5 1758.9h50.7v2.5h-50.7zM1765.5 1791.3h50.7v2.5h-50.7zM1765.5 1798.8h50.7v2.5h-50.7zM1765.5 1836.3h50.7v2.5h-50.7zM1765.5 1843.8h50.7v2.5h-50.7zM1765.5 1848.8h50.7v2.5h-50.7zM1765.5 1893.7h50.7v7.5h-50.7zM1765.5 1906.2h50.7v2.5h-50.7zM1765.5 1913.7h50.7v2.5h-50.7zM1765.5 1928.7h50.7v2.5h-50.7zM1765.5 1938.7h50.7v7.5h-50.7zM1765.5 1973.7h50.7v2.5h-50.7zM1765.5 1986.2h50.7v2.5h-50.7zM1765.5 1991.2h50.7v2.5h-50.7zM1765.5 2003.7h50.7v2.5h-50.7zM1765.5 2043.6h50.7v2.5h-50.7zM1765.5 2053.6h50.7v2.5h-50.7zM1765.5 2058.6h50.7v2.5h-50.7zM1765.5 2066.1h50.7v2.5h-50.7zM1765.5 2078.6h50.7v2.5h-50.7zM1765.5 2118.6h50.7v2.5h-50.7zM1765.5 2123.6h50.7v2.5h-50.7zM1765.5 2226h50.7v2.5h-50.7zM1765.5 2270.9h50.7v2.5h-50.7zM1765.5 2303.4h50.7v2.5h-50.7zM1765.5 2313.4h50.7v5h-50.7zM1765.5 2320.9h50.7v2.5h-50.7zM1816.2 1136.8h50.7v2.5h-50.7zM1816.2 1181.8h50.7v2.5h-50.7zM1816.2 1214.3h50.7v2.5h-50.7zM1816.2 1366.7h50.7v5h-50.7zM1816.2 1399.1h50.7v2.5h-50.7zM1816.2 1421.6h50.7v2.5h-50.7zM1816.2 1461.6h50.7v2.5h-50.7zM1816.2 1469.1h50.7v2.5h-50.7zM1816.2 1491.6h50.7v2.5h-50.7zM1816.2 1556.5h50.7v5h-50.7zM1816.2 1621.5h50.7v2.5h-50.7zM1816.2 1646.4h50.7v2.5h-50.7zM1816.2 1716.4h50.7v2.5h-50.7zM1816.2 1723.9h50.7v2.5h-50.7zM1816.2 1828.8h50.7v2.5h-50.7zM1816.2 1846.3h50.7v2.5h-50.7zM1816.2 1858.8h50.7v2.5h-50.7zM1816.2 1881.3h50.7v2.5h-50.7zM1816.2 1891.2h50.7v2.5h-50.7zM1816.2 1903.7h50.7v2.5h-50.7zM1816.2 1918.7h50.7v2.5h-50.7zM1816.2 1958.7h50.7v2.5h-50.7zM1816.2 2053.6h50.7v2.5h-50.7zM1816.2 2058.6h50.7v2.5h-50.7zM1816.2 2073.6h50.7v2.5h-50.7zM1816.2 2083.6h50.7v2.5h-50.7zM1816.2 2088.6h50.7v2.5h-50.7zM1816.2 2103.6h50.7v2.5h-50.7zM1816.2 2116.1h50.7v2.5h-50.7zM1816.2 2138.6h50.7v2.5h-50.7zM1816.2 2183.5h50.7v2.5h-50.7zM1816.2 2203.5h50.7v5h-50.7zM1816.2 2283.4h50.7v5h-50.7zM1816.2 2300.9h50.7v2.5h-50.7zM1816.2 2310.9h50.7v2.5h-50.7zM1866.9 1076.9h50.7v2.5h-50.7zM1866.9 1089.4h50.7v2.5h-50.7zM1866.9 1096.9h50.7v2.5h-50.7zM1866.9 1169.3h50.7v2.5h-50.7zM1866.9 1176.8h50.7v2.5h-50.7zM1866.9 1371.7h50.7v2.5h-50.7zM1866.9 1426.6h50.7v2.5h-50.7zM1866.9 1441.6h50.7v2.5h-50.7zM1866.9 1461.6h50.7v2.5h-50.7zM1866.9 1584h50.7v2.5h-50.7zM1866.9 1619h50.7v5h-50.7zM1866.9 1673.9h50.7v2.5h-50.7zM1866.9 1711.4h50.7v2.5h-50.7zM1866.9 1733.9h50.7v2.5h-50.7zM1866.9 1748.9h50.7v2.5h-50.7zM1866.9 1771.3h50.7v2.5h-50.7zM1866.9 1793.8h50.7v2.5h-50.7zM1866.9 1813.8h50.7v2.5h-50.7zM1866.9 1833.8h50.7v2.5h-50.7zM1866.9 1841.3h50.7v2.5h-50.7zM1866.9 1846.3h50.7v2.5h-50.7zM1866.9 1858.8h50.7v2.5h-50.7zM1866.9 1878.8h50.7v5h-50.7zM1866.9 1903.7h50.7v2.5h-50.7zM1866.9 1921.2h50.7v2.5h-50.7zM1866.9 1971.2h50.7v2.5h-50.7zM1866.9 1981.2h50.7v2.5h-50.7zM1866.9 1996.2h50.7v5h-50.7zM1866.9 2013.7h50.7v7.5h-50.7zM1866.9 2031.1h50.7v2.5h-50.7zM1866.9 2038.6h50.7v2.5h-50.7zM1866.9 2051.1h50.7v2.5h-50.7zM1866.9 2078.6h50.7v2.5h-50.7zM1866.9 2096.1h50.7v2.5h-50.7zM1866.9 2128.6h50.7v2.5h-50.7zM1866.9 2153.5h50.7v5h-50.7zM1866.9 2183.5h50.7v2.5h-50.7zM1866.9 2191h50.7v5h-50.7zM1866.9 2216h50.7v2.5h-50.7zM1917.6 1081.9h50.7v2.5h-50.7zM1917.6 1106.9h50.7v2.5h-50.7zM1917.6 1149.3h50.7v2.5h-50.7zM1917.6 1171.8h50.7v2.5h-50.7zM1917.6 1176.8h50.7v2.5h-50.7zM1917.6 1214.3h50.7v2.5h-50.7zM1917.6 1394.1h50.7v2.5h-50.7zM1917.6 1406.6h50.7v2.5h-50.7zM1917.6 1469.1h50.7v2.5h-50.7zM1917.6 1474.1h50.7v2.5h-50.7zM1917.6 1484.1h50.7v2.5h-50.7zM1917.6 1551.5h50.7v2.5h-50.7zM1917.6 1556.5h50.7v2.5h-50.7zM1917.6 1566.5h50.7v2.5h-50.7zM1917.6 1574h50.7v2.5h-50.7zM1917.6 1584h50.7v2.5h-50.7zM1917.6 1641.4h50.7v2.5h-50.7zM1917.6 1648.9h50.7v2.5h-50.7zM1917.6 1666.4h50.7v2.5h-50.7zM1917.6 1671.4h50.7v5h-50.7zM1917.6 1683.9h50.7v2.5h-50.7zM1917.6 1696.4h50.7v2.5h-50.7zM1917.6 1721.4h50.7v2.5h-50.7zM1917.6 1881.3h50.7v2.5h-50.7zM1917.6 1973.7h50.7v2.5h-50.7zM1917.6 1998.7h50.7v2.5h-50.7zM1917.6 2046.1h50.7v2.5h-50.7zM1917.6 2071.1h50.7v2.5h-50.7zM1917.6 2116.1h50.7v2.5h-50.7zM1917.6 2166h50.7v2.5h-50.7zM1917.6 2253.5h50.7v2.5h-50.7zM1917.6 2303.4h50.7v2.5h-50.7zM1968.3 1151.8h50.7v2.5h-50.7zM1968.3 1161.8h50.7v2.5h-50.7zM1968.3 1166.8h50.7v5h-50.7zM1968.3 1179.3h50.7v2.5h-50.7zM1968.3 1186.8h50.7v2.5h-50.7zM1968.3 1246.8h50.7v2.5h-50.7zM1968.3 1254.3h50.7v2.5h-50.7zM1968.3 1266.7h50.7v5h-50.7zM1968.3 1331.7h50.7v2.5h-50.7zM1968.3 1336.7h50.7v2.5h-50.7zM1968.3 1341.7h50.7v2.5h-50.7zM1968.3 1351.7h50.7v2.5h-50.7zM1968.3 1364.2h50.7v2.5h-50.7zM1968.3 1371.7h50.7v2.5h-50.7zM1968.3 1376.7h50.7v2.5h-50.7zM1968.3 1391.6h50.7v2.5h-50.7zM1968.3 1401.6h50.7v2.5h-50.7zM1968.3 1406.6h50.7v2.5h-50.7zM1968.3 1431.6h50.7v2.5h-50.7zM1968.3 1594h50.7v5h-50.7zM1968.3 1621.5h50.7v2.5h-50.7zM1968.3 1683.9h50.7v2.5h-50.7zM1968.3 1688.9h50.7v2.5h-50.7zM1968.3 1891.2h50.7v2.5h-50.7zM1968.3 2006.2h50.7v2.5h-50.7zM1968.3 2018.6h50.7v2.5h-50.7zM1968.3 2086.1h50.7v2.5h-50.7zM1968.3 2093.6h50.7v2.5h-50.7zM1968.3 2098.6h50.7v2.5h-50.7zM1968.3 2138.6h50.7v2.5h-50.7zM1968.3 2146h50.7v2.5h-50.7zM1968.3 2223.5h50.7v2.5h-50.7zM1968.3 2261h50.7v2.5h-50.7zM2019 1089.4h50.7v2.5h-50.7zM2019 1104.4h50.7v2.5h-50.7zM2019 1116.9h50.7v2.5h-50.7zM2019 1141.8h50.7v2.5h-50.7zM2019 1154.3h50.7v10h-50.7zM2019 1169.3h50.7v5h-50.7zM2019 1199.3h50.7v2.5h-50.7zM2019 1204.3h50.7v5h-50.7zM2019 1221.8h50.7v5h-50.7zM2019 1231.8h50.7v2.5h-50.7zM2019 1274.2h50.7v5h-50.7zM2019 1294.2h50.7v2.5h-50.7zM2019 1309.2h50.7v2.5h-50.7zM2019 1321.7h50.7v5h-50.7zM2019 1344.2h50.7v2.5h-50.7zM2019 1349.2h50.7v2.5h-50.7zM2019 1361.7h50.7v2.5h-50.7zM2019 1369.2h50.7v2.5h-50.7zM2019 1374.2h50.7v2.5h-50.7zM2019 1489.1h50.7v2.5h-50.7zM2019 1494.1h50.7v2.5h-50.7zM2019 1514h50.7v2.5h-50.7zM2019 1519h50.7v5h-50.7zM2019 1536.5h50.7v2.5h-50.7zM2019 1561.5h50.7v7.5h-50.7zM2019 1581.5h50.7v5h-50.7zM2019 1589h50.7v2.5h-50.7zM2019 1594h50.7v2.5h-50.7zM2019 1643.9h50.7v2.5h-50.7zM2019 1648.9h50.7v2.5h-50.7zM2019 1681.4h50.7v2.5h-50.7zM2019 1691.4h50.7v5h-50.7zM2019 1756.4h50.7v2.5h-50.7zM2019 1773.8h50.7v2.5h-50.7zM2019 2006.2h50.7v2.5h-50.7zM2019 2053.6h50.7v2.5h-50.7zM2019 2086.1h50.7v2.5h-50.7zM2019 2128.6h50.7v2.5h-50.7zM2069.6 1071.9h50.7v2.5h-50.7zM2069.6 1086.9h50.7v5h-50.7zM2069.6 1104.4h50.7v2.5h-50.7zM2069.6 1111.9h50.7v2.5h-50.7zM2069.6 1141.8h50.7v2.5h-50.7zM2069.6 1281.7h50.7v2.5h-50.7zM2069.6 1286.7h50.7v2.5h-50.7zM2069.6 1291.7h50.7v2.5h-50.7zM2069.6 1304.2h50.7v2.5h-50.7zM2069.6 1316.7h50.7v2.5h-50.7zM2069.6 1326.7h50.7v2.5h-50.7zM2069.6 1331.7h50.7v2.5h-50.7zM2069.6 1341.7h50.7v5h-50.7zM2069.6 1374.2h50.7v5h-50.7zM2069.6 1381.7h50.7v2.5h-50.7zM2069.6 1386.6h50.7v5h-50.7zM2069.6 1399.1h50.7v2.5h-50.7zM2069.6 1414.1h50.7v2.5h-50.7zM2069.6 1431.6h50.7v2.5h-50.7zM2069.6 1451.6h50.7v2.5h-50.7zM2069.6 1476.6h50.7v2.5h-50.7zM2069.6 1519h50.7v2.5h-50.7zM2069.6 1534h50.7v5h-50.7zM2069.6 1544h50.7v2.5h-50.7zM2069.6 1554h50.7v2.5h-50.7zM2069.6 1561.5h50.7v2.5h-50.7zM2069.6 1566.5h50.7v5h-50.7zM2069.6 1574h50.7v2.5h-50.7zM2069.6 1579h50.7v2.5h-50.7zM2069.6 1594h50.7v5h-50.7zM2069.6 1621.5h50.7v2.5h-50.7zM2069.6 1631.5h50.7v2.5h-50.7zM2069.6 1771.3h50.7v2.5h-50.7zM2069.6 1938.7h50.7v2.5h-50.7zM2069.6 2086.1h50.7v2.5h-50.7zM2069.6 2138.6h50.7v2.5h-50.7zM2069.6 2163.5h50.7v2.5h-50.7zM2069.6 2178.5h50.7v2.5h-50.7zM2069.6 2231h50.7v2.5h-50.7zM2069.6 2270.9h50.7v2.5h-50.7zM2069.6 2303.4h50.7v2.5h-50.7zM2120.3 1081.9h50.7v2.5h-50.7zM2120.3 1111.9h50.7v5h-50.7zM2120.3 1146.8h50.7v2.5h-50.7zM2120.3 1169.3h50.7v2.5h-50.7zM2120.3 1179.3h50.7v2.5h-50.7zM2120.3 1194.3h50.7v2.5h-50.7zM2120.3 1206.8h50.7v2.5h-50.7zM2120.3 1214.3h50.7v5h-50.7zM2120.3 1226.8h50.7v2.5h-50.7zM2120.3 1301.7h50.7v2.5h-50.7zM2120.3 1314.2h50.7v2.5h-50.7zM2120.3 1339.2h50.7v2.5h-50.7zM2120.3 1356.7h50.7v2.5h-50.7zM2120.3 1426.6h50.7v2.5h-50.7zM2120.3 1434.1h50.7v2.5h-50.7zM2120.3 1454.1h50.7v5h-50.7zM2120.3 1469.1h50.7v2.5h-50.7zM2120.3 1474.1h50.7v2.5h-50.7zM2120.3 1574h50.7v5h-50.7zM2120.3 1581.5h50.7v2.5h-50.7zM2120.3 1716.4h50.7v2.5h-50.7zM2120.3 1743.9h50.7v2.5h-50.7zM2120.3 1941.2h50.7v2.5h-50.7zM2120.3 2028.6h50.7v2.5h-50.7zM2120.3 2063.6h50.7v2.5h-50.7zM2120.3 2136.1h50.7v2.5h-50.7zM2120.3 2178.5h50.7v2.5h-50.7zM2120.3 2211h50.7v2.5h-50.7zM2120.3 2253.5h50.7v2.5h-50.7zM2120.3 2283.4h50.7v2.5h-50.7zM2171 1201.8h50.7v2.5h-50.7zM2171 1221.8h50.7v5h-50.7zM2171 1231.8h50.7v5h-50.7zM2171 1241.8h50.7v5h-50.7zM2171 1286.7h50.7v2.5h-50.7zM2171 1291.7h50.7v2.5h-50.7zM2171 1306.7h50.7v2.5h-50.7zM2171 1316.7h50.7v2.5h-50.7zM2171 1359.2h50.7v2.5h-50.7zM2171 1366.7h50.7v2.5h-50.7zM2171 1376.7h50.7v5h-50.7zM2171 1384.2h50.7v2.5h-50.7zM2171 1429.1h50.7v2.5h-50.7zM2171 1444.1h50.7v2.5h-50.7zM2171 1464.1h50.7v2.5h-50.7zM2171 1469.1h50.7v2.5h-50.7zM2171 1539h50.7v2.5h-50.7zM2171 1584h50.7v2.5h-50.7zM2171 1614h50.7v2.5h-50.7zM2171 1621.5h50.7v2.5h-50.7zM2171 1661.4h50.7v5h-50.7zM2171 1671.4h50.7v2.5h-50.7zM2171 1753.9h50.7v2.5h-50.7zM2171 1926.2h50.7v2.5h-50.7zM2171 1938.7h50.7v2.5h-50.7zM2171 1943.7h50.7v2.5h-50.7zM2171 2006.2h50.7v2.5h-50.7zM2171 2086.1h50.7v2.5h-50.7zM2171 2128.6h50.7v2.5h-50.7zM2171 2138.6h50.7v5h-50.7zM2171 2181h50.7v2.5h-50.7zM2171 2226h50.7v2.5h-50.7zM2171 2246h50.7v2.5h-50.7zM2171 2263.5h50.7v2.5h-50.7zM2171 2303.4h50.7v2.5h-50.7zM2171 2310.9h50.7v2.5h-50.7z"/>
<path fill="#f3f7d0" d="M1613.5 1096.9h50.7v2.5h-50.7zM1613.5 1126.9h50.7v2.5h-50.7zM1613.5 1156.8h50.7v2.5h-50.7zM1613.5 1161.8h50.7v2.5h-50.7zM1613.5 1176.8h50.7v2.5h-50.7zM1613.5 1226.8h50.7v5h-50.7zM1613.5 1291.7h50.7v2.5h-50.7zM1613.5 1299.2h50.7v2.5h-50.7zM1613.5 1344.2h50.7v2.5h-50.7zM1613.5 1351.7h50.7v2.5h-50.7zM1613.5 1359.2h50.7v2.5h-50.7zM1613.5 1369.2h50.7v2.5h-50.7zM1613.5 1376.7h50.7v2.5h-50.7zM1613.5 1386.6h50.7v2.5h-50.7zM1613.5 1431.6h50.7v5h-50.7zM1613.5 1439.1h50.7v2.5h-50.7zM1613.5 1449.1h50.7v2.5h-50.7zM1613.5 1456.6h50.7v2.5h-50.7zM1613.5 1494.1h50.7v2.5h-50.7zM1613.5 1516.5h50.7v2.5h-50.7zM1613.5 1521.5h50.7v2.5h-50.7zM1613.5 1529h50.7v2.5h-50.7zM1613.5 1564h50.7v2.5h-50.7zM1613.5 1594h50.7v2.5h-50.7zM1613.5 1614h50.7v5h-50.7zM1613.5 1641.4h50.7v2.5h-50.7zM1613.5 1646.4h50.7v2.5h-50.7zM1613.5 1651.4h50.7v2.5h-50.7zM1613.5 1666.4h50.7v5h-50.7zM1613.5 1673.9h50.7v2.5h-50.7zM1613.5 1713.9h50.7v2.5h-50.7zM1613.5 1731.4h50.7v5h-50.7zM1613.5 1738.9h50.7v2.5h-50.7zM1613.5 1746.4h50.7v2.5h-50.7zM1613.5 2026.1h50.7v2.5h-50.7zM1613.5 2033.6h50.7v2.5h-50.7zM1613.5 2056.1h50.7v2.5h-50.7zM1613.5 2086.1h50.7v5h-50.7zM1613.5 2101.1h50.7v2.5h-50.7zM1613.5 2108.6h50.7v5h-50.7zM1613.5 2136.1h50.7v2.5h-50.7zM1613.5 2141.1h50.7v5h-50.7zM1613.5 2173.5h50.7v2.5h-50.7zM1613.5 2181h50.7v2.5h-50.7zM1613.5 2196h50.7v2.5h-50.7zM1613.5 2223.5h50.7v7.5h-50.7zM1613.5 2238.5h50.7v2.5h-50.7zM1613.5 2256h50.7v5h-50.7zM1613.5 2270.9h50.7v5h-50.7zM1613.5 2278.4h50.7v2.5h-50.7zM1613.5 2305.9h50.7v2.5h-50.7zM1613.5 2315.9h50.7v12.5h-50.7zM1664.2 1091.9h50.7v5h-50.7zM1664.2 1099.4h50.7v2.5h-50.7zM1664.2 1126.9h50.7v2.5h-50.7zM1664.2 1136.8h50.7v2.5h-50.7zM1664.2 1141.8h50.7v2.5h-50.7zM1664.2 1159.3h50.7v2.5h-50.7zM1664.2 1174.3h50.7v2.5h-50.7zM1664.2 1184.3h50.7v5h-50.7zM1664.2 1194.3h50.7v2.5h-50.7zM1664.2 1199.3h50.7v5h-50.7zM1664.2 1261.7h50.7v2.5h-50.7zM1664.2 1269.2h50.7v2.5h-50.7zM1664.2 1294.2h50.7v5h-50.7zM1664.2 1346.7h50.7v2.5h-50.7zM1664.2 1351.7h50.7v2.5h-50.7zM1664.2 1359.2h50.7v2.5h-50.7zM1664.2 1376.7h50.7v5h-50.7zM1664.2 1389.1h50.7v2.5h-50.7zM1664.2 1416.6h50.7v5h-50.7zM1664.2 1439.1h50.7v2.5h-50.7zM1664.2 1444.1h50.7v2.5h-50.7zM1664.2 1464.1h50.7v2.5h-50.7zM1664.2 1469.1h50.7v2.5h-50.7zM1664.2 1504.1h50.7v2.5h-50.7zM1664.2 1511.6h50.7v2.5h-50.7zM1664.2 1524h50.7v2.5h-50.7zM1664.2 1534h50.7v2.5h-50.7zM1664.2 1554h50.7v2.5h-50.7zM1664.2 1584h50.7v2.5h-50.7zM1664.2 1594h50.7v2.5h-50.7zM1664.2 1609h50.7v2.5h-50.7zM1664.2 1621.5h50.7v2.5h-50.7zM1664.2 1638.9h50.7v2.5h-50.7zM1664.2 1643.9h50.7v2.5h-50.7zM1664.2 1651.4h50.7v2.5h-50.7zM1664.2 1668.9h50.7v2.5h-50.7zM1664.2 1706.4h50.7v2.5h-50.7zM1664.2 1718.9h50.7v2.5h-50.7zM1664.2 1723.9h50.7v2.5h-50.7zM1664.2 1733.9h50.7v2.5h-50.7zM1664.2 1743.9h50.7v2.5h-50.7zM1664.2 1758.9h50.7v5h-50.7zM1664.2 1766.3h50.7v5h-50.7zM1664.2 1773.8h50.7v2.5h-50.7zM1664.2 1778.8h50.7v5h-50.7zM1664.2 1793.8h50.7v2.5h-50.7zM1664.2 1816.3h50.7v2.5h-50.7zM1664.2 1833.8h50.7v2.5h-50.7zM1664.2 1838.8h50.7v2.5h-50.7zM1664.2 1843.8h50.7v2.5h-50.7zM1664.2 1863.8h50.7v2.5h-50.7zM1664.2 1873.8h50.7v2.5h-50.7zM1664.2 1891.2h50.7v2.5h-50.7zM1664.2 1931.2h50.7v2.5h-50.7zM1664.2 1941.2h50.7v5h-50.7zM1664.2 1958.7h50.7v2.5h-50.7zM1664.2 1966.2h50.7v2.5h-50.7zM1664.2 1981.2h50.7v2.5h-50.7zM1664.2 2161h50.7v2.5h-50.7zM1664.2 2181h50.7v2.5h-50.7zM1664.2 2186h50.7v2.5h-50.7zM1664.2 2228.5h50.7v2.5h-50.7zM1664.2 2298.4h50.7v5h-50.7zM1664.2 2305.9h50.7v2.5h-50.7zM1714.9 1086.9h50.7v2.5h-50.7zM1714.9 1096.9h50.7v2.5h-50.7zM1714.9 1104.4h50.7v2.5h-50.7zM1714.9 1199.3h50.7v2.5h-50.7zM1714.9 1229.3h50.7v2.5h-50.7zM1714.9 1296.7h50.7v2.5h-50.7zM1714.9 1301.7h50.7v2.5h-50.7zM1714.9 1316.7h50.7v2.5h-50.7zM1714.9 1329.2h50.7v2.5h-50.7zM1714.9 1366.7h50.7v2.5h-50.7zM1714.9 1374.2h50.7v5h-50.7zM1714.9 1386.6h50.7v2.5h-50.7zM1714.9 1391.6h50.7v5h-50.7zM1714.9 1401.6h50.7v2.5h-50.7zM1714.9 1411.6h50.7v2.5h-50.7zM1714.9 1421.6h50.7v2.5h-50.7zM1714.9 1431.6h50.7v2.5h-50.7zM1714.9 1444.1h50.7v2.5h-50.7zM1714.9 1514h50.7v2.5h-50.7zM1714.9 1521.5h50.7v2.5h-50.7zM1714.9 1534h50.7v2.5h-50.7zM1714.9 1554h50.7v2.5h-50.7zM1714.9 1561.5h50.7v2.5h-50.7zM1714.9 1586.5h50.7v2.5h-50.7zM1714.9 1604h50.7v2.5h-50.7zM1714.9 1631.5h50.7v2.5h-50.7zM1714.9 1673.9h50.7v2.5h-50.7zM1714.9 1681.4h50.7v2.5h-50.7zM1714.9 1691.4h50.7v2.5h-50.7zM1714.9 1698.9h50.7v2.5h-50.7zM1714.9 1791.3h50.7v2.5h-50.7zM1714.9 1803.8h50.7v2.5h-50.7zM1714.9 1821.3h50.7v2.5h-50.7zM1714.9 1826.3h50.7v2.5h-50.7zM1714.9 1838.8h50.7v2.5h-50.7zM1714.9 1846.3h50.7v2.5h-50.7zM1714.9 1886.3h50.7v2.5h-50.7zM1714.9 1938.7h50.7v2.5h-50.7zM1714.9 1943.7h50.7v5h-50.7zM1714.9 1951.2h50.7v2.5h-50.7zM1714.9 1956.2h50.7v2.5h-50.7zM1714.9 1961.2h50.7v7.5h-50.7zM1714.9 1991.2h50.7v2.5h-50.7zM1714.9 1998.7h50.7v7.5h-50.7zM1714.9 2011.2h50.7v2.5h-50.7zM1714.9 2093.6h50.7v2.5h-50.7zM1714.9 2116.1h50.7v5h-50.7zM1714.9 2126.1h50.7v5h-50.7zM1714.9 2138.6h50.7v2.5h-50.7zM1714.9 2143.6h50.7v5h-50.7zM1714.9 2151h50.7v2.5h-50.7zM1714.9 2176h50.7v2.5h-50.7zM1714.9 2181h50.7v5h-50.7zM1714.9 2188.5h50.7v5h-50.7zM1714.9 2211h50.7v2.5h-50.7zM1714.9 2263.5h50.7v2.5h-50.7zM1714.9 2273.4h50.7v2.5h-50.7zM1714.9 2280.9h50.7v5h-50.7zM1714.9 2288.4h50.7v5h-50.7zM1714.9 2300.9h50.7v2.5h-50.7zM1714.9 2308.4h50.7v2.5h-50.7zM1714.9 2318.4h50.7v2.5h-50.7zM1765.5 1084.4h50.7v2.5h-50.7zM1765.5 1114.4h50.7v2.5h-50.7zM1765.5 1169.3h50.7v2.5h-50.7zM1765.5 1174.3h50.7v2.5h-50.7zM1765.5 1194.3h50.7v2.5h-50.7zM1765.5 1201.8h50.7v2.5h-50.7zM1765.5 1224.3h50.7v2.5h-50.7zM1765.5 1279.2h50.7v7.5h-50.7zM1765.5 1294.2h50.7v2.5h-50.7zM1765.5 1301.7h50.7v2.5h-50.7zM1765.5 1319.2h50.7v2.5h-50.7zM1765.5 1366.7h50.7v2.5h-50.7zM1765.5 1394.1h50.7v2.5h-50.7zM1765.5 1401.6h50.7v2.5h-50.7zM1765.5 1414.1h50.7v2.5h-50.7zM1765.5 1439.1h50.7v2.5h-50.7zM1765.5 1456.6h50.7v2.5h-50.7zM1765.5 1464.1h50.7v2.5h-50.7zM1765.5 1501.6h50.7v5h-50.7zM1765.5 1539h50.7v2.5h-50.7zM1765.5 1609h50.7v2.5h-50.7zM1765.5 1614h50.7v2.5h-50.7zM1765.5 1626.5h50.7v2.5h-50.7zM1765.5 1671.4h50.7v2.5h-50.7zM1765.5 1676.4h50.7v2.5h-50.7zM1765.5 1698.9h50.7v2.5h-50.7zM1765.5 1708.9h50.7v5h-50.7zM1765.5 1733.9h50.7v2.5h-50.7zM1765.5 1746.4h50.7v2.5h-50.7zM1765.5 1756.4h50.7v2.5h-50.7zM1765.5 1783.8h50.7v2.5h-50.7zM1765.5 1788.8h50.7v2.5h-50.7zM1765.5 1808.8h50.7v2.5h-50.7zM1765.5 1818.8h50.7v2.5h-50.7zM1765.5 1823.8h50.7v2.5h-50.7zM1765.5 1828.8h50.7v2.5h-50.7zM1765.5 1838.8h50.7v2.5h-50.7zM1765.5 1853.8h50.7v5h-50.7zM1765.5 1863.8h50.7v5h-50.7zM1765.5 1891.2h50.7v2.5h-50.7zM1765.5 1911.2h50.7v2.5h-50.7zM1765.5 1916.2h50.7v2.5h-50.7zM1765.5 1921.2h50.7v2.5h-50.7zM1765.5 1926.2h50.7v2.5h-50.7zM1765.5 1946.2h50.7v2.5h-50.7zM1765.5 1988.7h50.7v2.5h-50.7zM1765.5 1993.7h50.7v5h-50.7zM1765.5 2006.2h50.7v7.5h-50.7zM1765.5 2028.6h50.7v2.5h-50.7zM1765.5 2036.1h50.7v5h-50.7zM1765.5 2061.1h50.7v5h-50.7zM1765.5 2073.6h50.7v2.5h-50.7zM1765.5 2086.1h50.7v2.5h-50.7zM1765.5 2093.6h50.7v2.5h-50.7zM1765.5 2106.1h50.7v5h-50.7zM1765.5 2116.1h50.7v2.5h-50.7zM1765.5 2121.1h50.7v2.5h-50.7zM1765.5 2151h50.7v2.5h-50.7zM1765.5 2156h50.7v2.5h-50.7zM1765.5 2233.5h50.7v2.5h-50.7zM1765.5 2263.5h50.7v2.5h-50.7zM1765.5 2273.4h50.7v5h-50.7zM1765.5 2285.9h50.7v2.5h-50.7zM1765.5 2293.4h50.7v2.5h-50.7zM1765.5 2300.9h50.7v2.5h-50.7zM1765.5 2318.4h50.7v2.5h-50.7zM1765.5 2328.4h50.7v5h-50.7zM1816.2 1081.9h50.7v2.5h-50.7zM1816.2 1096.9h50.7v2.5h-50.7zM1816.2 1109.4h50.7v2.5h-50.7zM1816.2 1159.3h50.7v2.5h-50.7zM1816.2 1166.8h50.7v2.5h-50.7zM1816.2 1176.8h50.7v2.5h-50.7zM1816.2 1184.3h50.7v2.5h-50.7zM1816.2 1194.3h50.7v2.5h-50.7zM1816.2 1204.3h50.7v2.5h-50.7zM1816.2 1216.8h50.7v2.5h-50.7zM1816.2 1246.8h50.7v2.5h-50.7zM1816.2 1254.3h50.7v2.5h-50.7zM1816.2 1371.7h50.7v5h-50.7zM1816.2 1384.2h50.7v5h-50.7zM1816.2 1406.6h50.7v2.5h-50.7zM1816.2 1419.1h50.7v2.5h-50.7zM1816.2 1426.6h50.7v5h-50.7zM1816.2 1471.6h50.7v2.5h-50.7zM1816.2 1514h50.7v2.5h-50.7zM1816.2 1529h50.7v2.5h-50.7zM1816.2 1534h50.7v2.5h-50.7zM1816.2 1539h50.7v2.5h-50.7zM1816.2 1574h50.7v2.5h-50.7zM1816.2 1631.5h50.7v2.5h-50.7zM1816.2 1643.9h50.7v2.5h-50.7zM1816.2 1683.9h50.7v2.5h-50.7zM1816.2 1706.4h50.7v2.5h-50.7zM1816.2 1731.4h50.7v2.5h-50.7zM1816.2 1736.4h50.7v2.5h-50.7zM1816.2 1751.4h50.7v2.5h-50.7zM1816.2 1756.4h50.7v2.5h-50.7zM1816.2 1826.3h50.7v2.5h-50.7zM1816.2 1831.3h50.7v2.5h-50.7zM1816.2 1843.8h50.7v2.5h-50.7zM1816.2 1851.3h50.7v2.5h-50.7zM1816.2 1883.8h50.7v2.5h-50.7zM1816.2 1893.7h50.7v7.5h-50.7zM1816.2 1906.2h50.7v5h-50.7zM1816.2 1913.7h50.7v2.5h-50.7zM1816.2 1921.2h50.7v5h-50.7zM1816.2 1938.7h50.7v15h-50.7zM1816.2 1956.2h50.7v2.5h-50.7zM1816.2 2036.1h50.7v2.5h-50.7zM1816.2 2041.1h50.7v2.5h-50.7zM1816.2 2101.1h50.7v2.5h-50.7zM1816.2 2108.6h50.7v7.5h-50.7zM1816.2 2121.1h50.7v2.5h-50.7zM1816.2 2126.1h50.7v2.5h-50.7zM1816.2 2131.1h50.7v2.5h-50.7zM1816.2 2136.1h50.7v2.5h-50.7zM1816.2 2141.1h50.7v2.5h-50.7zM1816.2 2151h50.7v2.5h-50.7zM1816.2 2156h50.7v7.5h-50.7zM1816.2 2168.5h50.7v2.5h-50.7zM1816.2 2176h50.7v7.5h-50.7zM1816.2 2186h50.7v2.5h-50.7zM1816.2 2196h50.7v2.5h-50.7zM1816.2 2201h50.7v2.5h-50.7zM1816.2 2213.5h50.7v2.5h-50.7zM1816.2 2223.5h50.7v2.5h-50.7zM1816.2 2290.9h50.7v2.5h-50.7zM1816.2 2295.9h50.7v2.5h-50.7zM1816.2 2305.9h50.7v2.5h-50.7zM1816.2 2320.9h50.7v2.5h-50.7zM1866.9 1079.4h50.7v5h-50.7zM1866.9 1106.9h50.7v2.5h-50.7zM1866.9 1116.9h50.7v5h-50.7zM1866.9 1136.8h50.7v2.5h-50.7zM1866.9 1156.8h50.7v2.5h-50.7zM1866.9 1164.3h50.7v2.5h-50.7zM1866.9 1171.8h50.7v2.5h-50.7zM1866.9 1199.3h50.7v2.5h-50.7zM1866.9 1229.3h50.7v2.5h-50.7zM1866.9 1241.8h50.7v2.5h-50.7zM1866.9 1256.8h50.7v2.5h-50.7zM1866.9 1274.2h50.7v2.5h-50.7zM1866.9 1281.7h50.7v7.5h-50.7zM1866.9 1339.2h50.7v2.5h-50.7zM1866.9 1359.2h50.7v2.5h-50.7zM1866.9 1366.7h50.7v2.5h-50.7zM1866.9 1376.7h50.7v2.5h-50.7zM1866.9 1386.6h50.7v2.5h-50.7zM1866.9 1399.1h50.7v2.5h-50.7zM1866.9 1414.1h50.7v2.5h-50.7zM1866.9 1421.6h50.7v2.5h-50.7zM1866.9 1431.6h50.7v5h-50.7zM1866.9 1456.6h50.7v2.5h-50.7zM1866.9 1474.1h50.7v2.5h-50.7zM1866.9 1481.6h50.7v2.5h-50.7zM1866.9 1514h50.7v2.5h-50.7zM1866.9 1524h50.7v2.5h-50.7zM1866.9 1534h50.7v2.5h-50.7zM1866.9 1541.5h50.7v2.5h-50.7zM1866.9 1556.5h50.7v2.5h-50.7zM1866.9 1571.5h50.7v2.5h-50.7zM1866.9 1581.5h50.7v2.5h-50.7zM1866.9 1634h50.7v2.5h-50.7zM1866.9 1641.4h50.7v2.5h-50.7zM1866.9 1653.9h50.7v2.5h-50.7zM1866.9 1676.4h50.7v2.5h-50.7zM1866.9 1716.4h50.7v2.5h-50.7zM1866.9 1721.4h50.7v2.5h-50.7zM1866.9 1728.9h50.7v2.5h-50.7zM1866.9 1751.4h50.7v7.5h-50.7zM1866.9 1773.8h50.7v2.5h-50.7zM1866.9 1788.8h50.7v5h-50.7zM1866.9 1818.8h50.7v5h-50.7zM1866.9 1828.8h50.7v2.5h-50.7zM1866.9 1836.3h50.7v5h-50.7zM1866.9 1876.3h50.7v2.5h-50.7zM1866.9 1891.2h50.7v2.5h-50.7zM1866.9 1901.2h50.7v2.5h-50.7zM1866.9 1908.7h50.7v2.5h-50.7zM1866.9 1978.7h50.7v2.5h-50.7zM1866.9 1988.7h50.7v2.5h-50.7zM1866.9 1993.7h50.7v2.5h-50.7zM1866.9 2003.7h50.7v2.5h-50.7zM1866.9 2028.6h50.7v2.5h-50.7zM1866.9 2041.1h50.7v2.5h-50.7zM1866.9 2048.6h50.7v2.5h-50.7zM1866.9 2073.6h50.7v2.5h-50.7zM1866.9 2093.6h50.7v2.5h-50.7zM1866.9 2098.6h50.7v2.5h-50.7zM1866.9 2106.1h50.7v2.5h-50.7zM1866.9 2121.1h50.7v2.5h-50.7zM1866.9 2133.6h50.7v5h-50.7zM1866.9 2151h50.7v2.5h-50.7zM1866.9 2166h50.7v2.5h-50.7zM1866.9 2176h50.7v7.5h-50.7zM1866.9 2188.5h50.7v2.5h-50.7zM1866.9 2196h50.7v2.5h-50.7zM1866.9 2206h50.7v5h-50.7zM1866.9 2213.5h50.7v2.5h-50.7zM1866.9 2218.5h50.7v2.5h-50.7zM1917.6 1069.4h50.7v5h-50.7zM1917.6 1076.9h50.7v2.5h-50.7zM1917.6 1094.4h50.7v7.5h-50.7zM1917.6 1111.9h50.7v5h-50.7zM1917.6 1121.9h50.7v2.5h-50.7zM1917.6 1126.9h50.7v2.5h-50.7zM1917.6 1134.3h50.7v2.5h-50.7zM1917.6 1159.3h50.7v2.5h-50.7zM1917.6 1184.3h50.7v15h-50.7zM1917.6 1206.8h50.7v2.5h-50.7zM1917.6 1216.8h50.7v2.5h-50.7zM1917.6 1396.6h50.7v2.5h-50.7zM1917.6 1456.6h50.7v2.5h-50.7zM1917.6 1464.1h50.7v2.5h-50.7zM1917.6 1471.6h50.7v2.5h-50.7zM1917.6 1501.6h50.7v2.5h-50.7zM1917.6 1534h50.7v2.5h-50.7zM1917.6 1539h50.7v2.5h-50.7zM1917.6 1544h50.7v5h-50.7zM1917.6 1564h50.7v2.5h-50.7zM1917.6 1571.5h50.7v2.5h-50.7zM1917.6 1619h50.7v2.5h-50.7zM1917.6 1624h50.7v2.5h-50.7zM1917.6 1643.9h50.7v2.5h-50.7zM1917.6 1653.9h50.7v7.5h-50.7zM1917.6 1663.9h50.7v2.5h-50.7zM1917.6 1678.9h50.7v2.5h-50.7zM1917.6 1691.4h50.7v5h-50.7zM1917.6 1708.9h50.7v2.5h-50.7zM1917.6 1726.4h50.7v2.5h-50.7zM1917.6 1753.9h50.7v2.5h-50.7zM1917.6 1758.9h50.7v2.5h-50.7zM1917.6 1768.8h50.7v7.5h-50.7zM1917.6 1793.8h50.7v2.5h-50.7zM1917.6 1806.3h50.7v2.5h-50.7zM1917.6 1863.8h50.7v5h-50.7zM1917.6 1886.3h50.7v2.5h-50.7zM1917.6 1898.7h50.7v2.5h-50.7zM1917.6 1938.7h50.7v2.5h-50.7zM1917.6 1956.2h50.7v5h-50.7zM1917.6 1983.7h50.7v2.5h-50.7zM1917.6 1996.2h50.7v2.5h-50.7zM1917.6 2031.1h50.7v2.5h-50.7zM1917.6 2048.6h50.7v2.5h-50.7zM1917.6 2101.1h50.7v7.5h-50.7zM1917.6 2113.6h50.7v2.5h-50.7zM1917.6 2123.6h50.7v2.5h-50.7zM1917.6 2128.6h50.7v5h-50.7zM1917.6 2148.5h50.7v2.5h-50.7zM1917.6 2176h50.7v2.5h-50.7zM1917.6 2183.5h50.7v2.5h-50.7zM1917.6 2201h50.7v2.5h-50.7zM1917.6 2233.5h50.7v2.5h-50.7zM1917.6 2248.5h50.7v2.5h-50.7zM1917.6 2295.9h50.7v2.5h-50.7zM1917.6 2305.9h50.7v2.5h-50.7zM1968.3 1089.4h50.7v2.5h-50.7zM1968.3 1096.9h50.7v2.5h-50.7zM1968.3 1119.4h50.7v2.5h-50.7zM1968.3 1149.3h50.7v2.5h-50.7zM1968.3 1156.8h50.7v5h-50.7zM1968.3 1174.3h50.7v2.5h-50.7zM1968.3 1194.3h50.7v2.5h-50.7zM1968.3 1229.3h50.7v2.5h-50.7zM1968.3 1236.8h50.7v5h-50.7zM1968.3 1261.7h50.7v2.5h-50.7zM1968.3 1326.7h50.7v2.5h-50.7zM1968.3 1334.2h50.7v2.5h-50.7zM1968.3 1346.7h50.7v2.5h-50.7zM1968.3 1366.7h50.7v2.5h-50.7zM1968.3 1374.2h50.7v2.5h-50.7zM1968.3 1381.7h50.7v5h-50.7zM1968.3 1389.1h50.7v2.5h-50.7zM1968.3 1426.6h50.7v2.5h-50.7zM1968.3 1446.6h50.7v5h-50.7zM1968.3 1619h50.7v2.5h-50.7zM1968.3 1631.5h50.7v5h-50.7zM1968.3 1643.9h50.7v2.5h-50.7zM1968.3 1648.9h50.7v2.5h-50.7zM1968.3 1656.4h50.7v5h-50.7zM1968.3 1686.4h50.7v2.5h-50.7zM1968.3 1693.9h50.7v2.5h-50.7zM1968.3 1733.9h50.7v2.5h-50.7zM1968.3 1776.3h50.7v2.5h-50.7zM1968.3 1803.8h50.7v2.5h-50.7zM1968.3 1823.8h50.7v2.5h-50.7zM1968.3 1831.3h50.7v2.5h-50.7zM1968.3 1841.3h50.7v2.5h-50.7zM1968.3 1853.8h50.7v2.5h-50.7zM1968.3 1878.8h50.7v5h-50.7zM1968.3 1898.7h50.7v2.5h-50.7zM1968.3 1978.7h50.7v2.5h-50.7zM1968.3 2016.2h50.7v2.5h-50.7zM1968.3 2066.1h50.7v2.5h-50.7zM1968.3 2088.6h50.7v2.5h-50.7zM1968.3 2116.1h50.7v2.5h-50.7zM1968.3 2131.1h50.7v2.5h-50.7zM1968.3 2148.5h50.7v2.5h-50.7zM1968.3 2161h50.7v2.5h-50.7zM1968.3 2166h50.7v2.5h-50.7zM1968.3 2181h50.7v2.5h-50.7zM1968.3 2193.5h50.7v2.5h-50.7zM1968.3 2221h50.7v2.5h-50.7zM1968.3 2226h50.7v2.5h-50.7zM1968.3 2243.5h50.7v2.5h-50.7zM1968.3 2268.5h50.7v2.5h-50.7zM1968.3 2300.9h50.7v5h-50.7zM1968.3 2310.9h50.7v2.5h-50.7zM2019 1091.9h50.7v2.5h-50.7zM2019 1126.9h50.7v5h-50.7zM2019 1164.3h50.7v2.5h-50.7zM2019 1176.8h50.7v5h-50.7zM2019 1201.8h50.7v2.5h-50.7zM2019 1214.3h50.7v2.5h-50.7zM2019 1254.3h50.7v5h-50.7zM2019 1261.7h50.7v2.5h-50.7zM2019 1296.7h50.7v2.5h-50.7zM2019 1326.7h50.7v2.5h-50.7zM2019 1341.7h50.7v2.5h-50.7zM2019 1356.7h50.7v2.5h-50.7zM2019 1364.2h50.7v2.5h-50.7zM2019 1371.7h50.7v2.5h-50.7zM2019 1501.6h50.7v5h-50.7zM2019 1511.6h50.7v2.5h-50.7zM2019 1516.5h50.7v2.5h-50.7zM2019 1524h50.7v2.5h-50.7zM2019 1541.5h50.7v5h-50.7zM2019 1559h50.7v2.5h-50.7zM2019 1571.5h50.7v2.5h-50.7zM2019 1599h50.7v7.5h-50.7zM2019 1611.5h50.7v2.5h-50.7zM2019 1661.4h50.7v5h-50.7zM2019 1671.4h50.7v2.5h-50.7zM2019 1678.9h50.7v2.5h-50.7zM2019 1683.9h50.7v2.5h-50.7zM2019 1688.9h50.7v2.5h-50.7zM2019 1696.4h50.7v2.5h-50.7zM2019 1703.9h50.7v2.5h-50.7zM2019 1711.4h50.7v2.5h-50.7zM2019 1733.9h50.7v2.5h-50.7zM2019 1743.9h50.7v2.5h-50.7zM2019 1771.3h50.7v2.5h-50.7zM2019 1781.3h50.7v2.5h-50.7zM2019 1788.8h50.7v5h-50.7zM2019 1816.3h50.7v2.5h-50.7zM2019 1846.3h50.7v5h-50.7zM2019 1853.8h50.7v2.5h-50.7zM2019 1861.3h50.7v2.5h-50.7zM2019 1896.2h50.7v2.5h-50.7zM2019 1906.2h50.7v2.5h-50.7zM2019 1913.7h50.7v5h-50.7zM2019 1943.7h50.7v2.5h-50.7zM2019 1961.2h50.7v2.5h-50.7zM2019 1973.7h50.7v2.5h-50.7zM2019 2003.7h50.7v2.5h-50.7zM2019 2036.1h50.7v2.5h-50.7zM2019 2041.1h50.7v2.5h-50.7zM2019 2098.6h50.7v2.5h-50.7zM2019 2103.6h50.7v2.5h-50.7zM2019 2108.6h50.7v7.5h-50.7zM2019 2121.1h50.7v2.5h-50.7zM2019 2166h50.7v2.5h-50.7zM2019 2171h50.7v2.5h-50.7zM2019 2176h50.7v2.5h-50.7zM2019 2181h50.7v2.5h-50.7zM2019 2188.5h50.7v2.5h-50.7zM2019 2238.5h50.7v5h-50.7zM2019 2253.5h50.7v2.5h-50.7zM2019 2266h50.7v2.5h-50.7zM2019 2288.4h50.7v5h-50.7zM2019 2295.9h50.7v2.5h-50.7zM2019 2308.4h50.7v5h-50.7zM2019 2323.4h50.7v2.5h-50.7zM2069.6 1076.9h50.7v5h-50.7zM2069.6 1091.9h50.7v2.5h-50.7zM2069.6 1096.9h50.7v5h-50.7zM2069.6 1109.4h50.7v2.5h-50.7zM2069.6 1144.3h50.7v2.5h-50.7zM2069.6 1236.8h50.7v5h-50.7zM2069.6 1256.8h50.7v2.5h-50.7zM2069.6 1299.2h50.7v2.5h-50.7zM2069.6 1309.2h50.7v5h-50.7zM2069.6 1339.2h50.7v2.5h-50.7zM2069.6 1354.2h50.7v2.5h-50.7zM2069.6 1359.2h50.7v5h-50.7zM2069.6 1371.7h50.7v2.5h-50.7zM2069.6 1384.2h50.7v2.5h-50.7zM2069.6 1394.1h50.7v2.5h-50.7zM2069.6 1406.6h50.7v2.5h-50.7zM2069.6 1426.6h50.7v5h-50.7zM2069.6 1434.1h50.7v2.5h-50.7zM2069.6 1449.1h50.7v2.5h-50.7zM2069.6 1471.6h50.7v2.5h-50.7zM2069.6 1479.1h50.7v2.5h-50.7zM2069.6 1524h50.7v2.5h-50.7zM2069.6 1564h50.7v2.5h-50.7zM2069.6 1576.5h50.7v2.5h-50.7zM2069.6 1584h50.7v5h-50.7zM2069.6 1609h50.7v2.5h-50.7zM2069.6 1619h50.7v2.5h-50.7zM2069.6 1634h50.7v5h-50.7zM2069.6 1641.4h50.7v2.5h-50.7zM2069.6 1658.9h50.7v5h-50.7zM2069.6 1668.9h50.7v2.5h-50.7zM2069.6 1688.9h50.7v2.5h-50.7zM2069.6 1713.9h50.7v2.5h-50.7zM2069.6 1788.8h50.7v2.5h-50.7zM2069.6 1793.8h50.7v2.5h-50.7zM2069.6 1841.3h50.7v2.5h-50.7zM2069.6 1861.3h50.7v2.5h-50.7zM2069.6 1868.8h50.7v2.5h-50.7zM2069.6 1878.8h50.7v2.5h-50.7zM2069.6 1883.8h50.7v2.5h-50.7zM2069.6 1933.7h50.7v5h-50.7zM2069.6 1991.2h50.7v2.5h-50.7zM2069.6 2001.2h50.7v5h-50.7zM2069.6 2071.1h50.7v2.5h-50.7zM2069.6 2078.6h50.7v2.5h-50.7zM2069.6 2098.6h50.7v2.5h-50.7zM2069.6 2106.1h50.7v7.5h-50.7zM2069.6 2173.5h50.7v5h-50.7zM2069.6 2191h50.7v2.5h-50.7zM2069.6 2248.5h50.7v2.5h-50.7zM2069.6 2266h50.7v5h-50.7zM2069.6 2280.9h50.7v2.5h-50.7zM2069.6 2305.9h50.7v7.5h-50.7zM2069.6 2320.9h50.7v2.5h-50.7zM2069.6 2330.9h50.7v2.5h-50.7zM2120.3 1119.4h50.7v2.5h-50.7zM2120.3 1149.3h50.7v7.5h-50.7zM2120.3 1159.3h50.7v5h-50.7zM2120.3 1171.8h50.7v2.5h-50.7zM2120.3 1181.8h50.7v2.5h-50.7zM2120.3 1186.8h50.7v2.5h-50.7zM2120.3 1196.8h50.7v2.5h-50.7zM2120.3 1259.2h50.7v2.5h-50.7zM2120.3 1279.2h50.7v2.5h-50.7zM2120.3 1286.7h50.7v2.5h-50.7zM2120.3 1294.2h50.7v2.5h-50.7zM2120.3 1324.2h50.7v7.5h-50.7zM2120.3 1334.2h50.7v2.5h-50.7zM2120.3 1349.2h50.7v2.5h-50.7zM2120.3 1364.2h50.7v2.5h-50.7zM2120.3 1369.2h50.7v2.5h-50.7zM2120.3 1374.2h50.7v2.5h-50.7zM2120.3 1379.2h50.7v2.5h-50.7zM2120.3 1401.6h50.7v2.5h-50.7zM2120.3 1421.6h50.7v2.5h-50.7zM2120.3 1429.1h50.7v2.5h-50.7zM2120.3 1441.6h50.7v2.5h-50.7zM2120.3 1446.6h50.7v2.5h-50.7zM2120.3 1461.6h50.7v2.5h-50.7zM2120.3 1481.6h50.7v2.5h-50.7zM2120.3 1489.1h50.7v2.5h-50.7zM2120.3 1494.1h50.7v5h-50.7zM2120.3 1501.6h50.7v2.5h-50.7zM2120.3 1514h50.7v2.5h-50.7zM2120.3 1519h50.7v2.5h-50.7zM2120.3 1551.5h50.7v5h-50.7zM2120.3 1584h50.7v2.5h-50.7zM2120.3 1733.9h50.7v2.5h-50.7zM2120.3 1758.9h50.7v2.5h-50.7zM2120.3 1768.8h50.7v2.5h-50.7zM2120.3 1776.3h50.7v2.5h-50.7zM2120.3 1786.3h50.7v5h-50.7zM2120.3 1808.8h50.7v2.5h-50.7zM2120.3 1836.3h50.7v2.5h-50.7zM2120.3 1848.8h50.7v2.5h-50.7zM2120.3 1853.8h50.7v2.5h-50.7zM2120.3 1863.8h50.7v2.5h-50.7zM2120.3 1886.3h50.7v2.5h-50.7zM2120.3 1891.2h50.7v7.5h-50.7zM2120.3 1921.2h50.7v2.5h-50.7zM2120.3 1933.7h50.7v2.5h-50.7zM2120.3 1938.7h50.7v2.5h-50.7zM2120.3 1951.2h50.7v2.5h-50.7zM2120.3 1966.2h50.7v2.5h-50.7zM2120.3 1976.2h50.7v2.5h-50.7zM2120.3 2001.2h50.7v2.5h-50.7zM2120.3 2006.2h50.7v5h-50.7zM2120.3 2013.7h50.7v2.5h-50.7zM2120.3 2031.1h50.7v5h-50.7zM2120.3 2088.6h50.7v5h-50.7zM2120.3 2103.6h50.7v2.5h-50.7zM2120.3 2108.6h50.7v2.5h-50.7zM2120.3 2163.5h50.7v2.5h-50.7zM2120.3 2228.5h50.7v5h-50.7zM2120.3 2270.9h50.7v2.5h-50.7zM2120.3 2275.9h50.7v2.5h-50.7zM2120.3 2295.9h50.7v2.5h-50.7zM2120.3 2310.9h50.7v2.5h-50.7zM2120.3 2320.9h50.7v2.5h-50.7zM2171 1159.3h50.7v2.5h-50.7zM2171 1164.3h50.7v7.5h-50.7zM2171 1204.3h50.7v2.5h-50.7zM2171 1211.8h50.7v2.5h-50.7zM2171 1229.3h50.7v2.5h-50.7zM2171 1279.2h50.7v2.5h-50.7zM2171 1284.2h50.7v2.5h-50.7zM2171 1294.2h50.7v2.5h-50.7zM2171 1299.2h50.7v2.5h-50.7zM2171 1311.7h50.7v2.5h-50.7zM2171 1319.2h50.7v2.5h-50.7zM2171 1324.2h50.7v2.5h-50.7zM2171 1339.2h50.7v2.5h-50.7zM2171 1344.2h50.7v2.5h-50.7zM2171 1354.2h50.7v5h-50.7zM2171 1361.7h50.7v2.5h-50.7zM2171 1369.2h50.7v2.5h-50.7zM2171 1386.6h50.7v5h-50.7zM2171 1426.6h50.7v2.5h-50.7zM2171 1434.1h50.7v2.5h-50.7zM2171 1451.6h50.7v2.5h-50.7zM2171 1461.6h50.7v2.5h-50.7zM2171 1481.6h50.7v2.5h-50.7zM2171 1489.1h50.7v2.5h-50.7zM2171 1516.5h50.7v2.5h-50.7zM2171 1521.5h50.7v5h-50.7zM2171 1546.5h50.7v5h-50.7zM2171 1559h50.7v2.5h-50.7zM2171 1564h50.7v7.5h-50.7zM2171 1581.5h50.7v2.5h-50.7zM2171 1591.5h50.7v2.5h-50.7zM2171 1596.5h50.7v2.5h-50.7zM2171 1611.5h50.7v2.5h-50.7zM2171 1624h50.7v2.5h-50.7zM2171 1678.9h50.7v2.5h-50.7zM2171 1701.4h50.7v7.5h-50.7zM2171 1711.4h50.7v2.5h-50.7zM2171 1723.9h50.7v5h-50.7zM2171 1743.9h50.7v2.5h-50.7zM2171 1751.4h50.7v2.5h-50.7zM2171 1776.3h50.7v5h-50.7zM2171 1796.3h50.7v2.5h-50.7zM2171 1806.3h50.7v2.5h-50.7zM2171 1831.3h50.7v2.5h-50.7zM2171 1838.8h50.7v2.5h-50.7zM2171 1843.8h50.7v5h-50.7zM2171 1851.3h50.7v2.5h-50.7zM2171 1861.3h50.7v5h-50.7zM2171 1878.8h50.7v2.5h-50.7zM2171 1883.8h50.7v2.5h-50.7zM2171 1893.7h50.7v2.5h-50.7zM2171 1903.7h50.7v2.5h-50.7zM2171 1911.2h50.7v2.5h-50.7zM2171 1941.2h50.7v2.5h-50.7zM2171 1956.2h50.7v2.5h-50.7zM2171 1961.2h50.7v2.5h-50.7zM2171 1981.2h50.7v2.5h-50.7zM2171 2003.7h50.7v2.5h-50.7zM2171 2056.1h50.7v2.5h-50.7zM2171 2071.1h50.7v2.5h-50.7zM2171 2096.1h50.7v2.5h-50.7zM2171 2136.1h50.7v2.5h-50.7zM2171 2166h50.7v2.5h-50.7zM2171 2198.5h50.7v2.5h-50.7zM2171 2253.5h50.7v2.5h-50.7zM2171 2261h50.7v2.5h-50.7zM2171 2268.5h50.7v2.5h-50.7zM2171 2283.4h50.7v2.5h-50.7zM2171 2295.9h50.7v2.5h-50.7zM2171 2300.9h50.7v2.5h-50.7zM2171 2308.4h50.7v2.5h-50.7zM2171 2323.4h50.7v2.5h-50.7zM2171 2328.4h50.7v2.5h-50.7z"/>
<path fill="#dfefee" d="M1613.5 1134.3h50.7v2.5h-50.7zM1613.5 1149.3h50.7v2.5h-50.7zM1613.5 1166.8h50.7v2.5h-50.7zM1613.5 1251.8h50.7v2.5h-50.7zM1613.5 1309.2h50.7v2.5h-50.7zM1613.5 1319.2h50.7v2.5h-50.7zM1613.5 1324.2h50.7v2.5h-50.7zM1613.5 1354.2h50.7v2.5h-50.7zM1613.5 1381.7h50.7v2.5h-50.7zM1613.5 1409.1h50.7v2.5h-50.7zM1613.5 1574h50.7v2.5h-50.7zM1613.5 1638.9h50.7v2.5h-50.7zM1613.5 1688.9h50.7v2.5h-50.7zM1613.5 1696.4h50.7v2.5h-50.7zM1613.5 1701.4h50.7v2.5h-50.7zM1613.5 1896.2h50.7v2.5h-50.7zM1664.2 1069.4h50.7v2.5h-50.7zM1664.2 1074.4h50.7v2.5h-50.7zM1664.2 1086.9h50.7v2.5h-50.7zM1664.2 1101.9h50.7v2.5h-50.7zM1664.2 1229.3h50.7v2.5h-50.7zM1664.2 1259.2h50.7v2.5h-50.7zM1664.2 1279.2h50.7v5h-50.7zM1664.2 1309.2h50.7v2.5h-50.7zM1664.2 1474.1h50.7v2.5h-50.7zM1664.2 1499.1h50.7v2.5h-50.7zM1664.2 1506.6h50.7v2.5h-50.7zM1664.2 1601.5h50.7v2.5h-50.7zM1664.2 1653.9h50.7v2.5h-50.7zM1664.2 1748.9h50.7v2.5h-50.7zM1664.2 1798.8h50.7v2.5h-50.7zM1664.2 2221h50.7v2.5h-50.7zM1714.9 1141.8h50.7v2.5h-50.7zM1714.9 1149.3h50.7v2.5h-50.7zM1714.9 1166.8h50.7v2.5h-50.7zM1714.9 1171.8h50.7v2.5h-50.7zM1714.9 1264.2h50.7v2.5h-50.7zM1714.9 1279.2h50.7v5h-50.7zM1714.9 1309.2h50.7v2.5h-50.7zM1714.9 1324.2h50.7v2.5h-50.7zM1714.9 1354.2h50.7v2.5h-50.7zM1714.9 1501.6h50.7v2.5h-50.7zM1714.9 1611.5h50.7v2.5h-50.7zM1714.9 1678.9h50.7v2.5h-50.7zM1714.9 1701.4h50.7v5h-50.7zM1765.5 1096.9h50.7v2.5h-50.7zM1765.5 1101.9h50.7v2.5h-50.7zM1765.5 1176.8h50.7v2.5h-50.7zM1765.5 1196.8h50.7v2.5h-50.7zM1765.5 1209.3h50.7v5h-50.7zM1765.5 1264.2h50.7v2.5h-50.7zM1765.5 1351.7h50.7v5h-50.7zM1765.5 1364.2h50.7v2.5h-50.7zM1765.5 1381.7h50.7v2.5h-50.7zM1765.5 1426.6h50.7v2.5h-50.7zM1765.5 1476.6h50.7v2.5h-50.7zM1765.5 1496.6h50.7v2.5h-50.7zM1765.5 1579h50.7v2.5h-50.7zM1765.5 1606.5h50.7v2.5h-50.7zM1765.5 1611.5h50.7v2.5h-50.7zM1765.5 1691.4h50.7v2.5h-50.7zM1765.5 1826.3h50.7v2.5h-50.7zM1816.2 1079.4h50.7v2.5h-50.7zM1816.2 1129.4h50.7v2.5h-50.7zM1816.2 1139.3h50.7v2.5h-50.7zM1816.2 1249.3h50.7v5h-50.7zM1816.2 1259.2h50.7v2.5h-50.7zM1816.2 1289.2h50.7v2.5h-50.7zM1816.2 1344.2h50.7v5h-50.7zM1816.2 1359.2h50.7v2.5h-50.7zM1816.2 1381.7h50.7v2.5h-50.7zM1816.2 1404.1h50.7v2.5h-50.7zM1816.2 1411.6h50.7v2.5h-50.7zM1816.2 1439.1h50.7v2.5h-50.7zM1816.2 1466.6h50.7v2.5h-50.7zM1816.2 1474.1h50.7v2.5h-50.7zM1816.2 1509.1h50.7v2.5h-50.7zM1816.2 1569h50.7v2.5h-50.7zM1816.2 1601.5h50.7v2.5h-50.7zM1816.2 2216h50.7v2.5h-50.7zM1866.9 1196.8h50.7v2.5h-50.7zM1866.9 1209.3h50.7v2.5h-50.7zM1866.9 1289.2h50.7v5h-50.7zM1866.9 1344.2h50.7v5h-50.7zM1866.9 1391.6h50.7v5h-50.7zM1866.9 1406.6h50.7v2.5h-50.7zM1866.9 1424.1h50.7v2.5h-50.7zM1866.9 1439.1h50.7v2.5h-50.7zM1866.9 1444.1h50.7v2.5h-50.7zM1866.9 1449.1h50.7v2.5h-50.7zM1866.9 1489.1h50.7v2.5h-50.7zM1866.9 1531.5h50.7v2.5h-50.7zM1866.9 1544h50.7v2.5h-50.7zM1866.9 1629h50.7v2.5h-50.7zM1866.9 1638.9h50.7v2.5h-50.7zM1866.9 1643.9h50.7v5h-50.7zM1866.9 1706.4h50.7v2.5h-50.7zM1917.6 1718.9h50.7v2.5h-50.7zM1917.6 1731.4h50.7v2.5h-50.7zM1917.6 1738.9h50.7v2.5h-50.7zM1917.6 1783.8h50.7v5h-50.7zM1917.6 1838.8h50.7v2.5h-50.7zM1917.6 1891.2h50.7v2.5h-50.7zM1917.6 1911.2h50.7v2.5h-50.7zM1917.6 1916.2h50.7v2.5h-50.7zM1917.6 1931.2h50.7v2.5h-50.7zM1917.6 1953.7h50.7v2.5h-50.7zM1917.6 1993.7h50.7v2.5h-50.7zM1917.6 2013.7h50.7v2.5h-50.7zM1917.6 2061.1h50.7v2.5h-50.7zM1917.6 2228.5h50.7v2.5h-50.7zM1917.6 2241h50.7v2.5h-50.7zM1968.3 1616.5h50.7v2.5h-50.7zM1968.3 1721.4h50.7v2.5h-50.7zM1968.3 1728.9h50.7v2.5h-50.7zM1968.3 1766.3h50.7v2.5h-50.7zM1968.3 1821.3h50.7v2.5h-50.7zM1968.3 1883.8h50.7v2.5h-50.7zM1968.3 1948.7h50.7v2.5h-50.7zM1968.3 1963.7h50.7v2.5h-50.7zM1968.3 1993.7h50.7v2.5h-50.7zM1968.3 2068.6h50.7v2.5h-50.7zM1968.3 2173.5h50.7v2.5h-50.7zM1968.3 2236h50.7v2.5h-50.7zM1968.3 2256h50.7v2.5h-50.7zM1968.3 2315.9h50.7v2.5h-50.7zM1968.3 2323.4h50.7v2.5h-50.7zM2019 1099.4h50.7v2.5h-50.7zM2019 1741.4h50.7v2.5h-50.7zM2019 1798.8h50.7v2.5h-50.7zM2019 1918.7h50.7v2.5h-50.7zM2019 1948.7h50.7v2.5h-50.7zM2019 1953.7h50.7v2.5h-50.7zM2019 1958.7h50.7v2.5h-50.7zM2019 2011.2h50.7v2.5h-50.7zM2019 2081.1h50.7v2.5h-50.7zM2019 2193.5h50.7v2.5h-50.7zM2019 2203.5h50.7v2.5h-50.7zM2019 2216h50.7v7.5h-50.7zM2019 2280.9h50.7v2.5h-50.7zM2019 2318.4h50.7v2.5h-50.7zM2069.6 1251.8h50.7v2.5h-50.7zM2069.6 1676.4h50.7v2.5h-50.7zM2069.6 1718.9h50.7v2.5h-50.7zM2069.6 1786.3h50.7v2.5h-50.7zM2069.6 1801.3h50.7v2.5h-50.7zM2069.6 1811.3h50.7v2.5h-50.7zM2069.6 1826.3h50.7v2.5h-50.7zM2069.6 2076.1h50.7v2.5h-50.7zM2069.6 2091.1h50.7v2.5h-50.7zM2069.6 2118.6h50.7v2.5h-50.7zM2069.6 2136.1h50.7v2.5h-50.7zM2069.6 2146h50.7v2.5h-50.7zM2069.6 2151h50.7v2.5h-50.7zM2069.6 2161h50.7v2.5h-50.7zM2069.6 2171h50.7v2.5h-50.7zM2069.6 2241h50.7v2.5h-50.7zM2120.3 1741.4h50.7v2.5h-50.7zM2120.3 1763.9h50.7v5h-50.7zM2120.3 1801.3h50.7v2.5h-50.7zM2120.3 1841.3h50.7v2.5h-50.7zM2120.3 1858.8h50.7v2.5h-50.7zM2120.3 1986.2h50.7v5h-50.7zM2120.3 2036.1h50.7v2.5h-50.7zM2120.3 2058.6h50.7v2.5h-50.7zM2120.3 2068.6h50.7v2.5h-50.7zM2120.3 2086.1h50.7v2.5h-50.7zM2120.3 2133.6h50.7v2.5h-50.7zM2120.3 2208.5h50.7v2.5h-50.7zM2120.3 2221h50.7v2.5h-50.7zM2120.3 2256h50.7v5h-50.7zM2120.3 2288.4h50.7v2.5h-50.7zM2171 1531.5h50.7v2.5h-50.7zM2171 1579h50.7v2.5h-50.7zM2171 1713.9h50.7v2.5h-50.7zM2171 1718.9h50.7v2.5h-50.7zM2171 1763.9h50.7v2.5h-50.7zM2171 1821.3h50.7v2.5h-50.7zM2171 1833.8h50.7v2.5h-50.7zM2171 1873.8h50.7v2.5h-50.7zM2171 1936.2h50.7v2.5h-50.7zM2171 2011.2h50.7v2.5h-50.7zM2171 2016.2h50.7v2.5h-50.7zM2171 2043.6h50.7v2.5h-50.7zM2171 2066.1h50.7v2.5h-50.7zM2171 2076.1h50.7v5h-50.7zM2171 2126.1h50.7v2.5h-50.7zM2171 2236h50.7v2.5h-50.7zM2171 2266h50.7v2.5h-50.7zM2171 2280.9h50.7v2.5h-50.7z"/>
<path fill="#c9e1ea" d="M1613.5 1181.8h50.7v2.5h-50.7zM1613.5 1364.2h50.7v2.5h-50.7zM1613.5 1629h50.7v2.5h-50.7zM1664.2 1124.4h50.7v2.5h-50.7zM1714.9 1284.2h50.7v5h-50.7zM1714.9 1399.1h50.7v2.5h-50.7zM1765.5 1421.6h50.7v2.5h-50.7zM1765.5 1471.6h50.7v2.5h-50.7zM1765.5 1536.5h50.7v2.5h-50.7zM1816.2 1164.3h50.7v2.5h-50.7zM1816.2 1334.2h50.7v2.5h-50.7zM1816.2 1424.1h50.7v2.5h-50.7zM1917.6 1918.7h50.7v2.5h-50.7zM1917.6 2036.1h50.7v2.5h-50.7zM1968.3 2003.7h50.7v2.5h-50.7zM1968.3 2106.1h50.7v2.5h-50.7zM1968.3 2293.4h50.7v2.5h-50.7zM2019 2278.4h50.7v2.5h-50.7zM2069.6 1461.6h50.7v2.5h-50.7zM2069.6 1731.4h50.7v2.5h-50.7zM2069.6 1893.7h50.7v2.5h-50.7zM2069.6 2233.5h50.7v2.5h-50.7zM2120.3 1721.4h50.7v2.5h-50.7zM2120.3 2071.1h50.7v2.5h-50.7zM2171 2111.1h50.7v2.5h-50.7z"/>
<path fill="#feeba3" d="M1613.5 1184.3h50.7v5h-50.7zM1613.5 1586.5h50.7v2.5h-50.7zM1613.5 1758.9h50.7v2.5h-50.7zM1613.5 1771.3h50.7v2.5h-50.7zM1613.5 1976.2h50.7v2.5h-50.7zM1613.5 1983.7h50.7v2.5h-50.7zM1613.5 2016.2h50.7v2.5h-50.7zM1613.5 2073.6h50.7v2.5h-50.7zM1613.5 2078.6h50.7v2.5h-50.7zM1613.5 2083.6h50.7v2.5h-50.7zM1613.5 2146h50.7v2.5h-50.7zM1613.5 2168.5h50.7v2.5h-50.7zM1613.5 2218.5h50.7v2.5h-50.7zM1613.5 2313.4h50.7v2.5h-50.7zM1664.2 1711.4h50.7v2.5h-50.7zM1664.2 1926.2h50.7v2.5h-50.7zM1664.2 1936.2h50.7v2.5h-50.7zM1664.2 2241h50.7v2.5h-50.7zM1664.2 2253.5h50.7v2.5h-50.7zM1664.2 2323.4h50.7v2.5h-50.7zM1714.9 1773.8h50.7v2.5h-50.7zM1714.9 1793.8h50.7v2.5h-50.7zM1714.9 1816.3h50.7v2.5h-50.7zM1714.9 1853.8h50.7v2.5h-50.7zM1714.9 1871.3h50.7v2.5h-50.7zM1714.9 1876.3h50.7v5h-50.7zM1714.9 1891.2h50.7v2.5h-50.7zM1714.9 2048.6h50.7v2.5h-50.7zM1714.9 2053.6h50.7v2.5h-50.7zM1714.9 2058.6h50.7v2.5h-50.7zM1714.9 2196h50.7v2.5h-50.7zM1714.9 2320.9h50.7v10h-50.7zM1765.5 1134.3h50.7v2.5h-50.7zM1765.5 1144.3h50.7v2.5h-50.7zM1765.5 1149.3h50.7v7.5h-50.7zM1765.5 1786.3h50.7v2.5h-50.7zM1765.5 1953.7h50.7v2.5h-50.7zM1765.5 2241h50.7v2.5h-50.7zM1765.5 2295.9h50.7v2.5h-50.7zM1816.2 1161.8h50.7v2.5h-50.7zM1816.2 1459.1h50.7v2.5h-50.7zM1816.2 1711.4h50.7v2.5h-50.7zM1816.2 1728.9h50.7v2.5h-50.7zM1816.2 1838.8h50.7v2.5h-50.7zM1816.2 1933.7h50.7v2.5h-50.7zM1816.2 2026.1h50.7v2.5h-50.7zM1816.2 2078.6h50.7v2.5h-50.7zM1816.2 2313.4h50.7v2.5h-50.7zM1816.2 2328.4h50.7v2.5h-50.7zM1866.9 1499.1h50.7v2.5h-50.7zM1866.9 1596.5h50.7v2.5h-50.7zM1866.9 2081.1h50.7v2.5h-50.7zM1866.9 2088.6h50.7v2.5h-50.7zM1866.9 2108.6h50.7v2.5h-50.7zM1917.6 1074.4h50.7v2.5h-50.7zM1917.6 1109.4h50.7v2.5h-50.7zM1917.6 1119.4h50.7v2.5h-50.7zM1917.6 1211.8h50.7v2.5h-50.7zM1917.6 1486.6h50.7v2.5h-50.7zM1917.6 1676.4h50.7v2.5h-50.7zM1917.6 2111.1h50.7v2.5h-50.7zM1968.3 1101.9h50.7v2.5h-50.7zM1968.3 1181.8h50.7v5h-50.7zM1968.3 1226.8h50.7v2.5h-50.7zM1968.3 1464.1h50.7v2.5h-50.7zM1968.3 1604h50.7v7.5h-50.7zM1968.3 1626.5h50.7v2.5h-50.7zM1968.3 2021.1h50.7v5h-50.7zM1968.3 2028.6h50.7v2.5h-50.7zM1968.3 2208.5h50.7v5h-50.7zM2019 1236.8h50.7v2.5h-50.7zM2019 1384.2h50.7v15h-50.7zM2019 1551.5h50.7v2.5h-50.7zM2019 2071.1h50.7v2.5h-50.7zM2069.6 1274.2h50.7v2.5h-50.7zM2069.6 1349.2h50.7v5h-50.7zM2069.6 1484.1h50.7v2.5h-50.7zM2069.6 1604h50.7v2.5h-50.7zM2069.6 1768.8h50.7v2.5h-50.7zM2120.3 1236.8h50.7v2.5h-50.7zM2120.3 1241.8h50.7v5h-50.7zM2120.3 1254.3h50.7v2.5h-50.7zM2120.3 1381.7h50.7v2.5h-50.7zM2120.3 1546.5h50.7v2.5h-50.7zM2120.3 2191h50.7v2.5h-50.7zM2171 1071.9h50.7v2.5h-50.7zM2171 1161.8h50.7v2.5h-50.7zM2171 1206.8h50.7v2.5h-50.7zM2171 1239.3h50.7v2.5h-50.7zM2171 1304.2h50.7v2.5h-50.7zM2171 1341.7h50.7v2.5h-50.7zM2171 1446.6h50.7v2.5h-50.7zM2171 1658.9h50.7v2.5h-50.7zM2171 1686.4h50.7v5h-50.7z"/>
<path fill="#fee294" d="M1613.5 1189.3h50.7v2.5h-50.7zM1613.5 1236.8h50.7v7.5h-50.7zM1613.5 1246.8h50.7v2.5h-50.7zM1613.5 1276.7h50.7v2.5h-50.7zM1613.5 1286.7h50.7v2.5h-50.7zM1613.5 1589h50.7v2.5h-50.7zM1613.5 1718.9h50.7v5h-50.7zM1613.5 1756.4h50.7v2.5h-50.7zM1613.5 1763.9h50.7v2.5h-50.7zM1613.5 1773.8h50.7v2.5h-50.7zM1613.5 1931.2h50.7v2.5h-50.7zM1613.5 2001.2h50.7v5h-50.7zM1613.5 2008.7h50.7v7.5h-50.7zM1613.5 2018.6h50.7v2.5h-50.7zM1613.5 2041.1h50.7v2.5h-50.7zM1613.5 2051.1h50.7v2.5h-50.7zM1613.5 2068.6h50.7v2.5h-50.7zM1613.5 2106.1h50.7v2.5h-50.7zM1613.5 2156h50.7v2.5h-50.7zM1613.5 2211h50.7v5h-50.7zM1664.2 1614h50.7v5h-50.7zM1664.2 1708.9h50.7v2.5h-50.7zM1664.2 1811.3h50.7v2.5h-50.7zM1664.2 1896.2h50.7v5h-50.7zM1664.2 1916.2h50.7v2.5h-50.7zM1664.2 1921.2h50.7v2.5h-50.7zM1664.2 2038.6h50.7v5h-50.7zM1664.2 2046.1h50.7v2.5h-50.7zM1664.2 2201h50.7v2.5h-50.7zM1664.2 2256h50.7v2.5h-50.7zM1664.2 2261h50.7v2.5h-50.7zM1714.9 1439.1h50.7v2.5h-50.7zM1714.9 1858.8h50.7v7.5h-50.7zM1714.9 1883.8h50.7v2.5h-50.7zM1714.9 1973.7h50.7v2.5h-50.7zM1714.9 2046.1h50.7v2.5h-50.7zM1714.9 2051.1h50.7v2.5h-50.7zM1714.9 2171h50.7v2.5h-50.7zM1714.9 2236h50.7v10h-50.7zM1714.9 2295.9h50.7v2.5h-50.7zM1765.5 1071.9h50.7v2.5h-50.7zM1765.5 1076.9h50.7v2.5h-50.7zM1765.5 1131.9h50.7v2.5h-50.7zM1765.5 1146.8h50.7v2.5h-50.7zM1765.5 1261.7h50.7v2.5h-50.7zM1765.5 1499.1h50.7v2.5h-50.7zM1765.5 1634h50.7v2.5h-50.7zM1765.5 1771.3h50.7v5h-50.7zM1765.5 1876.3h50.7v2.5h-50.7zM1765.5 1883.8h50.7v7.5h-50.7zM1765.5 1948.7h50.7v2.5h-50.7zM1765.5 1958.7h50.7v2.5h-50.7zM1765.5 1976.2h50.7v2.5h-50.7zM1765.5 2133.6h50.7v2.5h-50.7zM1765.5 2146h50.7v2.5h-50.7zM1765.5 2236h50.7v5h-50.7zM1765.5 2243.5h50.7v2.5h-50.7zM1765.5 2248.5h50.7v7.5h-50.7zM1816.2 1763.9h50.7v2.5h-50.7zM1816.2 1823.8h50.7v2.5h-50.7zM1816.2 1876.3h50.7v2.5h-50.7zM1816.2 2033.6h50.7v2.5h-50.7zM1816.2 2330.9h50.7v2.5h-50.7zM1866.9 1384.2h50.7v2.5h-50.7zM1866.9 1539h50.7v2.5h-50.7zM1866.9 1691.4h50.7v2.5h-50.7zM1866.9 1928.7h50.7v5h-50.7zM1866.9 2056.1h50.7v5h-50.7zM1866.9 2063.6h50.7v2.5h-50.7zM1866.9 2083.6h50.7v2.5h-50.7zM1866.9 2111.1h50.7v2.5h-50.7zM1866.9 2116.1h50.7v2.5h-50.7zM1866.9 2223.5h50.7v2.5h-50.7zM1866.9 2233.5h50.7v2.5h-50.7zM1866.9 2258.5h50.7v5h-50.7zM1917.6 1181.8h50.7v2.5h-50.7zM1917.6 1409.1h50.7v2.5h-50.7zM1917.6 1509.1h50.7v2.5h-50.7zM1917.6 1634h50.7v2.5h-50.7zM1917.6 2208.5h50.7v5h-50.7zM1968.3 1079.4h50.7v2.5h-50.7zM1968.3 1084.4h50.7v2.5h-50.7zM1968.3 1136.8h50.7v2.5h-50.7zM1968.3 1144.3h50.7v2.5h-50.7zM1968.3 1154.3h50.7v2.5h-50.7zM1968.3 1201.8h50.7v2.5h-50.7zM1968.3 1206.8h50.7v2.5h-50.7zM1968.3 1296.7h50.7v12.5h-50.7zM1968.3 1319.2h50.7v2.5h-50.7zM1968.3 1324.2h50.7v2.5h-50.7zM1968.3 1456.6h50.7v7.5h-50.7zM1968.3 1624h50.7v2.5h-50.7zM1968.3 1681.4h50.7v2.5h-50.7zM1968.3 1701.4h50.7v2.5h-50.7zM1968.3 1713.9h50.7v2.5h-50.7zM2019 1239.3h50.7v2.5h-50.7zM2019 1281.7h50.7v2.5h-50.7zM2019 1376.7h50.7v2.5h-50.7zM2019 1481.6h50.7v2.5h-50.7zM2019 2078.6h50.7v2.5h-50.7zM2069.6 1246.8h50.7v2.5h-50.7zM2069.6 1259.2h50.7v5h-50.7zM2069.6 1269.2h50.7v2.5h-50.7zM2069.6 1366.7h50.7v2.5h-50.7zM2069.6 1489.1h50.7v2.5h-50.7zM2069.6 1494.1h50.7v2.5h-50.7zM2069.6 1648.9h50.7v2.5h-50.7zM2069.6 1683.9h50.7v2.5h-50.7zM2069.6 1708.9h50.7v2.5h-50.7zM2069.6 1743.9h50.7v2.5h-50.7zM2069.6 1756.4h50.7v5h-50.7zM2069.6 1763.9h50.7v2.5h-50.7zM2120.3 1069.4h50.7v2.5h-50.7zM2120.3 1074.4h50.7v2.5h-50.7zM2120.3 1094.4h50.7v2.5h-50.7zM2120.3 1099.4h50.7v2.5h-50.7zM2120.3 1104.4h50.7v2.5h-50.7zM2120.3 1289.2h50.7v2.5h-50.7zM2120.3 1539h50.7v5h-50.7zM2120.3 1561.5h50.7v2.5h-50.7zM2120.3 1873.8h50.7v2.5h-50.7zM2120.3 2143.6h50.7v2.5h-50.7zM2120.3 2201h50.7v5h-50.7zM2120.3 2226h50.7v2.5h-50.7zM2171 1069.4h50.7v2.5h-50.7zM2171 1181.8h50.7v5h-50.7zM2171 1191.8h50.7v2.5h-50.7zM2171 1196.8h50.7v2.5h-50.7zM2171 1259.2h50.7v2.5h-50.7zM2171 1264.2h50.7v2.5h-50.7zM2171 1326.7h50.7v2.5h-50.7zM2171 1416.6h50.7v7.5h-50.7zM2171 1454.1h50.7v7.5h-50.7zM2171 1499.1h50.7v2.5h-50.7zM2171 1631.5h50.7v2.5h-50.7zM2171 1653.9h50.7v2.5h-50.7zM2171 1816.3h50.7v2.5h-50.7zM2171 1948.7h50.7v2.5h-50.7zM2171 2033.6h50.7v2.5h-50.7zM2171 2048.6h50.7v7.5h-50.7zM2171 2320.9h50.7v2.5h-50.7z"/>
<path fill="#d5e9ee" d="M1613.5 1216.8h50.7v2.5h-50.7zM1613.5 1391.6h50.7v2.5h-50.7zM1613.5 1414.1h50.7v2.5h-50.7zM1613.5 1464.1h50.7v2.5h-50.7zM1613.5 1663.9h50.7v2.5h-50.7zM1664.2 1319.2h50.7v2.5h-50.7zM1664.2 1454.1h50.7v2.5h-50.7zM1664.2 1626.5h50.7v2.5h-50.7zM1714.9 1344.2h50.7v2.5h-50.7zM1714.9 1351.7h50.7v2.5h-50.7zM1714.9 1499.1h50.7v2.5h-50.7zM1714.9 1614h50.7v2.5h-50.7zM1714.9 1686.4h50.7v2.5h-50.7zM1714.9 2123.6h50.7v2.5h-50.7zM1765.5 1166.8h50.7v2.5h-50.7zM1765.5 1184.3h50.7v2.5h-50.7zM1765.5 1239.3h50.7v2.5h-50.7zM1765.5 1404.1h50.7v2.5h-50.7zM1765.5 1549h50.7v2.5h-50.7zM1765.5 1629h50.7v2.5h-50.7zM1765.5 1683.9h50.7v2.5h-50.7zM1816.2 1299.2h50.7v2.5h-50.7zM1816.2 1311.7h50.7v2.5h-50.7zM1816.2 1656.4h50.7v2.5h-50.7zM1866.9 1091.9h50.7v2.5h-50.7zM1866.9 1114.4h50.7v2.5h-50.7zM1866.9 1264.2h50.7v2.5h-50.7zM1866.9 1708.9h50.7v2.5h-50.7zM1917.6 1713.9h50.7v2.5h-50.7zM1917.6 1798.8h50.7v2.5h-50.7zM1917.6 1901.2h50.7v2.5h-50.7zM1917.6 1948.7h50.7v2.5h-50.7zM1917.6 2023.6h50.7v5h-50.7zM1917.6 2083.6h50.7v2.5h-50.7zM1917.6 2178.5h50.7v2.5h-50.7zM1917.6 2216h50.7v2.5h-50.7zM1917.6 2266h50.7v2.5h-50.7zM1968.3 1264.2h50.7v2.5h-50.7zM1968.3 1903.7h50.7v2.5h-50.7zM2019 1708.9h50.7v2.5h-50.7zM2019 1908.7h50.7v5h-50.7zM2019 1923.7h50.7v2.5h-50.7zM2019 1936.2h50.7v2.5h-50.7zM2019 2315.9h50.7v2.5h-50.7zM2019 2320.9h50.7v2.5h-50.7zM2069.6 1741.4h50.7v2.5h-50.7zM2069.6 1908.7h50.7v2.5h-50.7zM2069.6 1946.2h50.7v2.5h-50.7zM2069.6 1951.2h50.7v2.5h-50.7zM2069.6 1981.2h50.7v2.5h-50.7zM2069.6 2033.6h50.7v2.5h-50.7zM2069.6 2158.5h50.7v2.5h-50.7zM2120.3 2213.5h50.7v2.5h-50.7zM2120.3 2246h50.7v2.5h-50.7zM2120.3 2285.9h50.7v2.5h-50.7zM2171 1381.7h50.7v2.5h-50.7zM2171 1519h50.7v2.5h-50.7zM2171 1801.3h50.7v2.5h-50.7zM2171 1918.7h50.7v2.5h-50.7zM2171 1973.7h50.7v2.5h-50.7zM2171 2041.1h50.7v2.5h-50.7z"/>
<path fill="#fcfbc1" d="M1613.5 1234.3h50.7v2.5h-50.7zM1613.5 1256.8h50.7v2.5h-50.7zM1613.5 1356.7h50.7v2.5h-50.7zM1613.5 1653.9h50.7v2.5h-50.7zM1613.5 1736.4h50.7v2.5h-50.7zM1613.5 2091.1h50.7v2.5h-50.7zM1613.5 2186h50.7v2.5h-50.7zM1613.5 2241h50.7v2.5h-50.7zM1613.5 2248.5h50.7v2.5h-50.7zM1613.5 2268.5h50.7v2.5h-50.7zM1613.5 2290.9h50.7v2.5h-50.7zM1613.5 2330.9h50.7v2.5h-50.7zM1664.2 1176.8h50.7v2.5h-50.7zM1664.2 1326.7h50.7v2.5h-50.7zM1664.2 1404.1h50.7v2.5h-50.7zM1664.2 1424.1h50.7v2.5h-50.7zM1664.2 1441.6h50.7v2.5h-50.7zM1664.2 1529h50.7v2.5h-50.7zM1664.2 1539h50.7v2.5h-50.7zM1664.2 1549h50.7v2.5h-50.7zM1664.2 1569h50.7v2.5h-50.7zM1664.2 1751.4h50.7v2.5h-50.7zM1664.2 1853.8h50.7v7.5h-50.7zM1664.2 1883.8h50.7v2.5h-50.7zM1664.2 1938.7h50.7v2.5h-50.7zM1664.2 1961.2h50.7v2.5h-50.7zM1664.2 1991.2h50.7v2.5h-50.7zM1664.2 2168.5h50.7v2.5h-50.7zM1664.2 2178.5h50.7v2.5h-50.7zM1664.2 2231h50.7v2.5h-50.7zM1664.2 2270.9h50.7v2.5h-50.7zM1664.2 2288.4h50.7v2.5h-50.7zM1664.2 2308.4h50.7v2.5h-50.7zM1714.9 1266.7h50.7v2.5h-50.7zM1714.9 1369.2h50.7v2.5h-50.7zM1714.9 1768.8h50.7v2.5h-50.7zM1714.9 1831.3h50.7v2.5h-50.7zM1714.9 1841.3h50.7v2.5h-50.7zM1714.9 1851.3h50.7v2.5h-50.7zM1714.9 1978.7h50.7v2.5h-50.7zM1714.9 2153.5h50.7v2.5h-50.7zM1714.9 2166h50.7v2.5h-50.7zM1714.9 2178.5h50.7v2.5h-50.7zM1714.9 2186h50.7v2.5h-50.7zM1714.9 2303.4h50.7v2.5h-50.7zM1765.5 1141.8h50.7v2.5h-50.7zM1765.5 1161.8h50.7v2.5h-50.7zM1765.5 1369.2h50.7v2.5h-50.7zM1765.5 1386.6h50.7v2.5h-50.7zM1765.5 1454.1h50.7v2.5h-50.7zM1765.5 1666.4h50.7v5h-50.7zM1765.5 1763.9h50.7v2.5h-50.7zM1765.5 1833.8h50.7v2.5h-50.7zM1765.5 1841.3h50.7v2.5h-50.7zM1765.5 1846.3h50.7v2.5h-50.7zM1765.5 1918.7h50.7v2.5h-50.7zM1765.5 1966.2h50.7v2.5h-50.7zM1765.5 1971.2h50.7v2.5h-50.7zM1765.5 2068.6h50.7v2.5h-50.7zM1765.5 2305.9h50.7v5h-50.7zM1816.2 1076.9h50.7v2.5h-50.7zM1816.2 1169.3h50.7v2.5h-50.7zM1816.2 1519h50.7v2.5h-50.7zM1816.2 1733.9h50.7v2.5h-50.7zM1816.2 1743.9h50.7v2.5h-50.7zM1816.2 1801.3h50.7v2.5h-50.7zM1816.2 1806.3h50.7v2.5h-50.7zM1816.2 1841.3h50.7v2.5h-50.7zM1816.2 1878.8h50.7v2.5h-50.7zM1816.2 1888.8h50.7v2.5h-50.7zM1816.2 1966.2h50.7v2.5h-50.7zM1816.2 2043.6h50.7v2.5h-50.7zM1816.2 2066.1h50.7v2.5h-50.7zM1816.2 2166h50.7v2.5h-50.7zM1816.2 2315.9h50.7v2.5h-50.7zM1866.9 1336.7h50.7v2.5h-50.7zM1866.9 1546.5h50.7v2.5h-50.7zM1866.9 1713.9h50.7v2.5h-50.7zM1866.9 1731.4h50.7v2.5h-50.7zM1866.9 1743.9h50.7v2.5h-50.7zM1866.9 1843.8h50.7v2.5h-50.7zM1866.9 1883.8h50.7v2.5h-50.7zM1866.9 1888.8h50.7v2.5h-50.7zM1866.9 2001.2h50.7v2.5h-50.7zM1866.9 2143.6h50.7v2.5h-50.7zM1866.9 2203.5h50.7v2.5h-50.7zM1917.6 1136.8h50.7v2.5h-50.7zM1917.6 1161.8h50.7v10h-50.7zM1917.6 1174.3h50.7v2.5h-50.7zM1917.6 1391.6h50.7v2.5h-50.7zM1917.6 1399.1h50.7v2.5h-50.7zM1917.6 1419.1h50.7v5h-50.7zM1917.6 1431.6h50.7v2.5h-50.7zM1917.6 1531.5h50.7v2.5h-50.7zM1917.6 1561.5h50.7v2.5h-50.7zM1917.6 1576.5h50.7v2.5h-50.7zM1917.6 1681.4h50.7v2.5h-50.7zM1917.6 1846.3h50.7v2.5h-50.7zM1917.6 1868.8h50.7v2.5h-50.7zM1917.6 1921.2h50.7v2.5h-50.7zM1917.6 1946.2h50.7v2.5h-50.7zM1917.6 2086.1h50.7v2.5h-50.7zM1917.6 2290.9h50.7v2.5h-50.7zM1968.3 1104.4h50.7v2.5h-50.7zM1968.3 1114.4h50.7v2.5h-50.7zM1968.3 1139.3h50.7v2.5h-50.7zM1968.3 1171.8h50.7v2.5h-50.7zM1968.3 1234.3h50.7v2.5h-50.7zM1968.3 1271.7h50.7v2.5h-50.7zM1968.3 1329.2h50.7v2.5h-50.7zM1968.3 1361.7h50.7v2.5h-50.7zM1968.3 1369.2h50.7v2.5h-50.7zM1968.3 1404.1h50.7v2.5h-50.7zM1968.3 1421.6h50.7v2.5h-50.7zM1968.3 1434.1h50.7v2.5h-50.7zM1968.3 1439.1h50.7v2.5h-50.7zM1968.3 1586.5h50.7v2.5h-50.7zM1968.3 1641.4h50.7v2.5h-50.7zM1968.3 1666.4h50.7v5h-50.7zM1968.3 1691.4h50.7v2.5h-50.7zM1968.3 1698.9h50.7v2.5h-50.7zM1968.3 1866.3h50.7v2.5h-50.7zM2019 1096.9h50.7v2.5h-50.7zM2019 1136.8h50.7v2.5h-50.7zM2019 1174.3h50.7v2.5h-50.7zM2019 1219.3h50.7v2.5h-50.7zM2019 1234.3h50.7v2.5h-50.7zM2019 1249.3h50.7v2.5h-50.7zM2019 1259.2h50.7v2.5h-50.7zM2019 1269.2h50.7v2.5h-50.7zM2019 1284.2h50.7v5h-50.7zM2019 1299.2h50.7v2.5h-50.7zM2019 1304.2h50.7v2.5h-50.7zM2019 1366.7h50.7v2.5h-50.7zM2019 1539h50.7v2.5h-50.7zM2019 1579h50.7v2.5h-50.7zM2019 1596.5h50.7v2.5h-50.7zM2019 1641.4h50.7v2.5h-50.7zM2019 1653.9h50.7v2.5h-50.7zM2019 1676.4h50.7v2.5h-50.7zM2019 1701.4h50.7v2.5h-50.7zM2019 1763.9h50.7v2.5h-50.7zM2019 1901.2h50.7v2.5h-50.7zM2019 1931.2h50.7v2.5h-50.7zM2069.6 1136.8h50.7v2.5h-50.7zM2069.6 1241.8h50.7v2.5h-50.7zM2069.6 1284.2h50.7v2.5h-50.7zM2069.6 1296.7h50.7v2.5h-50.7zM2069.6 1329.2h50.7v2.5h-50.7zM2069.6 1356.7h50.7v2.5h-50.7zM2069.6 1379.2h50.7v2.5h-50.7zM2069.6 1391.6h50.7v2.5h-50.7zM2069.6 1439.1h50.7v2.5h-50.7zM2069.6 1539h50.7v2.5h-50.7zM2069.6 1616.5h50.7v2.5h-50.7zM2069.6 1681.4h50.7v2.5h-50.7zM2069.6 1891.2h50.7v2.5h-50.7zM2069.6 1928.7h50.7v2.5h-50.7zM2069.6 1956.2h50.7v2.5h-50.7zM2069.6 2313.4h50.7v2.5h-50.7zM2120.3 1176.8h50.7v2.5h-50.7zM2120.3 1219.3h50.7v2.5h-50.7zM2120.3 1224.3h50.7v2.5h-50.7zM2120.3 1229.3h50.7v2.5h-50.7zM2120.3 1234.3h50.7v2.5h-50.7zM2120.3 1361.7h50.7v2.5h-50.7zM2120.3 1376.7h50.7v2.5h-50.7zM2120.3 1394.1h50.7v2.5h-50.7zM2120.3 1424.1h50.7v2.5h-50.7zM2120.3 1698.9h50.7v2.5h-50.7zM2120.3 2078.6h50.7v2.5h-50.7zM2120.3 2156h50.7v2.5h-50.7zM2120.3 2166h50.7v2.5h-50.7zM2120.3 2183.5h50.7v2.5h-50.7zM2171 1209.3h50.7v2.5h-50.7zM2171 1226.8h50.7v2.5h-50.7zM2171 1274.2h50.7v2.5h-50.7zM2171 1281.7h50.7v2.5h-50.7zM2171 1334.2h50.7v2.5h-50.7zM2171 1351.7h50.7v2.5h-50.7zM2171 1374.2h50.7v2.5h-50.7zM2171 1449.1h50.7v2.5h-50.7zM2171 1601.5h50.7v2.5h-50.7zM2171 1666.4h50.7v2.5h-50.7zM2171 1691.4h50.7v2.5h-50.7zM2171 1698.9h50.7v2.5h-50.7zM2171 1928.7h50.7v2.5h-50.7zM2171 2178.5h50.7v2.5h-50.7zM2171 2270.9h50.7v2.5h-50.7z"/>
<path fill="#fee69b" d="M1613.5 1244.3h50.7v2.5h-50.7zM1613.5 1249.3h50.7v2.5h-50.7zM1613.5 1279.2h50.7v7.5h-50.7zM1613.5 1509.1h50.7v5h-50.7zM1613.5 1723.9h50.7v2.5h-50.7zM1613.5 1761.4h50.7v2.5h-50.7zM1613.5 1766.3h50.7v5h-50.7zM1613.5 1778.8h50.7v2.5h-50.7zM1613.5 2046.1h50.7v5h-50.7zM1613.5 2071.1h50.7v2.5h-50.7zM1613.5 2076.1h50.7v2.5h-50.7zM1613.5 2081.1h50.7v2.5h-50.7zM1613.5 2158.5h50.7v2.5h-50.7zM1613.5 2163.5h50.7v5h-50.7zM1613.5 2183.5h50.7v2.5h-50.7zM1613.5 2283.4h50.7v2.5h-50.7zM1664.2 1619h50.7v2.5h-50.7zM1664.2 1831.3h50.7v2.5h-50.7zM1664.2 1971.2h50.7v2.5h-50.7zM1664.2 2188.5h50.7v2.5h-50.7zM1664.2 2203.5h50.7v2.5h-50.7zM1664.2 2318.4h50.7v5h-50.7zM1664.2 2325.9h50.7v7.5h-50.7zM1714.9 1434.1h50.7v5h-50.7zM1714.9 1606.5h50.7v5h-50.7zM1714.9 1856.3h50.7v2.5h-50.7zM1714.9 1881.3h50.7v2.5h-50.7zM1714.9 1988.7h50.7v2.5h-50.7zM1714.9 2038.6h50.7v7.5h-50.7zM1714.9 2056.1h50.7v2.5h-50.7zM1714.9 2198.5h50.7v2.5h-50.7zM1714.9 2330.9h50.7v2.5h-50.7zM1765.5 1636.5h50.7v2.5h-50.7zM1765.5 1768.8h50.7v2.5h-50.7zM1765.5 1881.3h50.7v2.5h-50.7zM1765.5 1951.2h50.7v2.5h-50.7zM1765.5 1956.2h50.7v2.5h-50.7zM1765.5 2128.6h50.7v2.5h-50.7zM1765.5 2136.1h50.7v2.5h-50.7zM1765.5 2143.6h50.7v2.5h-50.7zM1765.5 2148.5h50.7v2.5h-50.7zM1765.5 2246h50.7v2.5h-50.7zM1765.5 2261h50.7v2.5h-50.7zM1816.2 1746.4h50.7v2.5h-50.7zM1816.2 1856.3h50.7v2.5h-50.7zM1816.2 1873.8h50.7v2.5h-50.7zM1816.2 1931.2h50.7v2.5h-50.7zM1816.2 2031.1h50.7v2.5h-50.7zM1816.2 2091.1h50.7v2.5h-50.7zM1816.2 2128.6h50.7v2.5h-50.7zM1816.2 2246h50.7v2.5h-50.7zM1816.2 2253.5h50.7v2.5h-50.7zM1816.2 2261h50.7v5h-50.7zM1866.9 1501.6h50.7v5h-50.7zM1866.9 1594h50.7v2.5h-50.7zM1866.9 1926.2h50.7v2.5h-50.7zM1866.9 1933.7h50.7v2.5h-50.7zM1866.9 2061.1h50.7v2.5h-50.7zM1866.9 2113.6h50.7v2.5h-50.7zM1866.9 2186h50.7v2.5h-50.7zM1866.9 2221h50.7v2.5h-50.7zM1866.9 2228.5h50.7v5h-50.7zM1917.6 1144.3h50.7v2.5h-50.7zM1917.6 1489.1h50.7v2.5h-50.7zM1917.6 1506.6h50.7v2.5h-50.7zM1917.6 1511.6h50.7v5h-50.7zM1917.6 1668.9h50.7v2.5h-50.7zM1917.6 1853.8h50.7v2.5h-50.7zM1917.6 1906.2h50.7v2.5h-50.7zM1917.6 2213.5h50.7v2.5h-50.7zM1968.3 1146.8h50.7v2.5h-50.7zM1968.3 1321.7h50.7v2.5h-50.7zM1968.3 1653.9h50.7v2.5h-50.7zM1968.3 1708.9h50.7v2.5h-50.7zM1968.3 2026.1h50.7v2.5h-50.7zM1968.3 2033.6h50.7v2.5h-50.7zM1968.3 2103.6h50.7v2.5h-50.7zM1968.3 2213.5h50.7v2.5h-50.7zM2019 1081.9h50.7v5h-50.7zM2019 1241.8h50.7v5h-50.7zM2019 1279.2h50.7v2.5h-50.7zM2019 1586.5h50.7v2.5h-50.7zM2019 1619h50.7v2.5h-50.7zM2019 1624h50.7v2.5h-50.7zM2019 1629h50.7v2.5h-50.7zM2019 1646.4h50.7v2.5h-50.7zM2019 1666.4h50.7v2.5h-50.7zM2019 2073.6h50.7v2.5h-50.7zM2019 2131.1h50.7v2.5h-50.7zM2069.6 1094.4h50.7v2.5h-50.7zM2069.6 1129.4h50.7v2.5h-50.7zM2069.6 1266.7h50.7v2.5h-50.7zM2069.6 1346.7h50.7v2.5h-50.7zM2069.6 1491.6h50.7v2.5h-50.7zM2069.6 1496.6h50.7v2.5h-50.7zM2069.6 1504.1h50.7v2.5h-50.7zM2069.6 1541.5h50.7v2.5h-50.7zM2069.6 1651.4h50.7v2.5h-50.7zM2120.3 1071.9h50.7v2.5h-50.7zM2120.3 1076.9h50.7v2.5h-50.7zM2120.3 1086.9h50.7v2.5h-50.7zM2120.3 1091.9h50.7v2.5h-50.7zM2120.3 1239.3h50.7v2.5h-50.7zM2120.3 1251.8h50.7v2.5h-50.7zM2120.3 1384.2h50.7v5h-50.7zM2120.3 1564h50.7v5h-50.7zM2120.3 2141.1h50.7v2.5h-50.7zM2120.3 2196h50.7v5h-50.7zM2171 1074.4h50.7v2.5h-50.7zM2171 1174.3h50.7v5h-50.7zM2171 1189.3h50.7v2.5h-50.7zM2171 1256.8h50.7v2.5h-50.7zM2171 1269.2h50.7v2.5h-50.7zM2171 1301.7h50.7v2.5h-50.7zM2171 1414.1h50.7v2.5h-50.7zM2171 1476.6h50.7v2.5h-50.7zM2171 1504.1h50.7v2.5h-50.7zM2171 1534h50.7v2.5h-50.7zM2171 1609h50.7v2.5h-50.7zM2171 2031.1h50.7v2.5h-50.7z"/>
<path fill="#fdefaa" d="M1613.5 1274.2h50.7v2.5h-50.7zM1613.5 1476.6h50.7v2.5h-50.7zM1613.5 1481.6h50.7v2.5h-50.7zM1613.5 1591.5h50.7v2.5h-50.7zM1613.5 1968.7h50.7v2.5h-50.7zM1613.5 1973.7h50.7v2.5h-50.7zM1613.5 1978.7h50.7v2.5h-50.7zM1613.5 1993.7h50.7v2.5h-50.7zM1613.5 1998.7h50.7v2.5h-50.7zM1613.5 2066.1h50.7v2.5h-50.7zM1613.5 2208.5h50.7v2.5h-50.7zM1613.5 2246h50.7v2.5h-50.7zM1613.5 2328.4h50.7v2.5h-50.7zM1664.2 1871.3h50.7v2.5h-50.7zM1664.2 1908.7h50.7v2.5h-50.7zM1664.2 1923.7h50.7v2.5h-50.7zM1714.9 1619h50.7v2.5h-50.7zM1714.9 1866.3h50.7v5h-50.7zM1714.9 1873.8h50.7v2.5h-50.7zM1714.9 1953.7h50.7v2.5h-50.7zM1714.9 1996.2h50.7v2.5h-50.7zM1714.9 2158.5h50.7v2.5h-50.7zM1714.9 2266h50.7v2.5h-50.7zM1765.5 1963.7h50.7v2.5h-50.7zM1816.2 2298.4h50.7v2.5h-50.7zM1866.9 1214.3h50.7v2.5h-50.7zM1866.9 1668.9h50.7v2.5h-50.7zM1866.9 1723.9h50.7v2.5h-50.7zM1866.9 1741.4h50.7v2.5h-50.7zM1866.9 1781.3h50.7v2.5h-50.7zM1866.9 1806.3h50.7v2.5h-50.7zM1866.9 1911.2h50.7v2.5h-50.7zM1866.9 2071.1h50.7v2.5h-50.7zM1917.6 1199.3h50.7v2.5h-50.7zM1917.6 1631.5h50.7v2.5h-50.7zM1917.6 1688.9h50.7v2.5h-50.7zM1917.6 1966.2h50.7v2.5h-50.7zM1968.3 1141.8h50.7v2.5h-50.7zM1968.3 1231.8h50.7v2.5h-50.7zM1968.3 1349.2h50.7v2.5h-50.7zM1968.3 1424.1h50.7v2.5h-50.7zM1968.3 1629h50.7v2.5h-50.7zM1968.3 1801.3h50.7v2.5h-50.7zM1968.3 1921.2h50.7v2.5h-50.7zM1968.3 2206h50.7v2.5h-50.7zM2019 1076.9h50.7v2.5h-50.7zM2019 1111.9h50.7v2.5h-50.7zM2019 1146.8h50.7v2.5h-50.7zM2019 1311.7h50.7v2.5h-50.7zM2019 1554h50.7v2.5h-50.7zM2019 1576.5h50.7v2.5h-50.7zM2019 1726.4h50.7v2.5h-50.7zM2069.6 1264.2h50.7v2.5h-50.7zM2069.6 1324.2h50.7v2.5h-50.7zM2069.6 1411.6h50.7v2.5h-50.7zM2069.6 1419.1h50.7v2.5h-50.7zM2069.6 1549h50.7v2.5h-50.7zM2069.6 1556.5h50.7v5h-50.7zM2069.6 1746.4h50.7v2.5h-50.7zM2069.6 2256h50.7v2.5h-50.7zM2120.3 1191.8h50.7v2.5h-50.7zM2120.3 1246.8h50.7v5h-50.7zM2120.3 1256.8h50.7v2.5h-50.7zM2120.3 1276.7h50.7v2.5h-50.7zM2120.3 1389.1h50.7v2.5h-50.7zM2120.3 1399.1h50.7v2.5h-50.7zM2120.3 1509.1h50.7v2.5h-50.7zM2120.3 2193.5h50.7v2.5h-50.7zM2171 1179.3h50.7v2.5h-50.7zM2171 1424.1h50.7v2.5h-50.7z"/>
<path fill="#fdf3b2" d="M1613.5 1479.1h50.7v2.5h-50.7zM1613.5 1743.9h50.7v2.5h-50.7zM1613.5 1971.2h50.7v2.5h-50.7zM1613.5 1981.2h50.7v2.5h-50.7zM1613.5 1986.2h50.7v7.5h-50.7zM1664.2 1291.7h50.7v2.5h-50.7zM1664.2 1414.1h50.7v2.5h-50.7zM1664.2 1771.3h50.7v2.5h-50.7zM1664.2 1868.8h50.7v2.5h-50.7zM1714.9 1081.9h50.7v2.5h-50.7zM1714.9 2008.7h50.7v2.5h-50.7zM1714.9 2113.6h50.7v2.5h-50.7zM1714.9 2193.5h50.7v2.5h-50.7zM1765.5 1234.3h50.7v2.5h-50.7zM1765.5 1731.4h50.7v2.5h-50.7zM1765.5 2046.1h50.7v2.5h-50.7zM1816.2 1566.5h50.7v2.5h-50.7zM1816.2 2143.6h50.7v2.5h-50.7zM1816.2 2211h50.7v2.5h-50.7zM1866.9 1486.6h50.7v2.5h-50.7zM1866.9 1624h50.7v2.5h-50.7zM1866.9 1913.7h50.7v2.5h-50.7zM1866.9 2008.7h50.7v2.5h-50.7zM1866.9 2036.1h50.7v2.5h-50.7zM1917.6 2285.9h50.7v2.5h-50.7zM1968.3 1091.9h50.7v2.5h-50.7zM1968.3 1251.8h50.7v2.5h-50.7zM1968.3 1696.4h50.7v2.5h-50.7zM2019 1121.9h50.7v2.5h-50.7zM2019 1166.8h50.7v2.5h-50.7zM2019 1379.2h50.7v2.5h-50.7zM2019 1569h50.7v2.5h-50.7zM2019 1621.5h50.7v2.5h-50.7zM2019 1626.5h50.7v2.5h-50.7zM2019 1631.5h50.7v2.5h-50.7zM2019 1668.9h50.7v2.5h-50.7zM2019 2076.1h50.7v2.5h-50.7zM2069.6 1069.4h50.7v2.5h-50.7zM2069.6 1276.7h50.7v2.5h-50.7zM2069.6 1446.6h50.7v2.5h-50.7zM2069.6 1514h50.7v2.5h-50.7zM2069.6 1988.7h50.7v2.5h-50.7zM2069.6 2295.9h50.7v2.5h-50.7zM2120.3 1144.3h50.7v2.5h-50.7zM2120.3 1209.3h50.7v2.5h-50.7zM2120.3 1284.2h50.7v2.5h-50.7zM2120.3 1359.2h50.7v2.5h-50.7zM2120.3 1559h50.7v2.5h-50.7zM2120.3 1798.8h50.7v2.5h-50.7zM2171 1439.1h50.7v2.5h-50.7zM2171 1668.9h50.7v2.5h-50.7zM2171 1781.3h50.7v2.5h-50.7z"/>
<path fill="#fed98c" d="M1613.5 1683.9h50.7v2.5h-50.7zM1613.5 1776.3h50.7v2.5h-50.7zM1613.5 2006.2h50.7v2.5h-50.7zM1613.5 2053.6h50.7v2.5h-50.7zM1613.5 2058.6h50.7v2.5h-50.7zM1613.5 2206h50.7v2.5h-50.7zM1613.5 2216h50.7v2.5h-50.7zM1664.2 1396.6h50.7v2.5h-50.7zM1664.2 1801.3h50.7v2.5h-50.7zM1664.2 1901.2h50.7v5h-50.7zM1664.2 2028.6h50.7v2.5h-50.7zM1664.2 2086.1h50.7v2.5h-50.7zM1664.2 2193.5h50.7v2.5h-50.7zM1664.2 2198.5h50.7v2.5h-50.7zM1664.2 2246h50.7v2.5h-50.7zM1664.2 2258.5h50.7v2.5h-50.7zM1714.9 1551.5h50.7v2.5h-50.7zM1714.9 1646.4h50.7v2.5h-50.7zM1714.9 1771.3h50.7v2.5h-50.7zM1714.9 1783.8h50.7v2.5h-50.7zM1714.9 1788.8h50.7v2.5h-50.7zM1714.9 1971.2h50.7v2.5h-50.7zM1714.9 2036.1h50.7v2.5h-50.7zM1714.9 2078.6h50.7v5h-50.7zM1714.9 2173.5h50.7v2.5h-50.7zM1714.9 2313.4h50.7v2.5h-50.7zM1765.5 1081.9h50.7v2.5h-50.7zM1765.5 1204.3h50.7v5h-50.7zM1765.5 1306.7h50.7v12.5h-50.7zM1765.5 1753.9h50.7v2.5h-50.7zM1765.5 1816.3h50.7v2.5h-50.7zM1765.5 1878.8h50.7v2.5h-50.7zM1765.5 2221h50.7v2.5h-50.7zM1765.5 2256h50.7v2.5h-50.7zM1816.2 2028.6h50.7v2.5h-50.7zM1816.2 2093.6h50.7v2.5h-50.7zM1816.2 2243.5h50.7v2.5h-50.7zM1816.2 2251h50.7v2.5h-50.7zM1816.2 2256h50.7v2.5h-50.7zM1816.2 2323.4h50.7v5h-50.7zM1866.9 1139.3h50.7v2.5h-50.7zM1866.9 1146.8h50.7v2.5h-50.7zM1866.9 1381.7h50.7v2.5h-50.7zM1866.9 1591.5h50.7v2.5h-50.7zM1866.9 1768.8h50.7v2.5h-50.7zM1866.9 1856.3h50.7v2.5h-50.7zM1866.9 1893.7h50.7v2.5h-50.7zM1866.9 1943.7h50.7v2.5h-50.7zM1866.9 1951.2h50.7v2.5h-50.7zM1866.9 2118.6h50.7v2.5h-50.7zM1866.9 2123.6h50.7v5h-50.7zM1866.9 2138.6h50.7v2.5h-50.7zM1866.9 2201h50.7v2.5h-50.7zM1866.9 2226h50.7v2.5h-50.7zM1866.9 2248.5h50.7v2.5h-50.7zM1917.6 1411.6h50.7v2.5h-50.7zM1917.6 1416.6h50.7v2.5h-50.7zM1917.6 1491.6h50.7v2.5h-50.7zM1917.6 1504.1h50.7v2.5h-50.7zM1917.6 1516.5h50.7v2.5h-50.7zM1917.6 1606.5h50.7v2.5h-50.7zM1917.6 1851.3h50.7v2.5h-50.7zM1917.6 1908.7h50.7v2.5h-50.7zM1917.6 2273.4h50.7v2.5h-50.7zM1968.3 1074.4h50.7v5h-50.7zM1968.3 1086.9h50.7v2.5h-50.7zM1968.3 1204.3h50.7v2.5h-50.7zM1968.3 1294.2h50.7v2.5h-50.7zM1968.3 1316.7h50.7v2.5h-50.7zM1968.3 1454.1h50.7v2.5h-50.7zM1968.3 1486.6h50.7v2.5h-50.7zM1968.3 1676.4h50.7v2.5h-50.7zM1968.3 1703.9h50.7v5h-50.7zM1968.3 2031.1h50.7v2.5h-50.7zM2019 1079.4h50.7v2.5h-50.7zM2019 1086.9h50.7v2.5h-50.7zM2019 1404.1h50.7v5h-50.7zM2019 1414.1h50.7v2.5h-50.7zM2019 1534h50.7v2.5h-50.7zM2019 1549h50.7v2.5h-50.7zM2019 1778.8h50.7v2.5h-50.7zM2019 2133.6h50.7v5h-50.7zM2069.6 1121.9h50.7v2.5h-50.7zM2069.6 1126.9h50.7v2.5h-50.7zM2069.6 1244.3h50.7v2.5h-50.7zM2069.6 1249.3h50.7v2.5h-50.7zM2069.6 1271.7h50.7v2.5h-50.7zM2069.6 1653.9h50.7v2.5h-50.7zM2069.6 1691.4h50.7v2.5h-50.7zM2069.6 1761.4h50.7v2.5h-50.7zM2069.6 1766.3h50.7v2.5h-50.7zM2120.3 1084.4h50.7v2.5h-50.7zM2120.3 1096.9h50.7v2.5h-50.7zM2120.3 1101.9h50.7v2.5h-50.7zM2120.3 1106.9h50.7v2.5h-50.7zM2120.3 1439.1h50.7v2.5h-50.7zM2120.3 1544h50.7v2.5h-50.7zM2120.3 1876.3h50.7v2.5h-50.7zM2120.3 2138.6h50.7v2.5h-50.7zM2171 1076.9h50.7v2.5h-50.7zM2171 1186.8h50.7v2.5h-50.7zM2171 1194.3h50.7v2.5h-50.7zM2171 1216.8h50.7v2.5h-50.7zM2171 1266.7h50.7v2.5h-50.7zM2171 1271.7h50.7v2.5h-50.7zM2171 1329.2h50.7v2.5h-50.7zM2171 1506.6h50.7v5h-50.7zM2171 1544h50.7v2.5h-50.7zM2171 1626.5h50.7v2.5h-50.7zM2171 1641.4h50.7v2.5h-50.7zM2171 1646.4h50.7v2.5h-50.7zM2171 1651.4h50.7v2.5h-50.7zM2171 1676.4h50.7v2.5h-50.7zM2171 1683.9h50.7v2.5h-50.7zM2171 1813.8h50.7v2.5h-50.7zM2171 1951.2h50.7v5h-50.7zM2171 2088.6h50.7v2.5h-50.7zM2171 2201h50.7v2.5h-50.7z"/>
<path fill="#fecc83" d="M1613.5 1748.9h50.7v7.5h-50.7zM1613.5 1921.2h50.7v2.5h-50.7zM1613.5 1958.7h50.7v2.5h-50.7zM1613.5 1963.7h50.7v2.5h-50.7zM1613.5 2061.1h50.7v5h-50.7zM1613.5 2151h50.7v2.5h-50.7zM1613.5 2161h50.7v2.5h-50.7zM1613.5 2231h50.7v2.5h-50.7zM1664.2 1803.8h50.7v5h-50.7zM1664.2 2021.1h50.7v7.5h-50.7zM1664.2 2031.1h50.7v2.5h-50.7zM1664.2 2036.1h50.7v2.5h-50.7zM1664.2 2048.6h50.7v2.5h-50.7zM1664.2 2083.6h50.7v2.5h-50.7zM1664.2 2196h50.7v2.5h-50.7zM1664.2 2206h50.7v2.5h-50.7zM1664.2 2216h50.7v2.5h-50.7zM1664.2 2251h50.7v2.5h-50.7zM1714.9 1781.3h50.7v2.5h-50.7zM1714.9 1921.2h50.7v2.5h-50.7zM1714.9 1933.7h50.7v2.5h-50.7zM1714.9 2063.6h50.7v2.5h-50.7zM1714.9 2073.6h50.7v2.5h-50.7zM1714.9 2246h50.7v2.5h-50.7zM1714.9 2251h50.7v5h-50.7zM1714.9 2258.5h50.7v2.5h-50.7zM1765.5 1074.4h50.7v2.5h-50.7zM1765.5 1079.4h50.7v2.5h-50.7zM1765.5 1766.3h50.7v2.5h-50.7zM1765.5 1776.3h50.7v2.5h-50.7zM1765.5 1811.3h50.7v2.5h-50.7zM1765.5 1978.7h50.7v2.5h-50.7zM1765.5 2033.6h50.7v2.5h-50.7zM1765.5 2131.1h50.7v2.5h-50.7zM1765.5 2258.5h50.7v2.5h-50.7zM1816.2 1773.8h50.7v5h-50.7zM1816.2 1781.3h50.7v2.5h-50.7zM1816.2 1818.8h50.7v2.5h-50.7zM1816.2 1926.2h50.7v5h-50.7zM1816.2 2193.5h50.7v2.5h-50.7zM1816.2 2231h50.7v2.5h-50.7zM1816.2 2248.5h50.7v2.5h-50.7zM1866.9 1144.3h50.7v2.5h-50.7zM1866.9 1801.3h50.7v2.5h-50.7zM1866.9 1896.2h50.7v2.5h-50.7zM1866.9 1948.7h50.7v2.5h-50.7zM1866.9 2046.1h50.7v2.5h-50.7zM1866.9 2086.1h50.7v2.5h-50.7zM1866.9 2173.5h50.7v2.5h-50.7zM1866.9 2236h50.7v5h-50.7zM1866.9 2251h50.7v2.5h-50.7zM1866.9 2256h50.7v2.5h-50.7zM1866.9 2263.5h50.7v2.5h-50.7zM1917.6 1269.2h50.7v2.5h-50.7zM1917.6 1414.1h50.7v2.5h-50.7zM1917.6 1461.6h50.7v2.5h-50.7zM1917.6 1519h50.7v2.5h-50.7zM1917.6 1609h50.7v5h-50.7zM1968.3 1199.3h50.7v2.5h-50.7zM1968.3 1479.1h50.7v7.5h-50.7zM1968.3 1489.1h50.7v5h-50.7zM1968.3 1671.4h50.7v2.5h-50.7zM1968.3 1711.4h50.7v2.5h-50.7zM1968.3 1968.7h50.7v2.5h-50.7zM1968.3 2111.1h50.7v2.5h-50.7zM2019 1439.1h50.7v2.5h-50.7zM2019 1449.1h50.7v5h-50.7zM2019 1881.3h50.7v5h-50.7zM2069.6 1481.6h50.7v2.5h-50.7zM2069.6 1611.5h50.7v2.5h-50.7zM2069.6 1693.9h50.7v2.5h-50.7zM2069.6 2038.6h50.7v5h-50.7zM2069.6 2046.1h50.7v2.5h-50.7zM2120.3 1089.4h50.7v2.5h-50.7zM2120.3 1391.6h50.7v2.5h-50.7zM2120.3 1414.1h50.7v7.5h-50.7zM2120.3 1436.6h50.7v2.5h-50.7zM2120.3 1651.4h50.7v2.5h-50.7zM2120.3 2056.1h50.7v2.5h-50.7zM2171 1254.3h50.7v2.5h-50.7zM2171 1261.7h50.7v2.5h-50.7zM2171 1496.6h50.7v2.5h-50.7zM2171 1511.6h50.7v2.5h-50.7zM2171 1541.5h50.7v2.5h-50.7zM2171 1629h50.7v2.5h-50.7zM2171 1634h50.7v7.5h-50.7zM2171 1643.9h50.7v2.5h-50.7zM2171 1648.9h50.7v2.5h-50.7zM2171 1656.4h50.7v2.5h-50.7zM2171 1681.4h50.7v2.5h-50.7zM2171 2223.5h50.7v2.5h-50.7z"/>
<path fill="#fda669" d="M1613.5 1781.3h50.7v5h-50.7zM1613.5 1788.8h50.7v2.5h-50.7zM1613.5 1886.3h50.7v2.5h-50.7zM1613.5 1936.2h50.7v2.5h-50.7zM1613.5 1943.7h50.7v2.5h-50.7zM1613.5 1953.7h50.7v2.5h-50.7zM1664.2 2006.2h50.7v2.5h-50.7zM1664.2 2016.2h50.7v2.5h-50.7zM1664.2 2061.1h50.7v2.5h-50.7zM1664.2 2066.1h50.7v2.5h-50.7zM1664.2 2078.6h50.7v5h-50.7zM1664.2 2208.5h50.7v2.5h-50.7zM1664.2 2248.5h50.7v2.5h-50.7zM1664.2 2315.9h50.7v2.5h-50.7zM1714.9 1718.9h50.7v2.5h-50.7zM1714.9 1726.4h50.7v2.5h-50.7zM1714.9 1756.4h50.7v2.5h-50.7zM1714.9 1901.2h50.7v2.5h-50.7zM1714.9 1906.2h50.7v2.5h-50.7zM1714.9 2071.1h50.7v2.5h-50.7zM1714.9 2256h50.7v2.5h-50.7zM1765.5 2211h50.7v2.5h-50.7zM1765.5 2283.4h50.7v2.5h-50.7zM1816.2 2013.7h50.7v2.5h-50.7zM1816.2 2018.6h50.7v2.5h-50.7zM1816.2 2226h50.7v2.5h-50.7zM1816.2 2275.9h50.7v2.5h-50.7zM1866.9 1946.2h50.7v2.5h-50.7zM1866.9 1953.7h50.7v2.5h-50.7zM1866.9 1963.7h50.7v2.5h-50.7zM1866.9 2241h50.7v2.5h-50.7zM1866.9 2325.9h50.7v5h-50.7zM1917.6 1224.3h50.7v2.5h-50.7zM1917.6 1249.3h50.7v2.5h-50.7zM1917.6 1254.3h50.7v2.5h-50.7zM1917.6 1264.2h50.7v2.5h-50.7zM1917.6 1276.7h50.7v2.5h-50.7zM1917.6 1324.2h50.7v2.5h-50.7zM1917.6 1446.6h50.7v2.5h-50.7zM1917.6 1526.5h50.7v2.5h-50.7zM1917.6 1594h50.7v2.5h-50.7zM1917.6 1599h50.7v2.5h-50.7zM1917.6 1616.5h50.7v2.5h-50.7zM1968.3 1069.4h50.7v5h-50.7zM1968.3 1209.3h50.7v2.5h-50.7zM1968.3 1216.8h50.7v2.5h-50.7zM1968.3 1286.7h50.7v2.5h-50.7zM1968.3 1509.1h50.7v5h-50.7zM1968.3 1531.5h50.7v2.5h-50.7zM1968.3 1549h50.7v2.5h-50.7zM2019 1069.4h50.7v2.5h-50.7zM2019 1074.4h50.7v2.5h-50.7zM2019 1196.8h50.7v2.5h-50.7zM2019 1336.7h50.7v2.5h-50.7zM2019 1434.1h50.7v2.5h-50.7zM2019 1471.6h50.7v2.5h-50.7zM2019 1776.3h50.7v2.5h-50.7zM2069.6 1156.8h50.7v2.5h-50.7zM2069.6 1216.8h50.7v2.5h-50.7zM2069.6 1224.3h50.7v2.5h-50.7zM2120.3 1079.4h50.7v2.5h-50.7zM2120.3 1131.9h50.7v2.5h-50.7zM2120.3 1529h50.7v5h-50.7zM2120.3 1589h50.7v2.5h-50.7zM2120.3 1594h50.7v2.5h-50.7zM2120.3 1656.4h50.7v2.5h-50.7zM2120.3 1688.9h50.7v2.5h-50.7zM2120.3 1696.4h50.7v2.5h-50.7zM2120.3 1701.4h50.7v2.5h-50.7zM2120.3 1706.4h50.7v2.5h-50.7zM2120.3 1713.9h50.7v2.5h-50.7zM2171 1079.4h50.7v2.5h-50.7zM2171 1084.4h50.7v2.5h-50.7zM2171 1136.8h50.7v2.5h-50.7zM2171 1249.3h50.7v5h-50.7zM2171 1696.4h50.7v2.5h-50.7z"/>
<path fill="#fdbf7a" d="M1613.5 1786.3h50.7v2.5h-50.7zM1613.5 1906.2h50.7v7.5h-50.7zM1613.5 1951.2h50.7v2.5h-50.7zM1613.5 2036.1h50.7v2.5h-50.7zM1613.5 2043.6h50.7v2.5h-50.7zM1613.5 2148.5h50.7v2.5h-50.7zM1613.5 2153.5h50.7v2.5h-50.7zM1664.2 1394.1h50.7v2.5h-50.7zM1664.2 1808.8h50.7v2.5h-50.7zM1664.2 1918.7h50.7v2.5h-50.7zM1664.2 2001.2h50.7v2.5h-50.7zM1664.2 2043.6h50.7v2.5h-50.7zM1664.2 2056.1h50.7v2.5h-50.7zM1664.2 2063.6h50.7v2.5h-50.7zM1664.2 2088.6h50.7v2.5h-50.7zM1664.2 2213.5h50.7v2.5h-50.7zM1664.2 2243.5h50.7v2.5h-50.7zM1714.9 1723.9h50.7v2.5h-50.7zM1714.9 1903.7h50.7v2.5h-50.7zM1714.9 1923.7h50.7v2.5h-50.7zM1714.9 2248.5h50.7v2.5h-50.7zM1714.9 2261h50.7v2.5h-50.7zM1765.5 1069.4h50.7v2.5h-50.7zM1765.5 1486.6h50.7v2.5h-50.7zM1765.5 1728.9h50.7v2.5h-50.7zM1765.5 1813.8h50.7v2.5h-50.7zM1765.5 2021.1h50.7v7.5h-50.7zM1765.5 2216h50.7v2.5h-50.7zM1816.2 1778.8h50.7v2.5h-50.7zM1816.2 1783.8h50.7v2.5h-50.7zM1816.2 1796.3h50.7v2.5h-50.7zM1816.2 1821.3h50.7v2.5h-50.7zM1816.2 2270.9h50.7v2.5h-50.7zM1816.2 2278.4h50.7v5h-50.7zM1866.9 1141.8h50.7v2.5h-50.7zM1866.9 1149.3h50.7v2.5h-50.7zM1866.9 1798.8h50.7v2.5h-50.7zM1866.9 1898.7h50.7v2.5h-50.7zM1866.9 1936.2h50.7v7.5h-50.7zM1866.9 1958.7h50.7v2.5h-50.7zM1866.9 1966.2h50.7v2.5h-50.7zM1917.6 1246.8h50.7v2.5h-50.7zM1917.6 1256.8h50.7v5h-50.7zM1917.6 1459.1h50.7v2.5h-50.7zM1917.6 1521.5h50.7v5h-50.7zM1917.6 1604h50.7v2.5h-50.7zM1968.3 1081.9h50.7v2.5h-50.7zM1968.3 1476.6h50.7v2.5h-50.7zM1968.3 1673.9h50.7v2.5h-50.7zM1968.3 2218.5h50.7v2.5h-50.7zM2019 1071.9h50.7v2.5h-50.7zM2019 1409.1h50.7v2.5h-50.7zM2019 1479.1h50.7v2.5h-50.7zM2019 1484.1h50.7v2.5h-50.7zM2069.6 1151.8h50.7v5h-50.7zM2069.6 1184.3h50.7v2.5h-50.7zM2069.6 1201.8h50.7v7.5h-50.7zM2069.6 1211.8h50.7v2.5h-50.7zM2069.6 1696.4h50.7v2.5h-50.7zM2069.6 1711.4h50.7v2.5h-50.7zM2069.6 2043.6h50.7v2.5h-50.7zM2120.3 1479.1h50.7v2.5h-50.7zM2120.3 1646.4h50.7v2.5h-50.7zM2120.3 1691.4h50.7v2.5h-50.7zM2171 1214.3h50.7v2.5h-50.7z"/>
<path fill="#fb8b58" d="M1613.5 1791.3h50.7v2.5h-50.7zM1613.5 1868.8h50.7v2.5h-50.7zM1613.5 1888.8h50.7v5h-50.7zM1613.5 1961.2h50.7v2.5h-50.7zM1664.2 2003.7h50.7v2.5h-50.7zM1664.2 2011.2h50.7v5h-50.7zM1664.2 2051.1h50.7v5h-50.7zM1664.2 2071.1h50.7v2.5h-50.7zM1714.9 1898.7h50.7v2.5h-50.7zM1714.9 1931.2h50.7v2.5h-50.7zM1714.9 2068.6h50.7v2.5h-50.7zM1714.9 2231h50.7v2.5h-50.7zM1765.5 2196h50.7v2.5h-50.7zM1765.5 2201h50.7v2.5h-50.7zM1765.5 2206h50.7v2.5h-50.7zM1765.5 2218.5h50.7v2.5h-50.7zM1816.2 1791.3h50.7v2.5h-50.7zM1816.2 1976.2h50.7v2.5h-50.7zM1816.2 1996.2h50.7v2.5h-50.7zM1816.2 2236h50.7v2.5h-50.7zM1816.2 2266h50.7v2.5h-50.7zM1866.9 2043.6h50.7v2.5h-50.7zM1866.9 2273.4h50.7v2.5h-50.7zM1866.9 2283.4h50.7v2.5h-50.7zM1866.9 2318.4h50.7v2.5h-50.7zM1917.6 1279.2h50.7v2.5h-50.7zM1917.6 1301.7h50.7v2.5h-50.7zM1917.6 1316.7h50.7v2.5h-50.7zM1917.6 1449.1h50.7v2.5h-50.7zM1917.6 1589h50.7v2.5h-50.7zM1968.3 1211.8h50.7v2.5h-50.7zM1968.3 1219.3h50.7v5h-50.7zM1968.3 1284.2h50.7v2.5h-50.7zM1968.3 1291.7h50.7v2.5h-50.7zM1968.3 1501.6h50.7v2.5h-50.7zM1968.3 1534h50.7v2.5h-50.7zM1968.3 1539h50.7v5h-50.7zM1968.3 1546.5h50.7v2.5h-50.7zM1968.3 1678.9h50.7v2.5h-50.7zM2019 1436.6h50.7v2.5h-50.7zM2019 1456.6h50.7v2.5h-50.7zM2019 1464.1h50.7v2.5h-50.7zM2019 1469.1h50.7v2.5h-50.7zM2019 1474.1h50.7v2.5h-50.7zM2069.6 1219.3h50.7v2.5h-50.7zM2120.3 1134.3h50.7v2.5h-50.7zM2120.3 1599h50.7v2.5h-50.7zM2120.3 1611.5h50.7v2.5h-50.7zM2120.3 1619h50.7v2.5h-50.7zM2120.3 1626.5h50.7v2.5h-50.7zM2171 1131.9h50.7v2.5h-50.7zM2171 1139.3h50.7v2.5h-50.7zM2171 1146.8h50.7v2.5h-50.7zM2171 1491.6h50.7v2.5h-50.7z"/>
<path fill="#fc9961" d="M1613.5 1793.8h50.7v2.5h-50.7zM1613.5 1803.8h50.7v5h-50.7zM1613.5 1873.8h50.7v2.5h-50.7zM1613.5 1878.8h50.7v5h-50.7zM1613.5 1916.2h50.7v2.5h-50.7zM1613.5 1923.7h50.7v2.5h-50.7zM1613.5 1928.7h50.7v2.5h-50.7zM1613.5 1933.7h50.7v2.5h-50.7zM1613.5 1938.7h50.7v2.5h-50.7zM1613.5 1946.2h50.7v2.5h-50.7zM1613.5 1966.2h50.7v2.5h-50.7zM1664.2 1998.7h50.7v2.5h-50.7zM1664.2 2018.6h50.7v2.5h-50.7zM1664.2 2058.6h50.7v2.5h-50.7zM1664.2 2073.6h50.7v2.5h-50.7zM1714.9 1728.9h50.7v2.5h-50.7zM1714.9 1758.9h50.7v2.5h-50.7zM1714.9 1916.2h50.7v5h-50.7zM1714.9 1926.2h50.7v5h-50.7zM1714.9 2221h50.7v2.5h-50.7zM1714.9 2226h50.7v2.5h-50.7zM1714.9 2233.5h50.7v2.5h-50.7zM1765.5 1873.8h50.7v2.5h-50.7zM1765.5 2016.2h50.7v2.5h-50.7zM1765.5 2173.5h50.7v2.5h-50.7zM1765.5 2208.5h50.7v2.5h-50.7zM1765.5 2213.5h50.7v2.5h-50.7zM1816.2 1998.7h50.7v2.5h-50.7zM1816.2 2003.7h50.7v2.5h-50.7zM1816.2 2011.2h50.7v2.5h-50.7zM1816.2 2023.6h50.7v2.5h-50.7zM1816.2 2228.5h50.7v2.5h-50.7zM1816.2 2241h50.7v2.5h-50.7zM1816.2 2273.4h50.7v2.5h-50.7zM1866.9 1961.2h50.7v2.5h-50.7zM1866.9 2266h50.7v2.5h-50.7zM1866.9 2315.9h50.7v2.5h-50.7zM1866.9 2330.9h50.7v2.5h-50.7zM1917.6 1229.3h50.7v2.5h-50.7zM1917.6 1236.8h50.7v2.5h-50.7zM1917.6 1281.7h50.7v5h-50.7zM1917.6 1306.7h50.7v2.5h-50.7zM1917.6 1614h50.7v2.5h-50.7zM1968.3 1466.6h50.7v2.5h-50.7zM1968.3 1499.1h50.7v2.5h-50.7zM1968.3 1544h50.7v2.5h-50.7zM1968.3 1551.5h50.7v2.5h-50.7zM1968.3 1566.5h50.7v2.5h-50.7zM2019 1181.8h50.7v2.5h-50.7zM2019 1454.1h50.7v2.5h-50.7zM2019 1459.1h50.7v5h-50.7zM2019 1476.6h50.7v2.5h-50.7zM2069.6 1186.8h50.7v2.5h-50.7zM2120.3 1136.8h50.7v5h-50.7zM2120.3 1271.7h50.7v2.5h-50.7zM2120.3 1534h50.7v2.5h-50.7zM2120.3 1596.5h50.7v2.5h-50.7zM2120.3 1604h50.7v2.5h-50.7zM2120.3 1609h50.7v2.5h-50.7zM2120.3 1634h50.7v2.5h-50.7zM2120.3 1648.9h50.7v2.5h-50.7zM2120.3 1653.9h50.7v2.5h-50.7zM2120.3 1678.9h50.7v2.5h-50.7zM2120.3 1693.9h50.7v2.5h-50.7zM2171 1086.9h50.7v2.5h-50.7zM2171 1151.8h50.7v2.5h-50.7zM2171 1399.1h50.7v2.5h-50.7z"/>
<path fill="#f2784d" d="M1613.5 1796.3h50.7v5h-50.7zM1613.5 1918.7h50.7v2.5h-50.7zM1664.2 1996.2h50.7v2.5h-50.7zM1664.2 2076.1h50.7v2.5h-50.7zM1714.9 1761.4h50.7v2.5h-50.7zM1714.9 2076.1h50.7v2.5h-50.7zM1765.5 1718.9h50.7v2.5h-50.7zM1765.5 1868.8h50.7v2.5h-50.7zM1765.5 2193.5h50.7v2.5h-50.7zM1765.5 2198.5h50.7v2.5h-50.7zM1765.5 2203.5h50.7v2.5h-50.7zM1816.2 1968.7h50.7v2.5h-50.7zM1816.2 2001.2h50.7v2.5h-50.7zM1816.2 2021.1h50.7v2.5h-50.7zM1816.2 2238.5h50.7v2.5h-50.7zM1816.2 2268.5h50.7v2.5h-50.7zM1866.9 2275.9h50.7v5h-50.7zM1866.9 2285.9h50.7v2.5h-50.7zM1917.6 1231.8h50.7v5h-50.7zM1917.6 1239.3h50.7v2.5h-50.7zM1917.6 1311.7h50.7v5h-50.7zM1917.6 1319.2h50.7v2.5h-50.7zM1917.6 1346.7h50.7v5h-50.7zM1917.6 1441.6h50.7v5h-50.7zM1917.6 1586.5h50.7v2.5h-50.7zM1917.6 1596.5h50.7v2.5h-50.7zM1968.3 1469.1h50.7v2.5h-50.7zM1968.3 1494.1h50.7v2.5h-50.7zM1968.3 1536.5h50.7v2.5h-50.7zM2019 1191.8h50.7v5h-50.7zM2069.6 1209.3h50.7v2.5h-50.7zM2069.6 1214.3h50.7v2.5h-50.7zM2120.3 1141.8h50.7v2.5h-50.7zM2120.3 1204.3h50.7v2.5h-50.7zM2120.3 1264.2h50.7v2.5h-50.7zM2120.3 1269.2h50.7v2.5h-50.7zM2120.3 1274.2h50.7v2.5h-50.7zM2120.3 1601.5h50.7v2.5h-50.7zM2120.3 1616.5h50.7v2.5h-50.7zM2120.3 1629h50.7v2.5h-50.7zM2120.3 1636.5h50.7v2.5h-50.7zM2120.3 1686.4h50.7v2.5h-50.7zM2120.3 1711.4h50.7v2.5h-50.7zM2171 1081.9h50.7v2.5h-50.7zM2171 1144.3h50.7v2.5h-50.7zM2171 1149.3h50.7v2.5h-50.7zM2171 1154.3h50.7v2.5h-50.7zM2171 1406.6h50.7v2.5h-50.7z"/>
<path fill="#e96443" d="M1613.5 1801.3h50.7v2.5h-50.7zM1613.5 1808.8h50.7v5h-50.7zM1613.5 1821.3h50.7v2.5h-50.7zM1613.5 1826.3h50.7v2.5h-50.7zM1613.5 1883.8h50.7v2.5h-50.7zM1613.5 1903.7h50.7v2.5h-50.7zM1613.5 1941.2h50.7v2.5h-50.7zM1664.2 2136.1h50.7v2.5h-50.7zM1664.2 2143.6h50.7v2.5h-50.7zM1664.2 2148.5h50.7v7.5h-50.7zM1714.9 1763.9h50.7v2.5h-50.7zM1714.9 1893.7h50.7v5h-50.7zM1714.9 1908.7h50.7v5h-50.7zM1714.9 2223.5h50.7v2.5h-50.7zM1765.5 1721.4h50.7v2.5h-50.7zM1765.5 2161h50.7v2.5h-50.7zM1765.5 2166h50.7v7.5h-50.7zM1816.2 1971.2h50.7v2.5h-50.7zM1866.9 2280.9h50.7v2.5h-50.7zM1866.9 2320.9h50.7v5h-50.7zM1917.6 1226.8h50.7v2.5h-50.7zM1917.6 1291.7h50.7v2.5h-50.7zM1917.6 1304.2h50.7v2.5h-50.7zM1917.6 1309.2h50.7v2.5h-50.7zM1917.6 1321.7h50.7v2.5h-50.7zM1917.6 1591.5h50.7v2.5h-50.7zM1917.6 1601.5h50.7v2.5h-50.7zM1968.3 1514h50.7v7.5h-50.7zM1968.3 1526.5h50.7v5h-50.7zM1968.3 1564h50.7v2.5h-50.7zM2019 1184.3h50.7v7.5h-50.7zM2019 1446.6h50.7v2.5h-50.7zM2019 1466.6h50.7v2.5h-50.7zM2120.3 1201.8h50.7v2.5h-50.7zM2120.3 1266.7h50.7v2.5h-50.7zM2120.3 1409.1h50.7v2.5h-50.7zM2120.3 1606.5h50.7v2.5h-50.7zM2120.3 1614h50.7v2.5h-50.7zM2120.3 1631.5h50.7v2.5h-50.7zM2120.3 1683.9h50.7v2.5h-50.7zM2120.3 1703.9h50.7v2.5h-50.7zM2120.3 1708.9h50.7v2.5h-50.7zM2171 1401.6h50.7v2.5h-50.7z"/>
<path fill="#d63e2d" d="M1613.5 1813.8h50.7v7.5h-50.7zM1613.5 1823.8h50.7v2.5h-50.7zM1613.5 1831.3h50.7v2.5h-50.7zM1664.2 2008.7h50.7v2.5h-50.7zM1664.2 2068.6h50.7v2.5h-50.7zM1664.2 2116.1h50.7v2.5h-50.7zM1664.2 2131.1h50.7v5h-50.7zM1664.2 2138.6h50.7v2.5h-50.7zM1664.2 2146h50.7v2.5h-50.7zM1714.9 1741.4h50.7v2.5h-50.7zM1765.5 1716.4h50.7v2.5h-50.7zM1765.5 1871.3h50.7v2.5h-50.7zM1816.2 1973.7h50.7v2.5h-50.7zM1816.2 1993.7h50.7v2.5h-50.7zM1917.6 1289.2h50.7v2.5h-50.7zM1917.6 1294.2h50.7v5h-50.7zM1917.6 1336.7h50.7v2.5h-50.7zM1917.6 1354.2h50.7v2.5h-50.7zM1917.6 1374.2h50.7v2.5h-50.7zM1968.3 1471.6h50.7v5h-50.7zM1968.3 1504.1h50.7v5h-50.7zM2019 1419.1h50.7v2.5h-50.7zM2069.6 1171.8h50.7v2.5h-50.7zM2069.6 1176.8h50.7v2.5h-50.7zM2069.6 1229.3h50.7v2.5h-50.7zM2120.3 1621.5h50.7v5h-50.7zM2120.3 1638.9h50.7v2.5h-50.7zM2120.3 1643.9h50.7v2.5h-50.7zM2120.3 1671.4h50.7v2.5h-50.7zM2120.3 1676.4h50.7v2.5h-50.7zM2120.3 1681.4h50.7v2.5h-50.7zM2171 1104.4h50.7v5h-50.7zM2171 1114.4h50.7v2.5h-50.7zM2171 1141.8h50.7v2.5h-50.7zM2171 1156.8h50.7v2.5h-50.7zM2171 1394.1h50.7v5h-50.7zM2171 1404.1h50.7v2.5h-50.7z"/>
<path fill="#cf2f26" d="M1613.5 1828.8h50.7v2.5h-50.7zM1613.5 1833.8h50.7v5h-50.7zM1613.5 1843.8h50.7v7.5h-50.7zM1613.5 1861.3h50.7v7.5h-50.7zM1664.2 2111.1h50.7v2.5h-50.7zM1664.2 2123.6h50.7v2.5h-50.7zM1664.2 2128.6h50.7v2.5h-50.7zM1664.2 2156h50.7v5h-50.7zM1714.9 1738.9h50.7v2.5h-50.7zM1765.5 2178.5h50.7v10h-50.7zM1816.2 1786.3h50.7v2.5h-50.7zM1866.9 2288.4h50.7v5h-50.7zM1866.9 2298.4h50.7v2.5h-50.7zM1866.9 2305.9h50.7v2.5h-50.7zM1866.9 2310.9h50.7v2.5h-50.7zM1917.6 1299.2h50.7v2.5h-50.7zM1917.6 1331.7h50.7v5h-50.7zM1917.6 1341.7h50.7v2.5h-50.7zM1917.6 1356.7h50.7v2.5h-50.7zM1917.6 1361.7h50.7v7.5h-50.7zM1917.6 1371.7h50.7v2.5h-50.7zM1968.3 1521.5h50.7v2.5h-50.7zM1968.3 1554h50.7v5h-50.7zM1968.3 1561.5h50.7v2.5h-50.7zM1968.3 1581.5h50.7v5h-50.7zM2019 1444.1h50.7v2.5h-50.7zM2069.6 1159.3h50.7v5h-50.7zM2069.6 1169.3h50.7v2.5h-50.7zM2069.6 1174.3h50.7v2.5h-50.7zM2069.6 1226.8h50.7v2.5h-50.7zM2120.3 1641.4h50.7v2.5h-50.7zM2120.3 1658.9h50.7v2.5h-50.7zM2171 1089.4h50.7v15h-50.7zM2171 1109.4h50.7v5h-50.7zM2171 1116.9h50.7v7.5h-50.7z"/>
<path fill="#cb2d24" d="M1613.5 1838.8h50.7v5h-50.7zM1613.5 1853.8h50.7v7.5h-50.7zM1664.2 2091.1h50.7v20h-50.7zM1664.2 2113.6h50.7v2.5h-50.7zM1664.2 2118.6h50.7v2.5h-50.7zM1714.9 1731.4h50.7v5h-50.7zM1714.9 1743.9h50.7v2.5h-50.7zM1714.9 1751.4h50.7v2.5h-50.7zM1816.2 1978.7h50.7v15h-50.7zM1866.9 2268.5h50.7v2.5h-50.7zM1866.9 2295.9h50.7v2.5h-50.7zM1866.9 2300.9h50.7v5h-50.7zM1866.9 2313.4h50.7v2.5h-50.7zM1917.6 1329.2h50.7v2.5h-50.7zM1917.6 1344.2h50.7v2.5h-50.7zM1917.6 1351.7h50.7v2.5h-50.7zM1917.6 1359.2h50.7v2.5h-50.7zM1917.6 1369.2h50.7v2.5h-50.7zM1917.6 1376.7h50.7v2.5h-50.7zM1917.6 1381.7h50.7v2.5h-50.7zM1917.6 1386.6h50.7v5h-50.7zM1968.3 1571.5h50.7v10h-50.7zM2019 1424.1h50.7v10h-50.7zM2069.6 1164.3h50.7v5h-50.7zM2069.6 1179.3h50.7v2.5h-50.7zM2069.6 1231.8h50.7v2.5h-50.7zM2120.3 1661.4h50.7v10h-50.7zM2120.3 1673.9h50.7v2.5h-50.7zM2171 1124.4h50.7v7.5h-50.7z"/>
<path fill="#ca2c24" d="M1613.5 1851.3h50.7v2.5h-50.7zM1714.9 1736.4h50.7v2.5h-50.7zM1714.9 1746.4h50.7v5h-50.7zM1714.9 1753.9h50.7v2.5h-50.7zM1765.5 2176h50.7v2.5h-50.7zM1866.9 2293.4h50.7v2.5h-50.7zM1866.9 2308.4h50.7v2.5h-50.7zM1917.6 1379.2h50.7v2.5h-50.7zM1917.6 1384.2h50.7v2.5h-50.7zM1968.3 1559h50.7v2.5h-50.7zM2019 1421.6h50.7v2.5h-50.7zM2069.6 1234.3h50.7v2.5h-50.7z"/>
<path fill="#fdb272" d="M1613.5 1871.3h50.7v2.5h-50.7zM1613.5 1876.3h50.7v2.5h-50.7zM1613.5 1913.7h50.7v2.5h-50.7zM1613.5 1926.2h50.7v2.5h-50.7zM1613.5 1948.7h50.7v2.5h-50.7zM1613.5 1956.2h50.7v2.5h-50.7zM1664.2 1391.6h50.7v2.5h-50.7zM1664.2 2033.6h50.7v2.5h-50.7zM1664.2 2211h50.7v2.5h-50.7zM1714.9 1713.9h50.7v5h-50.7zM1714.9 1721.4h50.7v2.5h-50.7zM1714.9 1778.8h50.7v2.5h-50.7zM1714.9 1913.7h50.7v2.5h-50.7zM1714.9 2061.1h50.7v2.5h-50.7zM1714.9 2066.1h50.7v2.5h-50.7zM1714.9 2083.6h50.7v2.5h-50.7zM1714.9 2228.5h50.7v2.5h-50.7zM1765.5 1726.4h50.7v2.5h-50.7zM1765.5 2081.1h50.7v5h-50.7zM1816.2 1768.8h50.7v5h-50.7zM1816.2 1793.8h50.7v2.5h-50.7zM1816.2 2006.2h50.7v5h-50.7zM1816.2 2016.2h50.7v2.5h-50.7zM1816.2 2188.5h50.7v5h-50.7zM1816.2 2258.5h50.7v2.5h-50.7zM1866.9 1796.3h50.7v2.5h-50.7zM1866.9 1956.2h50.7v2.5h-50.7zM1866.9 2168.5h50.7v5h-50.7zM1866.9 2198.5h50.7v2.5h-50.7zM1866.9 2243.5h50.7v5h-50.7zM1866.9 2253.5h50.7v2.5h-50.7zM1917.6 1244.3h50.7v2.5h-50.7zM1917.6 1251.8h50.7v2.5h-50.7zM1917.6 1261.7h50.7v2.5h-50.7zM1917.6 1266.7h50.7v2.5h-50.7zM1917.6 1271.7h50.7v5h-50.7zM1917.6 1451.6h50.7v2.5h-50.7zM1968.3 1214.3h50.7v2.5h-50.7zM1968.3 1224.3h50.7v2.5h-50.7zM1968.3 1289.2h50.7v2.5h-50.7zM1968.3 1496.6h50.7v2.5h-50.7zM1968.3 2278.4h50.7v2.5h-50.7zM2019 1339.2h50.7v2.5h-50.7zM2019 1399.1h50.7v5h-50.7zM2019 1411.6h50.7v2.5h-50.7zM2019 1416.6h50.7v2.5h-50.7zM2069.6 1181.8h50.7v2.5h-50.7zM2069.6 1189.3h50.7v12.5h-50.7zM2069.6 1221.8h50.7v2.5h-50.7zM2069.6 2036.1h50.7v2.5h-50.7zM2120.3 1411.6h50.7v2.5h-50.7zM2120.3 1476.6h50.7v2.5h-50.7zM2120.3 1536.5h50.7v2.5h-50.7zM2120.3 1586.5h50.7v2.5h-50.7zM2120.3 1591.5h50.7v2.5h-50.7zM2171 1134.3h50.7v2.5h-50.7zM2171 1441.6h50.7v2.5h-50.7zM2171 1494.1h50.7v2.5h-50.7zM2171 1501.6h50.7v2.5h-50.7zM2171 1693.9h50.7v2.5h-50.7zM2171 2221h50.7v2.5h-50.7z"/>
<path fill="#fdf7b9" d="M1613.5 1996.2h50.7v2.5h-50.7zM1613.5 2253.5h50.7v2.5h-50.7zM1664.2 1249.3h50.7v2.5h-50.7zM1664.2 1356.7h50.7v2.5h-50.7zM1664.2 1451.6h50.7v2.5h-50.7zM1664.2 1881.3h50.7v2.5h-50.7zM1664.2 1893.7h50.7v2.5h-50.7zM1664.2 1933.7h50.7v2.5h-50.7zM1664.2 2218.5h50.7v2.5h-50.7zM1714.9 1219.3h50.7v2.5h-50.7zM1714.9 1636.5h50.7v2.5h-50.7zM1714.9 1941.2h50.7v2.5h-50.7zM1714.9 2006.2h50.7v2.5h-50.7zM1714.9 2098.6h50.7v2.5h-50.7zM1714.9 2111.1h50.7v2.5h-50.7zM1765.5 1356.7h50.7v2.5h-50.7zM1765.5 1546.5h50.7v2.5h-50.7zM1765.5 1743.9h50.7v2.5h-50.7zM1765.5 1936.2h50.7v2.5h-50.7zM1765.5 2051.1h50.7v2.5h-50.7zM1765.5 2111.1h50.7v5h-50.7zM1765.5 2310.9h50.7v2.5h-50.7zM1816.2 1071.9h50.7v2.5h-50.7zM1816.2 1961.2h50.7v2.5h-50.7zM1816.2 2061.1h50.7v2.5h-50.7zM1816.2 2098.6h50.7v2.5h-50.7zM1816.2 2303.4h50.7v2.5h-50.7zM1866.9 2026.1h50.7v2.5h-50.7zM1917.6 1494.1h50.7v2.5h-50.7zM1917.6 1621.5h50.7v2.5h-50.7zM1917.6 1878.8h50.7v2.5h-50.7zM1968.3 1109.4h50.7v2.5h-50.7zM1968.3 1126.9h50.7v2.5h-50.7zM1968.3 1176.8h50.7v2.5h-50.7zM1968.3 1191.8h50.7v2.5h-50.7zM1968.3 1249.3h50.7v2.5h-50.7zM1968.3 1379.2h50.7v2.5h-50.7zM1968.3 1399.1h50.7v2.5h-50.7zM1968.3 1419.1h50.7v2.5h-50.7zM1968.3 1441.6h50.7v2.5h-50.7zM1968.3 1873.8h50.7v2.5h-50.7zM1968.3 2295.9h50.7v2.5h-50.7zM2019 1266.7h50.7v2.5h-50.7zM2019 1329.2h50.7v2.5h-50.7zM2019 1351.7h50.7v2.5h-50.7zM2019 1491.6h50.7v2.5h-50.7zM2019 1509.1h50.7v2.5h-50.7zM2019 1546.5h50.7v2.5h-50.7zM2019 1634h50.7v2.5h-50.7zM2019 1656.4h50.7v2.5h-50.7zM2069.6 1369.2h50.7v2.5h-50.7zM2069.6 1441.6h50.7v2.5h-50.7zM2069.6 1529h50.7v2.5h-50.7zM2069.6 1638.9h50.7v2.5h-50.7zM2069.6 1833.8h50.7v2.5h-50.7zM2069.6 2048.6h50.7v2.5h-50.7zM2069.6 2213.5h50.7v2.5h-50.7zM2069.6 2315.9h50.7v2.5h-50.7zM2120.3 1316.7h50.7v2.5h-50.7zM2120.3 1406.6h50.7v2.5h-50.7zM2120.3 1459.1h50.7v2.5h-50.7zM2120.3 1524h50.7v2.5h-50.7zM2120.3 1771.3h50.7v2.5h-50.7zM2171 1171.8h50.7v2.5h-50.7zM2171 1436.6h50.7v2.5h-50.7zM2171 1514h50.7v2.5h-50.7zM2171 1561.5h50.7v2.5h-50.7zM2171 2093.6h50.7v2.5h-50.7z"/>
<path fill="#b1d2e4" d="M1664.2 1239.3h50.7v2.5h-50.7zM1664.2 1244.3h50.7v2.5h-50.7zM1714.9 1509.1h50.7v2.5h-50.7zM1968.3 1723.9h50.7v2.5h-50.7zM2069.6 2101.1h50.7v2.5h-50.7zM2171 1798.8h50.7v2.5h-50.7z"/>
<path fill="#a5cbe0" d="M1664.2 1241.8h50.7v2.5h-50.7zM1816.2 1696.4h50.7v2.5h-50.7zM1968.3 2101.1h50.7v2.5h-50.7z"/>
<path fill="#bddae7" d="M1664.2 1576.5h50.7v2.5h-50.7zM1664.2 1688.9h50.7v2.5h-50.7zM1866.9 1184.3h50.7v2.5h-50.7zM1866.9 1246.8h50.7v2.5h-50.7zM1866.9 1341.7h50.7v2.5h-50.7zM1917.6 1873.8h50.7v2.5h-50.7zM1917.6 2038.6h50.7v2.5h-50.7zM1917.6 2246h50.7v2.5h-50.7zM1917.6 2275.9h50.7v2.5h-50.7zM1968.3 1414.1h50.7v2.5h-50.7zM2069.6 1738.9h50.7v2.5h-50.7zM2069.6 1976.2h50.7v2.5h-50.7zM2069.6 2013.7h50.7v2.5h-50.7zM2120.3 2315.9h50.7v2.5h-50.7zM2171 2131.1h50.7v2.5h-50.7z"/>
<path fill="#e05138" d="M1664.2 1993.7h50.7v2.5h-50.7zM1664.2 2121.1h50.7v2.5h-50.7zM1664.2 2126.1h50.7v2.5h-50.7zM1664.2 2141.1h50.7v2.5h-50.7zM1765.5 1723.9h50.7v2.5h-50.7zM1765.5 2163.5h50.7v2.5h-50.7zM1765.5 2188.5h50.7v5h-50.7zM1816.2 1788.8h50.7v2.5h-50.7zM1816.2 2233.5h50.7v2.5h-50.7zM1866.9 2270.9h50.7v2.5h-50.7zM1917.6 1241.8h50.7v2.5h-50.7zM1917.6 1286.7h50.7v2.5h-50.7zM1917.6 1326.7h50.7v2.5h-50.7zM1917.6 1339.2h50.7v2.5h-50.7zM1968.3 1524h50.7v2.5h-50.7zM1968.3 1569h50.7v2.5h-50.7zM2019 1441.6h50.7v2.5h-50.7zM2120.3 1199.3h50.7v2.5h-50.7zM2171 1391.6h50.7v2.5h-50.7z"/>
<path fill="#98c3dd" d="M2019 2031.1h50.7v2.5h-50.7zM2171 2028.6h50.7v2.5h-50.7z"/>
</g>
<defs><clipPath id="rd"><rect x="1469" y="1060" width="145" height="1280"/></clipPath></defs>
<g clip-path="url(#rd)"><path d="M1614 1078.1H1549.1V1080.6H1614M1614 1075.6H1539.8V1079.4H1549.1M1614 1073.1H1534.3V1077.5H1539.8M1614 1070.6H1522.8V1075.3H1534.3M1614 1085.6H1565.1V1088.1H1614M1614 1083.1H1546.8V1086.9H1565.1M1614 1090.6H1547.3V1093.1H1614M1546.8 1085H1522.2V1091.9H1547.3M1614 1095.6H1538.7V1098.1H1614M1614 1100.6H1555.1V1103.1H1614M1614 1105.6H1556.7V1108.1H1614M1555.1 1101.9H1542.8V1106.9H1556.7M1542.8 1104.4H1536.9V1110.6H1614M1538.7 1096.9H1520.1V1107.5H1536.9M1522.2 1088.4H1510.5V1102.2H1520.1M1614 1113.1H1540.7V1115.6H1614M1614 1118.1H1554.2V1120.6H1614M1554.2 1119.4H1548.8V1123.1H1614M1540.7 1114.4H1531.8V1121.2H1548.8M1531.8 1117.8H1520.1V1125.6H1614M1510.5 1095.3H1497.8V1121.7H1520.1M1522.8 1073H1479.5V1108.5H1497.8M1614 1128.1H1566.1V1130.6H1614M1566.1 1129.4H1544.3V1133.1H1614M1614 1135.6H1553.9V1138.1H1614M1614 1140.6H1553.8V1143.1H1614M1553.9 1136.8H1536.5V1141.8H1553.8M1614 1145.6H1548.8V1148.1H1614M1614 1153.1H1546.9V1155.6H1614M1614 1158.1H1551.1V1160.6H1614M1551.1 1159.3H1547V1163.1H1614M1546.9 1154.3H1540.4V1161.2H1547M1614 1150.6H1530.4V1157.8H1540.4M1548.8 1146.8H1519.3V1154.2H1530.4M1536.5 1139.3H1510.3V1150.5H1519.3M1544.3 1131.2H1497.8V1144.9H1510.3M1479.5 1090.8H1468.3V1138.1H1497.8M1460 1114.4H1468.3M1614 1165.6H1553.2V1168.1H1614M1614 1170.6H1566.2V1173.1H1614M1566.2 1171.8H1541.6V1175.6H1614M1614 1183.1H1557.8V1185.6H1614M1614 1180.6H1546V1184.3H1557.8M1614 1178.1H1540V1182.4H1546M1541.6 1173.7H1525V1180.2H1540M1553.2 1166.8H1513.4V1177H1525M1614 1188.1H1560.1V1190.6H1614M1614 1193.1H1558.9V1195.6H1614M1560.1 1189.3H1536.1V1194.3H1558.9M1513.4 1171.9H1504.7V1191.8H1536.1M1614 1203H1556.4V1205.5H1614M1614 1200.5H1552.4V1204.3H1556.4M1614 1208H1549.2V1210.5H1614M1552.4 1202.4H1539.7V1209.3H1549.2M1614 1198H1534.4V1205.9H1539.7M1534.4 1202H1521.8V1213H1614M1504.7 1181.9H1492.7V1207.5H1521.8M1614 1220.5H1563.8V1223H1614M1563.8 1221.8H1558.7V1225.5H1614M1558.7 1223.7H1550.5V1228H1614M1614 1218H1544.1V1225.8H1550.5M1614 1215.5H1535.3V1221.9H1544.1M1535.3 1218.7H1525.7V1230.5H1614M1614 1233H1551.5V1235.5H1614M1525.7 1224.6H1518.8V1234.3H1551.5M1614 1238H1565.9V1240.5H1614M1565.9 1239.3H1544.2V1243H1614M1518.8 1229.4H1506.6V1241.1H1544.2M1492.7 1194.7H1477.6V1235.3H1506.6M1460 1215H1477.6M1614 1248H1565V1250.5H1614M1565 1249.3H1547.4V1253H1614M1547.4 1251.1H1542V1255.5H1614M1614 1245.5H1536.7V1253.3H1542M1536.7 1249.4H1526.5V1258H1614M1614 1260.5H1547.8V1263H1614M1526.5 1253.7H1514.8V1261.7H1547.8M1614 1285.5H1607V1288H1614M1614 1283H1600.5V1286.7H1607M1614 1280.5H1593.3V1284.9H1600.5M1614 1278H1585.6V1282.7H1593.3M1614 1275.5H1577.5V1280.3H1585.6M1614 1273H1569.1V1277.9H1577.5M1614 1270.5H1560.4V1275.4H1569.1M1614 1268H1551.4V1273H1560.4M1614 1265.5H1542.2V1270.5H1551.4M1514.8 1257.7H1492.5V1268H1542.2M1460 1262.9H1492.5M1614 1315.5H1608.7V1318H1614M1614 1313H1604.3V1316.7H1608.7M1614 1310.5H1599.5V1314.8H1604.3M1614 1308H1594.3V1312.6H1599.5M1614 1305.5H1588.9V1310.3H1594.3M1614 1303H1583.2V1307.9H1588.9M1614 1300.5H1577.4V1305.4H1583.2M1614 1298H1571.4V1302.9H1577.4M1614 1295.5H1565.2V1300.5H1571.4M1614 1293H1558.9V1298H1565.2M1614 1290.5H1552.5V1295.5H1558.9M1614 1320.5H1557.4V1322.9H1614M1557.4 1321.7H1545.5V1325.4H1614M1552.5 1293H1501.6V1323.6H1545.5M1614 1327.9H1551V1330.4H1614M1614 1332.9H1563.1V1335.4H1614M1551 1329.2H1528.9V1334.2H1563.1M1614 1337.9H1541.6V1340.4H1614M1614 1345.4H1560.4V1347.9H1614M1560.4 1346.7H1549V1350.4H1614M1614 1342.9H1543V1348.6H1549M1541.6 1339.2H1521.4V1345.7H1543M1614 1352.9H1549.8V1355.4H1614M1549.8 1354.2H1539V1357.9H1614M1614 1360.4H1564.2V1362.9H1614M1539 1356H1531.1V1361.7H1564.2M1614 1370.4H1560.2V1372.9H1614M1614 1367.9H1547.5V1371.7H1560.2M1547.5 1369.8H1541V1375.4H1614M1541 1372.6H1528.7V1377.9H1614M1614 1365.4H1520.8V1375.3H1528.7M1531.1 1358.9H1512.5V1370.3H1520.8M1521.4 1342.5H1506.4V1364.6H1512.5M1528.9 1331.7H1496V1353.5H1506.4M1614 1382.9H1547.4V1385.4H1614M1614 1380.4H1536.5V1384.2H1547.4M1614 1390.4H1558.5V1392.9H1614M1614 1387.9H1551.2V1391.6H1558.5M1536.5 1382.3H1526.2V1389.8H1551.2M1496 1342.6H1484.7V1386H1526.2M1501.6 1308.3H1467V1364.3H1484.7M1460 1336.3H1467M1614 1395.4H1566.8V1397.9H1614M1566.8 1396.6H1536.5V1400.4H1614M1614 1405.4H1558.3V1407.9H1614M1558.3 1406.6H1546.6V1410.4H1614M1614 1420.4H1564.6V1422.9H1614M1614 1417.9H1549.3V1421.6H1564.6M1614 1415.4H1544.2V1419.7H1549.3M1544.2 1417.6H1537.4V1425.4H1614M1614 1412.9H1530.6V1421.5H1537.4M1546.6 1408.5H1522.2V1417.2H1530.6M1614 1402.9H1513.6V1412.8H1522.2M1614 1427.9H1565.2V1430.4H1614M1513.6 1407.9H1503.4V1429.1H1565.2M1614 1432.9H1557.1V1435.4H1614M1557.1 1434.1H1547.9V1437.9H1614M1547.9 1436H1538.9V1440.4H1614M1503.4 1418.5H1498.9V1438.2H1538.9M1614 1442.9H1566.2V1445.4H1614M1614 1450.3H1556V1452.8H1614M1614 1447.9H1548V1451.6H1556M1614 1455.3H1563.6V1457.8H1614M1548 1449.7H1543.1V1456.6H1563.6M1543.1 1453.2H1539V1460.3H1614M1566.2 1444.1H1526.5V1456.7H1539M1526.5 1450.4H1516.4V1462.8H1614M1614 1465.3H1554.8V1467.8H1614M1554.8 1466.6H1536.1V1470.3H1614M1614 1475.3H1560.7V1477.8H1614M1614 1472.8H1542.4V1476.6H1560.7M1536.1 1468.5H1525.1V1474.7H1542.4M1516.4 1456.6H1497.8V1471.6H1525.1M1498.9 1428.3H1485.2V1464.1H1497.8M1536.5 1398.5H1471.6V1446.2H1485.2M1460 1422.4H1471.6M1614 1480.3H1562.9V1482.8H1614M1614 1485.3H1561.2V1487.8H1614M1561.2 1486.6H1548.9V1490.3H1614M1562.9 1481.6H1523.8V1488.4H1548.9M1614 1505.3H1604.7V1507.8H1614M1614 1502.8H1595.3V1506.6H1604.7M1614 1500.3H1584.9V1504.7H1595.3M1614 1497.8H1573.7V1502.5H1584.9M1614 1495.3H1561.9V1500.2H1573.7M1614 1492.8H1549.6V1497.7H1561.9M1614 1510.3H1544.1V1512.8H1614M1544.1 1511.6H1536.8V1515.3H1614M1614 1520.3H1552.2V1522.8H1614M1552.2 1521.5H1540.1V1525.3H1614M1614 1530.3H1566.9V1532.8H1614M1614 1535.3H1559.2V1537.8H1614M1566.9 1531.5H1547V1536.5H1559.2M1614 1527.8H1534.3V1534H1547M1540.1 1523.4H1524.8V1530.9H1534.3M1614 1517.8H1514.3V1527.2H1524.8M1536.8 1513.4H1507.8V1522.5H1514.3M1549.6 1495.3H1499.5V1518H1507.8M1614 1542.8H1554.3V1545.3H1614M1554.3 1544H1548.6V1547.8H1614M1548.6 1545.9H1538.7V1550.3H1614M1614 1540.3H1531.9V1548.1H1538.7M1614 1552.8H1548.3V1555.3H1614M1531.9 1544.2H1524.2V1554H1548.3M1614 1557.8H1542.3V1560.3H1614M1614 1565.3H1561.4V1567.8H1614M1614 1562.8H1541V1566.5H1561.4M1542.3 1559H1529.5V1564.6H1541M1524.2 1549.1H1515.4V1561.8H1529.5M1614 1570.3H1549.1V1572.8H1614M1515.4 1555.5H1503.3V1571.5H1549.1M1614 1575.2H1555.3V1577.7H1614M1614 1580.2H1546.5V1582.7H1614M1614 1585.2H1546.1V1587.7H1614M1546.5 1581.5H1533.9V1586.5H1546.1M1555.3 1576.5H1526.1V1584H1533.9M1526.1 1580.2H1517.8V1590.2H1614M1614 1595.2H1558.6V1597.7H1614M1614 1592.7H1545.9V1596.5H1558.6M1517.8 1585.2H1504.7V1594.6H1545.9M1503.3 1563.5H1491.4V1589.9H1504.7M1499.5 1506.6H1471.2V1576.7H1491.4M1523.8 1485H1461.6V1541.7H1471.2M1460 1513.3H1461.6M1614 1605.2H1559.7V1607.7H1614M1614 1602.7H1551.5V1606.5H1559.7M1614 1600.2H1537.3V1604.6H1551.5M1614 1610.2H1555.1V1612.7H1614M1555.1 1611.5H1545.3V1615.2H1614M1614 1617.7H1548V1620.2H1614M1614 1622.7H1555.6V1625.2H1614M1548 1619H1542.7V1624H1555.6M1614 1627.7H1563.4V1630.2H1614M1563.4 1629H1547.3V1632.7H1614M1542.7 1621.5H1535.3V1630.8H1547.3M1545.3 1613.3H1524.3V1626.1H1535.3M1614 1635.2H1555.9V1637.7H1614M1524.3 1619.7H1511.7V1636.5H1555.9M1537.3 1602.4H1502.3V1628.1H1511.7M1614 1640.2H1563V1642.7H1614M1614 1645.2H1566.1V1647.7H1614M1563 1641.4H1543.2V1646.4H1566.1M1502.3 1615.3H1497.4V1643.9H1543.2M1614 1657.7H1557.2V1660.2H1614M1614 1655.2H1549.5V1658.9H1557.2M1614 1652.7H1539.6V1657.1H1549.5M1614 1662.7H1544V1665.2H1614M1539.6 1654.9H1526.8V1663.9H1544M1614 1650.2H1519.5V1659.4H1526.8M1614 1695.2H1608.8V1697.7H1614M1614 1692.7H1604.8V1696.4H1608.8M1614 1690.2H1600.2V1694.5H1604.8M1614 1687.7H1595.4V1692.3H1600.2M1614 1685.2H1590.3V1690H1595.4M1614 1682.7H1584.9V1687.6H1590.3M1614 1680.2H1579.4V1685.1H1584.9M1614 1677.7H1573.8V1682.6H1579.4M1614 1675.2H1568V1680.2H1573.8M1614 1672.7H1562V1677.7H1568M1614 1670.2H1556V1675.2H1562M1614 1667.7H1549.8V1672.7H1556M1519.5 1654.8H1486.2V1670.2H1549.8M1497.4 1629.6H1474V1662.5H1486.2M1460 1646H1474M1614 1702.6H1553.5V1705.1H1614M1553.5 1703.9H1548.3V1707.6H1614M1614 1710.1H1550.6V1712.6H1614M1548.3 1705.8H1536V1711.4H1550.6M1614 1700.2H1517.1V1708.6H1536M1614 1715.1H1566.7V1717.6H1614M1566.7 1716.4H1549.4V1720.1H1614M1549.4 1718.3H1539.3V1722.6H1614M1614 1725.1H1546.1V1727.6H1614M1614 1730.1H1564.3V1732.6H1614M1564.3 1731.4H1536.4V1735.1H1614M1546.1 1726.4H1523.3V1733.2H1536.4M1539.3 1720.4H1507.4V1729.8H1523.3M1614 1740.1H1567V1742.6H1614M1614 1737.6H1549.7V1741.4H1567M1614 1750.1H1552.7V1752.6H1614M1614 1747.6H1542.4V1751.4H1552.7M1614 1757.6H1553.3V1760.1H1614M1614 1755.1H1546.9V1758.9H1553.3M1546.9 1757H1535.6V1762.6H1614M1542.4 1749.5H1527.8V1759.8H1535.6M1614 1745.1H1522.6V1754.6H1527.8M1614 1767.6H1564V1770.1H1614M1614 1765.1H1536.3V1768.8H1564M1522.6 1749.9H1512.3V1767H1536.3M1549.7 1739.5H1506.9V1758.4H1512.3M1507.4 1725.1H1496.5V1749H1506.9M1614 1775.1H1558.3V1777.6H1614M1614 1772.6H1547V1776.3H1558.3M1547 1774.5H1539.3V1780.1H1614M1614 1785.1H1560.4V1787.6H1614M1614 1782.6H1537.3V1786.3H1560.4M1539.3 1777.3H1527V1784.5H1537.3M1496.5 1737H1485.4V1780.9H1527M1517.1 1704.4H1471.2V1759H1485.4M1460 1731.7H1471.2M1614 1790.1H1538.8V1792.6H1614M1614 1805.1H1566.4V1807.6H1614M1614 1802.6H1558.4V1806.3H1566.4M1614 1800.1H1545.4V1804.4H1558.4M1614 1797.6H1540.2V1802.3H1545.4M1614 1812.6H1563.2V1815.1H1614M1563.2 1813.8H1551.3V1817.6H1614M1614 1810.1H1544.3V1815.7H1551.3M1544.3 1812.9H1539.8V1820.1H1614M1540.2 1799.9H1529.5V1816.5H1539.8M1614 1795.1H1521.5V1808.2H1529.5M1614 1825.1H1559.4V1827.6H1614M1559.4 1826.3H1551.6V1830H1614M1614 1832.5H1557.1V1835H1614M1551.6 1828.2H1536.6V1833.8H1557.1M1614 1822.6H1526.8V1831H1536.6M1521.5 1801.6H1510.2V1826.8H1526.8M1538.8 1791.3H1502.8V1814.2H1510.2M1614 1840H1567V1842.5H1614M1614 1837.5H1541.8V1841.3H1567M1502.8 1802.8H1493.9V1839.4H1541.8M1614 1845H1554.4V1847.5H1614M1614 1850H1551.1V1852.5H1614M1554.4 1846.3H1540.3V1851.3H1551.1M1540.3 1848.8H1531.1V1855H1614M1614 1857.5H1550.4V1860H1614M1614 1862.5H1566.4V1865H1614M1566.4 1863.8H1549.9V1867.5H1614M1550.4 1858.8H1539.5V1865.6H1549.9M1539.5 1862.2H1531.2V1870H1614M1614 1872.5H1560.7V1875H1614M1614 1877.5H1566.2V1880H1614M1560.7 1873.8H1540.8V1878.8H1566.2M1614 1882.5H1559.8V1885H1614M1559.8 1883.8H1547.8V1887.5H1614M1614 1890H1561.5V1892.5H1614M1547.8 1885.6H1536.7V1891.2H1561.5M1540.8 1876.3H1526.5V1888.4H1536.7M1526.5 1882.4H1518.7V1895H1614M1531.2 1866.1H1511.6V1888.7H1518.7M1531.1 1851.9H1505.3V1877.4H1511.6M1614 1897.5H1544.7V1900H1614M1505.3 1864.6H1493.6V1898.7H1544.7M1493.9 1821.1H1467.2V1881.7H1493.6M1460 1851.4H1467.2M1614 1907.5H1549.1V1910H1614M1614 1905H1543V1908.7H1549.1M1614 1917.5H1553.5V1920H1614M1614 1915H1548.8V1918.7H1553.5M1614 1912.5H1542V1916.9H1548.8M1614 1922.5H1554.2V1925H1614M1614 1927.5H1564.9V1930H1614M1554.2 1923.7H1533.3V1928.7H1564.9M1542 1914.7H1522.9V1926.2H1533.3M1543 1906.9H1512.8V1920.4H1522.9M1614 1902.5H1504.5V1913.7H1512.8M1614 1935H1560.4V1937.5H1614M1614 1932.5H1542.5V1936.2H1560.4M1614 1940H1551.6V1942.5H1614M1551.6 1941.2H1543.6V1945H1614M1542.5 1934.3H1534.4V1943.1H1543.6M1534.4 1938.7H1526.2V1947.5H1614M1614 1952.5H1564.6V1954.9H1614M1614 1959.9H1554.1V1962.4H1614M1614 1964.9H1553.5V1967.4H1614M1554.1 1961.2H1548.5V1966.2H1553.5M1614 1957.4H1536.8V1963.7H1548.5M1564.6 1953.7H1528.7V1960.6H1536.8M1614 1950H1523.7V1957.1H1528.7M1614 1969.9H1544.3V1972.4H1614M1523.7 1953.5H1514.3V1971.2H1544.3M1526.2 1943.1H1506.5V1962.4H1514.3M1504.5 1908.1H1499.7V1952.7H1506.5M1614 1974.9H1542.2V1977.4H1614M1499.7 1930.4H1487.1V1976.2H1542.2M1614 1982.4H1555.1V1984.9H1614M1614 1979.9H1540V1983.7H1555.1M1487.1 1953.3H1481.8V1981.8H1540M1460 1967.5H1481.8M1614 1987.4H1557.2V1989.9H1614M1614 1992.4H1565.7V1994.9H1614M1565.7 1993.7H1550.9V1997.4H1614M1557.2 1988.7H1529.2V1995.5H1550.9M1614 2002.4H1564.7V2004.9H1614M1614 1999.9H1551V2003.7H1564.7M1614 2007.4H1574.9V2009.9H1614M1574.9 2008.7H1563.7V2012.4H1614M1614 2014.9H1566.7V2017.4H1614M1563.7 2010.5H1556.2V2016.2H1566.7M1551 2001.8H1544.7V2013.3H1556.2M1614 2019.9H1563.6V2022.4H1614M1563.6 2021.1H1552.3V2024.9H1614M1614 2027.4H1564.7V2029.9H1614M1564.7 2028.6H1553.6V2032.4H1614M1552.3 2023H1541.7V2030.5H1553.6M1544.7 2007.6H1535.7V2026.8H1541.7M1535.7 2017.2H1524V2034.9H1614M1614 2037.4H1564.2V2039.9H1614M1524 2026H1513.5V2038.6H1564.2M1614 2047.4H1558.5V2049.9H1614M1614 2044.9H1550V2048.6H1558.5M1550 2046.8H1533.2V2052.4H1614M1614 2042.4H1526.7V2049.6H1533.2M1614 2062.4H1562.7V2064.9H1614M1614 2059.9H1544.5V2063.6H1562.7M1614 2057.4H1535.2V2061.7H1544.5M1614 2054.9H1531V2059.6H1535.2M1526.7 2046H1518.8V2057.2H1531M1513.5 2032.3H1507.2V2051.6H1518.8M1614 2067.4H1551.4V2069.9H1614M1507.2 2042H1496.6V2068.6H1551.4M1614 2072.4H1565.7V2074.9H1614M1496.6 2055.3H1489.8V2073.6H1565.7M1529.2 1992.1H1481.7V2064.4H1489.8M1614 2077.4H1547.6V2079.9H1614M1614 2082.3H1546.6V2084.8H1614M1547.6 2078.6H1532.6V2083.6H1546.6M1481.7 2028.3H1471.7V2081.1H1532.6M1460 2054.7H1471.7M1614 2089.8H1544.5V2092.3H1614M1614 2094.8H1550.5V2097.3H1614M1550.5 2096.1H1537.8V2099.8H1614M1544.5 2091.1H1532V2098H1537.8M1614 2087.3H1519.8V2094.5H1532M1614 2104.8H1561.5V2107.3H1614M1614 2102.3H1536.2V2106.1H1561.5M1614 2112.3H1556.4V2114.8H1614M1614 2109.8H1537.3V2113.6H1556.4M1614 2117.3H1557.9V2119.8H1614M1537.3 2111.7H1524.2V2118.6H1557.9M1536.2 2104.2H1516.1V2115.1H1524.2M1614 2124.8H1563.6V2127.3H1614M1614 2122.3H1547.6V2126.1H1563.6M1516.1 2109.7H1504.4V2124.2H1547.6M1614 2132.3H1560.7V2134.8H1614M1614 2129.8H1548.5V2133.6H1560.7M1614 2137.3H1546.2V2139.8H1614M1548.5 2131.7H1537.2V2138.6H1546.2M1537.2 2135.1H1518.1V2142.3H1614M1614 2147.3H1554.7V2149.8H1614M1614 2152.3H1549V2154.8H1614M1554.7 2148.5H1537.2V2153.5H1549M1614 2144.8H1530.4V2151H1537.2M1518.1 2138.7H1502.5V2147.9H1530.4M1504.4 2116.9H1491V2143.3H1502.5M1614 2159.8H1547.7V2162.3H1614M1614 2167.3H1572.1V2169.8H1614M1572.1 2168.5H1563.8V2172.3H1614M1563.8 2170.4H1552.7V2174.8H1614M1614 2164.8H1544.7V2172.6H1552.7M1547.7 2161H1538.8V2168.7H1544.7M1614 2157.3H1532.2V2164.9H1538.8M1532.2 2161.1H1520.5V2177.3H1614M1520.5 2169.2H1509.4V2179.8H1614M1491 2130.1H1484V2174.5H1509.4M1519.8 2090.9H1468.1V2152.3H1484M1460 2121.6H1468.1M1614 2184.8H1560.5V2187.3H1614M1614 2182.3H1548V2186H1560.5M1548 2184.1H1532.6V2189.8H1614M1614 2194.8H1563.7V2197.3H1614M1614 2192.3H1540V2196H1563.7M1614 2199.8H1552.7V2202.3H1614M1552.7 2201H1546V2204.8H1614M1540 2194.1H1529V2202.9H1546M1614 2209.7H1553.1V2212.2H1614M1614 2207.2H1540.7V2211H1553.1M1614 2217.2H1562.5V2219.7H1614M1614 2214.7H1539V2218.5H1562.5M1540.7 2209.1H1527.3V2216.6H1539M1614 2234.7H1604.1V2237.2H1614M1614 2232.2H1594V2236H1604.1M1614 2229.7H1582.7V2234.1H1594M1614 2227.2H1570.6V2231.9H1582.7M1614 2224.7H1557.8V2229.6H1570.6M1614 2222.2H1544.6V2227.2H1557.8M1527.3 2212.9H1509.6V2224.7H1544.6M1529 2198.5H1487.1V2218.8H1509.6M1532.6 2187H1482.8V2208.6H1487.1M1614 2239.7H1563V2242.2H1614M1563 2241H1547V2244.7H1614M1614 2249.7H1549.7V2252.2H1614M1614 2247.2H1539.8V2251H1549.7M1547 2242.8H1528.6V2249.1H1539.8M1614 2259.7H1558.8V2262.2H1614M1614 2257.2H1548V2261H1558.8M1548 2259.1H1539.5V2264.7H1614M1614 2254.7H1526.7V2261.9H1539.5M1528.6 2246H1509.3V2258.3H1526.7M1482.8 2197.8H1478.1V2252.1H1509.3M1460 2225H1478.1M1614 2269.7H1552V2272.2H1614M1614 2274.7H1554.4V2277.2H1614M1552 2270.9H1539.1V2275.9H1554.4M1614 2267.2H1535.1V2273.4H1539.1M1614 2282.2H1548.7V2284.7H1614M1614 2279.7H1541.2V2283.4H1548.7M1614 2289.7H1552.8V2292.2H1614M1614 2287.2H1545.8V2290.9H1552.8M1541.2 2281.6H1523.3V2289.1H1545.8M1535.1 2270.3H1513V2285.3H1523.3M1614 2297.2H1552.4V2299.7H1614M1614 2294.7H1540.7V2298.4H1552.4M1513 2277.8H1499V2296.6H1540.7M1614 2302.2H1538.3V2304.7H1614M1614 2312.2H1551.8V2314.7H1614M1614 2317.2H1561.1V2319.7H1614M1551.8 2313.4H1539.2V2318.4H1561.1M1614 2324.7H1549.4V2327.2H1614M1614 2329.7H1545.1V2332.2H1614M1549.4 2325.9H1540.2V2330.9H1545.1M1614 2322.2H1533.4V2328.4H1540.2M1539.2 2315.9H1527V2325.3H1533.4M1614 2309.7H1514.9V2320.6H1527M1614 2307.2H1504.1V2315.1H1514.9M1538.3 2303.4H1497.4V2311.2H1504.1M1499 2287.2H1481.4V2307.3H1497.4M1460 2297.2H1481.4" fill="none" stroke="#000" stroke-width="2.7" stroke-linejoin="miter"/></g>
<defs><linearGradient id="hb" x1="0" y1="1" x2="0" y2="0">
<stop offset="0%" stop-color="#4575b4"/>
<stop offset="16.6%" stop-color="#91bfdb"/>
<stop offset="33.1%" stop-color="#deeef0"/>
<stop offset="49.9%" stop-color="#fdfbc0"/>
<stop offset="66.6%" stop-color="#fee090"/>
<stop offset="83.4%" stop-color="#fc8d59"/>
<stop offset="95.9%" stop-color="#d03026"/>
<stop offset="100%" stop-color="#ca2c24"/>
</linearGradient></defs>
<rect x="2242.2" y="1069.6" width="40.8" height="556.4" fill="url(#hb)"/>
<g fill="#000" font-size="38.5">
<text x="2301.5" y="1098.9">3</text>
<text x="2301.5" y="1186.8">2</text>
<text x="2301.5" y="1274.5">1</text>
<text x="2301.5" y="1362.3">0</text>
<text x="2301.5" y="1450.1">−1</text>
<text x="2301.5" y="1537.9">−2</text>
<text x="2301.5" y="1625.8">−3</text>
<text x="2233" y="1052.6" font-size="41">group</text>
<text x="2242" y="1731.6" font-size="41">group</text>
<text x="2302.5" y="1809" font-size="41.2">Control</text>
<text x="2302.5" y="1863.7" font-size="41.2">NADH</text>
<text x="1950.3" y="875.8" font-size="41.8" text-anchor="middle">Heatmap</text>
<text transform="translate(1623.6 2344.8) rotate(90)" font-size="41.5" textLength="47.5" lengthAdjust="spacingAndGlyphs">C6</text>
<text transform="translate(1674.3 2344.8) rotate(90)" font-size="41.5" textLength="47.5" lengthAdjust="spacingAndGlyphs">C1</text>
<text transform="translate(1725 2344.8) rotate(90)" font-size="41.5" textLength="47.5" lengthAdjust="spacingAndGlyphs">C5</text>
<text transform="translate(1775.7 2344.8) rotate(90)" font-size="41.5" textLength="47.5" lengthAdjust="spacingAndGlyphs">C2</text>
<text transform="translate(1826.4 2344.8) rotate(90)" font-size="41.5" textLength="47.5" lengthAdjust="spacingAndGlyphs">C3</text>
<text transform="translate(1877.1 2344.8) rotate(90)" font-size="41.5" textLength="47.5" lengthAdjust="spacingAndGlyphs">C4</text>
<text transform="translate(1927.7 2344.8) rotate(90)" font-size="41.5" textLength="47.5" lengthAdjust="spacingAndGlyphs">N6</text>
<text transform="translate(1978.4 2344.8) rotate(90)" font-size="41.5" textLength="47.5" lengthAdjust="spacingAndGlyphs">N1</text>
<text transform="translate(2029.1 2344.8) rotate(90)" font-size="41.5" textLength="47.5" lengthAdjust="spacingAndGlyphs">N3</text>
<text transform="translate(2079.8 2344.8) rotate(90)" font-size="41.5" textLength="47.5" lengthAdjust="spacingAndGlyphs">N5</text>
<text transform="translate(2130.5 2344.8) rotate(90)" font-size="41.5" textLength="47.5" lengthAdjust="spacingAndGlyphs">N2</text>
<text transform="translate(2181.2 2344.8) rotate(90)" font-size="41.5" textLength="47.5" lengthAdjust="spacingAndGlyphs">N4</text>
</g>
<rect x="2233.8" y="1771.6" width="58.1" height="53.2" fill="#4abbc7"/><rect x="2233.8" y="1824.8" width="58.1" height="53.1" fill="#f08b86"/>
<g font-weight="bold" font-size="75.5" fill="#231815">
<text x="2.5" y="88.6">A</text><text x="718.5" y="89.6">B</text><text x="1609.5" y="88.6">C</text><text x="92.5" y="892.9">D</text><text x="1442.5" y="909.5">E</text></g>

</svg>
</body></html>
